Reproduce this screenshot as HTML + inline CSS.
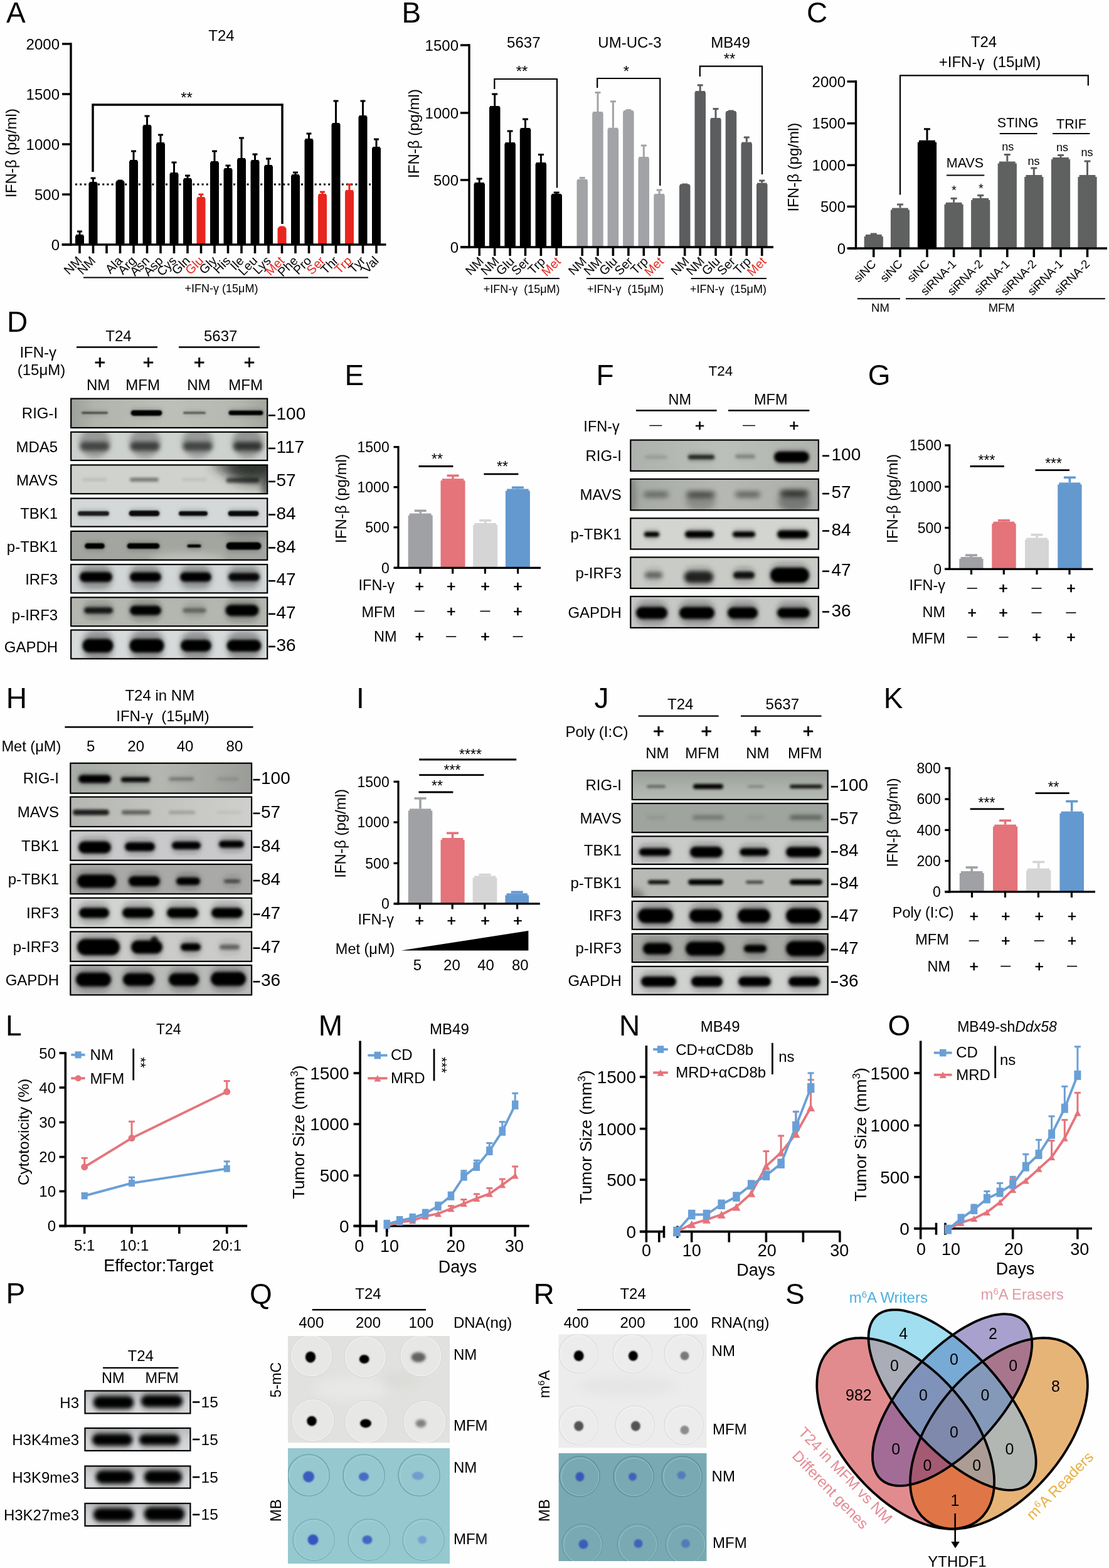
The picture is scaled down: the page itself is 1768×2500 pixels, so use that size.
<!DOCTYPE html>
<html><head><meta charset="utf-8"><title>Figure</title>
<style>html,body{margin:0;padding:0;background:#fff;overflow:hidden;} svg{display:block;}</style></head>
<body><svg width="1768" height="2500" viewBox="0 0 1768 2500" font-family='"Liberation Sans", Arial, Helvetica, sans-serif'>
<rect width="1768" height="2500" fill="#fefefe"/>
<defs><filter id="b1" x="-100%" y="-400%" width="300%" height="900%"><feGaussianBlur stdDeviation="1"/></filter><filter id="b2" x="-100%" y="-400%" width="300%" height="900%"><feGaussianBlur stdDeviation="2"/></filter><filter id="b3" x="-100%" y="-400%" width="300%" height="900%"><feGaussianBlur stdDeviation="3"/></filter><filter id="b4" x="-100%" y="-400%" width="300%" height="900%"><feGaussianBlur stdDeviation="4"/></filter><filter id="b5" x="-100%" y="-400%" width="300%" height="900%"><feGaussianBlur stdDeviation="5"/></filter><filter id="b6" x="-100%" y="-400%" width="300%" height="900%"><feGaussianBlur stdDeviation="6"/></filter><filter id="b8" x="-100%" y="-400%" width="300%" height="900%"><feGaussianBlur stdDeviation="8"/></filter><filter id="b10" x="-100%" y="-400%" width="300%" height="900%"><feGaussianBlur stdDeviation="10"/></filter><filter id="b14" x="-100%" y="-400%" width="300%" height="900%"><feGaussianBlur stdDeviation="14"/></filter><clipPath id="c1"><rect x="113.2" y="635.6" width="313.0" height="46.4"/></clipPath><linearGradient id="g1" x1="0" y1="0" x2="1" y2="0"><stop offset="0" stop-color="#9ca199"/><stop offset="0.12" stop-color="#b0b4ac"/><stop offset="0.5" stop-color="#bcc0b8"/><stop offset="0.85" stop-color="#b4b8b0"/><stop offset="1" stop-color="#a2a69e"/></linearGradient><clipPath id="c2"><rect x="113.2" y="688.8" width="313.0" height="45.2"/></clipPath><clipPath id="c3"><rect x="113.2" y="741.4" width="313.0" height="45.8"/></clipPath><clipPath id="c4"><rect x="113.2" y="794.6" width="313.0" height="45.0"/></clipPath><clipPath id="c5"><rect x="113.2" y="847.0" width="313.0" height="45.8"/></clipPath><clipPath id="c6"><rect x="113.2" y="900.0" width="313.0" height="45.4"/></clipPath><clipPath id="c7"><rect x="113.2" y="952.5" width="313.0" height="45.8"/></clipPath><clipPath id="c8"><rect x="113.2" y="1004.5" width="313.0" height="45.8"/></clipPath><clipPath id="c9"><rect x="1005.3" y="701.6" width="299.6" height="49.3"/></clipPath><linearGradient id="g9" x1="0" y1="0" x2="1" y2="0"><stop offset="0" stop-color="#aeb2ac"/><stop offset="0.5" stop-color="#bcc0ba"/><stop offset="1" stop-color="#b0b3ad"/></linearGradient><clipPath id="c10"><rect x="1005.3" y="763.8" width="299.6" height="49.6"/></clipPath><linearGradient id="g10" x1="0" y1="0" x2="1" y2="0"><stop offset="0" stop-color="#a6aaa4"/><stop offset="0.5" stop-color="#b6b9b3"/><stop offset="1" stop-color="#aaada8"/></linearGradient><clipPath id="c11"><rect x="1005.3" y="826.3" width="299.6" height="49.3"/></clipPath><clipPath id="c12"><rect x="1005.3" y="888.5" width="299.6" height="49.5"/></clipPath><clipPath id="c13"><rect x="1005.3" y="951.0" width="299.6" height="49.9"/></clipPath><clipPath id="c14"><rect x="112.3" y="1216.8" width="288.8" height="47.9"/></clipPath><linearGradient id="g14" x1="0" y1="0" x2="1" y2="0"><stop offset="0" stop-color="#a8aca6"/><stop offset="0.5" stop-color="#b3b6b1"/><stop offset="1" stop-color="#9a9c98"/></linearGradient><clipPath id="c15"><rect x="112.3" y="1270.6" width="288.8" height="47.4"/></clipPath><linearGradient id="g15" x1="0" y1="0" x2="1" y2="0"><stop offset="0" stop-color="#b4b6b2"/><stop offset="0.5" stop-color="#c3c4c0"/><stop offset="1" stop-color="#cfd0cd"/></linearGradient><clipPath id="c16"><rect x="112.3" y="1324.4" width="288.8" height="47.3"/></clipPath><clipPath id="c17"><rect x="112.3" y="1378.0" width="288.8" height="47.2"/></clipPath><clipPath id="c18"><rect x="112.3" y="1431.7" width="288.8" height="47.3"/></clipPath><clipPath id="c19"><rect x="112.3" y="1485.5" width="288.8" height="47.3"/></clipPath><clipPath id="c20"><rect x="112.3" y="1539.0" width="288.8" height="47.3"/></clipPath><clipPath id="c21"><rect x="1007.8" y="1228.7" width="311.9" height="46.2"/></clipPath><linearGradient id="g21" x1="0" y1="0" x2="0" y2="1"><stop offset="0" stop-color="#9a9e98"/><stop offset="0.6" stop-color="#aeb2ac"/><stop offset="1" stop-color="#b6bab4"/></linearGradient><clipPath id="c22"><rect x="1007.8" y="1281.0" width="311.9" height="46.2"/></clipPath><clipPath id="c23"><rect x="1007.8" y="1333.4" width="311.9" height="44.6"/></clipPath><clipPath id="c24"><rect x="1007.8" y="1384.8" width="311.9" height="45.2"/></clipPath><clipPath id="c25"><rect x="1007.8" y="1437.0" width="311.9" height="44.8"/></clipPath><clipPath id="c26"><rect x="1007.8" y="1488.9" width="311.9" height="45.2"/></clipPath><clipPath id="c27"><rect x="1007.8" y="1540.9" width="311.9" height="44.9"/></clipPath><clipPath id="c28"><rect x="135.5" y="2217.5" width="167.9" height="36.0"/></clipPath><linearGradient id="g28" x1="0" y1="0" x2="0" y2="1"><stop offset="0" stop-color="#b8babc"/><stop offset="0.5" stop-color="#cfd1d3"/><stop offset="1" stop-color="#d8dadb"/></linearGradient><clipPath id="c29"><rect x="135.5" y="2277.0" width="167.9" height="36.0"/></clipPath><linearGradient id="g29" x1="0" y1="0" x2="0" y2="1"><stop offset="0" stop-color="#b8babc"/><stop offset="0.5" stop-color="#cfd1d3"/><stop offset="1" stop-color="#d8dadb"/></linearGradient><clipPath id="c30"><rect x="135.5" y="2337.5" width="167.9" height="35.2"/></clipPath><linearGradient id="g30" x1="0" y1="0" x2="0" y2="1"><stop offset="0" stop-color="#b8babc"/><stop offset="0.5" stop-color="#cfd1d3"/><stop offset="1" stop-color="#d8dadb"/></linearGradient><clipPath id="c31"><rect x="135.5" y="2397.0" width="167.9" height="35.9"/></clipPath><linearGradient id="g31" x1="0" y1="0" x2="0" y2="1"><stop offset="0" stop-color="#b8babc"/><stop offset="0.5" stop-color="#cfd1d3"/><stop offset="1" stop-color="#d8dadb"/></linearGradient><clipPath id="cq1"><rect x="459" y="2130" width="258.2" height="170.6"/></clipPath><clipPath id="cq2"><rect x="459" y="2309" width="258.2" height="184.2"/></clipPath><clipPath id="cr1"><rect x="890.4" y="2127.2" width="236.3" height="181.3"/></clipPath><clipPath id="cr2"><rect x="890.4" y="2317" width="236.3" height="172"/></clipPath><clipPath id="cp_pink"><path d="M1320.9,2153.3 L1318.6,2156.0 L1316.4,2158.9 L1314.3,2161.9 L1312.4,2165.1 L1310.6,2168.4 L1309.0,2171.9 L1307.6,2175.5 L1306.4,2179.2 L1305.3,2183.1 L1304.4,2187.1 L1303.6,2191.2 L1303.0,2195.4 L1302.6,2199.7 L1302.4,2204.2 L1302.3,2208.7 L1302.4,2213.4 L1302.7,2218.1 L1303.2,2222.9 L1303.8,2227.8 L1304.6,2232.7 L1305.5,2237.7 L1306.7,2242.8 L1308.0,2247.9 L1309.4,2253.1 L1311.1,2258.3 L1312.9,2263.6 L1314.8,2268.8 L1316.9,2274.1 L1319.2,2279.4 L1321.6,2284.7 L1324.1,2290.1 L1326.8,2295.4 L1329.7,2300.7 L1332.7,2305.9 L1335.8,2311.2 L1339.1,2316.4 L1342.4,2321.6 L1345.9,2326.7 L1349.6,2331.8 L1353.3,2336.8 L1357.2,2341.8 L1361.1,2346.7 L1365.2,2351.5 L1369.3,2356.3 L1373.6,2360.9 L1377.9,2365.5 L1382.3,2370.0 L1386.8,2374.3 L1391.3,2378.6 L1395.9,2382.7 L1400.6,2386.8 L1405.3,2390.7 L1410.1,2394.4 L1414.9,2398.1 L1419.8,2401.6 L1424.6,2404.9 L1429.5,2408.2 L1434.5,2411.2 L1439.4,2414.1 L1444.3,2416.9 L1449.3,2419.5 L1454.2,2421.9 L1459.1,2424.2 L1464.0,2426.3 L1468.9,2428.2 L1473.7,2430.0 L1478.5,2431.5 L1483.3,2432.9 L1488.0,2434.2 L1492.6,2435.2 L1497.2,2436.1 L1501.8,2436.7 L1506.2,2437.2 L1510.6,2437.5 L1514.9,2437.6 L1519.2,2437.6 L1523.3,2437.3 L1527.3,2436.9 L1531.2,2436.2 L1535.1,2435.4 L1538.8,2434.4 L1542.4,2433.3 L1545.8,2431.9 L1549.2,2430.4 L1552.4,2428.7 L1555.5,2426.8 L1558.4,2424.7 L1561.3,2422.5 L1563.9,2420.1 L1566.5,2417.6 L1568.8,2414.9 L1571.0,2412.0 L1573.1,2409.0 L1575.0,2405.8 L1576.8,2402.5 L1578.4,2399.0 L1579.8,2395.4 L1581.0,2391.6 L1582.1,2387.8 L1583.0,2383.8 L1583.8,2379.7 L1584.4,2375.4 L1584.8,2371.1 L1585.0,2366.7 L1585.1,2362.1 L1585.0,2357.5 L1584.7,2352.8 L1584.2,2347.9 L1583.6,2343.1 L1582.8,2338.1 L1581.9,2333.1 L1580.7,2328.0 L1579.4,2322.9 L1578.0,2317.7 L1576.3,2312.5 L1574.5,2307.3 L1572.6,2302.0 L1570.5,2296.7 L1568.2,2291.4 L1565.8,2286.1 L1563.3,2280.8 L1560.6,2275.5 L1557.7,2270.2 L1554.7,2264.9 L1551.6,2259.7 L1548.3,2254.4 L1545.0,2249.3 L1541.5,2244.1 L1537.8,2239.0 L1534.1,2234.0 L1530.2,2229.0 L1526.3,2224.1 L1522.2,2219.3 L1518.1,2214.6 L1513.8,2209.9 L1509.5,2205.3 L1505.1,2200.9 L1500.6,2196.5 L1496.1,2192.2 L1491.5,2188.1 L1486.8,2184.1 L1482.1,2180.2 L1477.3,2176.4 L1472.5,2172.8 L1467.6,2169.3 L1462.8,2165.9 L1457.9,2162.7 L1452.9,2159.6 L1448.0,2156.7 L1443.1,2153.9 L1438.1,2151.3 L1433.2,2148.9 L1428.3,2146.6 L1423.4,2144.5 L1418.5,2142.6 L1413.7,2140.9 L1408.9,2139.3 L1404.1,2137.9 L1399.4,2136.7 L1394.8,2135.6 L1390.2,2134.8 L1385.6,2134.1 L1381.2,2133.6 L1376.8,2133.3 L1372.5,2133.2 L1368.2,2133.3 L1364.1,2133.5 L1360.1,2134.0 L1356.2,2134.6 L1352.3,2135.4 L1348.6,2136.4 L1345.0,2137.6 L1341.6,2138.9 L1338.2,2140.4 L1335.0,2142.2 L1331.9,2144.0 L1329.0,2146.1 L1326.1,2148.3 L1323.5,2150.7 L1320.9,2153.3Z"/></clipPath><clipPath id="cp_blue"><path d="M1395.3,2099.9 L1393.6,2101.9 L1392.0,2104.1 L1390.5,2106.5 L1389.2,2109.0 L1388.1,2111.7 L1387.1,2114.5 L1386.3,2117.5 L1385.6,2120.6 L1385.1,2123.8 L1384.8,2127.2 L1384.6,2130.7 L1384.6,2134.3 L1384.7,2138.1 L1385.0,2141.9 L1385.5,2145.9 L1386.1,2150.0 L1386.9,2154.1 L1387.9,2158.4 L1389.0,2162.7 L1390.2,2167.2 L1391.7,2171.7 L1393.3,2176.3 L1395.0,2181.0 L1396.9,2185.7 L1398.9,2190.5 L1401.1,2195.3 L1403.4,2200.2 L1405.8,2205.1 L1408.4,2210.0 L1411.2,2215.0 L1414.0,2220.0 L1417.0,2225.0 L1420.1,2230.0 L1423.3,2235.0 L1426.7,2240.0 L1430.1,2245.0 L1433.7,2250.0 L1437.4,2255.0 L1441.1,2259.9 L1445.0,2264.8 L1448.9,2269.7 L1452.9,2274.5 L1457.1,2279.3 L1461.2,2284.0 L1465.5,2288.7 L1469.8,2293.2 L1474.2,2297.7 L1478.6,2302.2 L1483.1,2306.5 L1487.6,2310.7 L1492.2,2314.9 L1496.8,2318.9 L1501.4,2322.9 L1506.0,2326.7 L1510.6,2330.4 L1515.3,2334.0 L1520.0,2337.5 L1524.6,2340.9 L1529.3,2344.1 L1533.9,2347.2 L1538.5,2350.1 L1543.1,2352.9 L1547.7,2355.5 L1552.2,2358.0 L1556.7,2360.4 L1561.1,2362.5 L1565.5,2364.6 L1569.9,2366.4 L1574.1,2368.1 L1578.3,2369.7 L1582.4,2371.0 L1586.5,2372.2 L1590.4,2373.3 L1594.3,2374.1 L1598.1,2374.8 L1601.8,2375.3 L1605.4,2375.6 L1608.8,2375.8 L1612.2,2375.8 L1615.5,2375.6 L1618.6,2375.2 L1621.6,2374.7 L1624.5,2374.0 L1627.2,2373.1 L1629.9,2372.0 L1632.3,2370.8 L1634.7,2369.4 L1636.9,2367.8 L1638.9,2366.1 L1640.9,2364.2 L1642.6,2362.1 L1644.2,2359.9 L1645.7,2357.5 L1647.0,2355.0 L1648.1,2352.3 L1649.1,2349.5 L1649.9,2346.6 L1650.6,2343.4 L1651.1,2340.2 L1651.4,2336.8 L1651.6,2333.3 L1651.6,2329.7 L1651.5,2326.0 L1651.2,2322.1 L1650.7,2318.2 L1650.1,2314.1 L1649.3,2309.9 L1648.3,2305.6 L1647.2,2301.3 L1646.0,2296.9 L1644.5,2292.3 L1642.9,2287.7 L1641.2,2283.1 L1639.3,2278.4 L1637.3,2273.6 L1635.1,2268.8 L1632.8,2263.9 L1630.4,2259.0 L1627.8,2254.0 L1625.0,2249.0 L1622.2,2244.1 L1619.2,2239.0 L1616.1,2234.0 L1612.9,2229.0 L1609.5,2224.0 L1606.1,2219.0 L1602.5,2214.0 L1598.8,2209.0 L1595.1,2204.1 L1591.2,2199.2 L1587.3,2194.3 L1583.3,2189.5 L1579.1,2184.7 L1575.0,2180.0 L1570.7,2175.4 L1566.4,2170.8 L1562.0,2166.3 L1557.6,2161.9 L1553.1,2157.5 L1548.6,2153.3 L1544.0,2149.1 L1539.4,2145.1 L1534.8,2141.1 L1530.2,2137.3 L1525.6,2133.6 L1520.9,2130.0 L1516.2,2126.5 L1511.6,2123.2 L1506.9,2120.0 L1502.3,2116.9 L1497.7,2114.0 L1493.1,2111.2 L1488.5,2108.5 L1484.0,2106.0 L1479.5,2103.7 L1475.1,2101.5 L1470.7,2099.5 L1466.3,2097.6 L1462.1,2095.9 L1457.9,2094.4 L1453.8,2093.0 L1449.7,2091.8 L1445.8,2090.8 L1441.9,2089.9 L1438.1,2089.2 L1434.4,2088.7 L1430.8,2088.4 L1427.4,2088.3 L1424.0,2088.3 L1420.7,2088.5 L1417.6,2088.8 L1414.6,2089.4 L1411.7,2090.1 L1409.0,2091.0 L1406.3,2092.0 L1403.9,2093.3 L1401.5,2094.7 L1399.3,2096.2 L1397.3,2098.0 L1395.3,2099.9Z"/></clipPath><clipPath id="cp_purple"><path d="M1633.8,2107.4 L1631.9,2105.5 L1629.9,2103.8 L1627.7,2102.2 L1625.4,2100.7 L1622.9,2099.5 L1620.4,2098.4 L1617.7,2097.4 L1614.9,2096.6 L1611.9,2096.0 L1608.9,2095.6 L1605.7,2095.3 L1602.4,2095.1 L1599.1,2095.2 L1595.6,2095.4 L1592.0,2095.8 L1588.4,2096.3 L1584.6,2097.0 L1580.8,2097.9 L1576.9,2099.0 L1572.9,2100.2 L1568.9,2101.5 L1564.8,2103.0 L1560.7,2104.7 L1556.4,2106.6 L1552.2,2108.5 L1547.9,2110.7 L1543.6,2113.0 L1539.2,2115.4 L1534.8,2118.0 L1530.4,2120.7 L1526.0,2123.5 L1521.6,2126.5 L1517.1,2129.6 L1512.7,2132.8 L1508.2,2136.2 L1503.8,2139.6 L1499.4,2143.2 L1495.1,2146.9 L1490.7,2150.7 L1486.4,2154.6 L1482.1,2158.6 L1477.9,2162.7 L1473.7,2166.8 L1469.6,2171.1 L1465.5,2175.4 L1461.5,2179.8 L1457.5,2184.2 L1453.7,2188.7 L1449.9,2193.3 L1446.2,2197.9 L1442.6,2202.5 L1439.1,2207.2 L1435.6,2211.9 L1432.3,2216.7 L1429.1,2221.4 L1426.0,2226.2 L1423.0,2231.0 L1420.1,2235.7 L1417.3,2240.5 L1414.7,2245.3 L1412.2,2250.0 L1409.8,2254.7 L1407.5,2259.4 L1405.4,2264.1 L1403.4,2268.7 L1401.6,2273.3 L1399.9,2277.8 L1398.3,2282.3 L1396.9,2286.7 L1395.6,2291.1 L1394.5,2295.3 L1393.5,2299.5 L1392.7,2303.7 L1392.1,2307.7 L1391.6,2311.6 L1391.2,2315.5 L1391.0,2319.2 L1391.0,2322.8 L1391.1,2326.3 L1391.3,2329.7 L1391.8,2333.0 L1392.3,2336.2 L1393.1,2339.2 L1394.0,2342.1 L1395.0,2344.9 L1396.2,2347.5 L1397.5,2350.0 L1399.0,2352.4 L1400.6,2354.6 L1402.4,2356.6 L1404.3,2358.5 L1406.3,2360.3 L1408.5,2361.9 L1410.8,2363.3 L1413.3,2364.6 L1415.8,2365.7 L1418.5,2366.6 L1421.3,2367.4 L1424.3,2368.0 L1427.3,2368.5 L1430.5,2368.8 L1433.8,2368.9 L1437.1,2368.8 L1440.6,2368.6 L1444.2,2368.3 L1447.8,2367.7 L1451.6,2367.0 L1455.4,2366.1 L1459.3,2365.1 L1463.3,2363.9 L1467.3,2362.5 L1471.4,2361.0 L1475.5,2359.3 L1479.8,2357.5 L1484.0,2355.5 L1488.3,2353.4 L1492.6,2351.1 L1497.0,2348.7 L1501.4,2346.1 L1505.8,2343.4 L1510.2,2340.5 L1514.6,2337.6 L1519.1,2334.4 L1523.5,2331.2 L1528.0,2327.9 L1532.4,2324.4 L1536.8,2320.8 L1541.1,2317.1 L1545.5,2313.3 L1549.8,2309.4 L1554.1,2305.4 L1558.3,2301.4 L1562.5,2297.2 L1566.6,2293.0 L1570.7,2288.7 L1574.7,2284.3 L1578.7,2279.8 L1582.5,2275.3 L1586.3,2270.8 L1590.0,2266.2 L1593.6,2261.5 L1597.1,2256.8 L1600.6,2252.1 L1603.9,2247.4 L1607.1,2242.6 L1610.2,2237.9 L1613.2,2233.1 L1616.1,2228.3 L1618.9,2223.5 L1621.5,2218.8 L1624.0,2214.0 L1626.4,2209.3 L1628.7,2204.6 L1630.8,2199.9 L1632.8,2195.3 L1634.6,2190.7 L1636.3,2186.2 L1637.9,2181.7 L1639.3,2177.3 L1640.6,2173.0 L1641.7,2168.7 L1642.7,2164.5 L1643.5,2160.4 L1644.1,2156.4 L1644.6,2152.4 L1645.0,2148.6 L1645.2,2144.9 L1645.2,2141.2 L1645.1,2137.7 L1644.9,2134.3 L1644.4,2131.0 L1643.9,2127.9 L1643.1,2124.8 L1642.2,2121.9 L1641.2,2119.1 L1640.0,2116.5 L1638.7,2114.0 L1637.2,2111.7 L1635.6,2109.5 L1633.8,2107.4Z"/></clipPath><clipPath id="cp_orange"><path d="M1715.3,2153.3 L1712.7,2150.7 L1710.1,2148.3 L1707.2,2146.1 L1704.3,2144.0 L1701.2,2142.2 L1698.0,2140.4 L1694.6,2138.9 L1691.2,2137.6 L1687.6,2136.4 L1683.9,2135.4 L1680.0,2134.6 L1676.1,2134.0 L1672.1,2133.5 L1668.0,2133.3 L1663.7,2133.2 L1659.4,2133.3 L1655.0,2133.6 L1650.6,2134.1 L1646.0,2134.8 L1641.4,2135.6 L1636.8,2136.7 L1632.1,2137.9 L1627.3,2139.3 L1622.5,2140.9 L1617.7,2142.6 L1612.8,2144.5 L1607.9,2146.6 L1603.0,2148.9 L1598.1,2151.3 L1593.1,2153.9 L1588.2,2156.7 L1583.3,2159.6 L1578.3,2162.7 L1573.4,2165.9 L1568.6,2169.3 L1563.7,2172.8 L1558.9,2176.4 L1554.1,2180.2 L1549.4,2184.1 L1544.7,2188.1 L1540.1,2192.2 L1535.6,2196.5 L1531.1,2200.9 L1526.7,2205.3 L1522.4,2209.9 L1518.1,2214.6 L1514.0,2219.3 L1509.9,2224.1 L1506.0,2229.0 L1502.1,2234.0 L1498.4,2239.0 L1494.7,2244.1 L1491.2,2249.3 L1487.9,2254.4 L1484.6,2259.7 L1481.5,2264.9 L1478.5,2270.2 L1475.6,2275.5 L1472.9,2280.8 L1470.4,2286.1 L1468.0,2291.4 L1465.7,2296.7 L1463.6,2302.0 L1461.7,2307.3 L1459.9,2312.5 L1458.2,2317.7 L1456.8,2322.9 L1455.5,2328.0 L1454.3,2333.1 L1453.4,2338.1 L1452.6,2343.1 L1452.0,2347.9 L1451.5,2352.8 L1451.2,2357.5 L1451.1,2362.1 L1451.2,2366.7 L1451.4,2371.1 L1451.8,2375.4 L1452.4,2379.7 L1453.2,2383.8 L1454.1,2387.8 L1455.2,2391.6 L1456.4,2395.4 L1457.8,2399.0 L1459.4,2402.5 L1461.2,2405.8 L1463.1,2409.0 L1465.2,2412.0 L1467.4,2414.9 L1469.7,2417.6 L1472.3,2420.1 L1474.9,2422.5 L1477.8,2424.7 L1480.7,2426.8 L1483.8,2428.7 L1487.0,2430.4 L1490.4,2431.9 L1493.8,2433.3 L1497.4,2434.4 L1501.1,2435.4 L1505.0,2436.2 L1508.9,2436.9 L1512.9,2437.3 L1517.0,2437.6 L1521.3,2437.6 L1525.6,2437.5 L1530.0,2437.2 L1534.4,2436.7 L1539.0,2436.1 L1543.6,2435.2 L1548.2,2434.2 L1552.9,2432.9 L1557.7,2431.5 L1562.5,2430.0 L1567.3,2428.2 L1572.2,2426.3 L1577.1,2424.2 L1582.0,2421.9 L1586.9,2419.5 L1591.9,2416.9 L1596.8,2414.1 L1601.7,2411.2 L1606.7,2408.2 L1611.6,2404.9 L1616.4,2401.6 L1621.3,2398.1 L1626.1,2394.4 L1630.9,2390.7 L1635.6,2386.8 L1640.3,2382.7 L1644.9,2378.6 L1649.4,2374.3 L1653.9,2370.0 L1658.3,2365.5 L1662.6,2360.9 L1666.9,2356.3 L1671.0,2351.5 L1675.1,2346.7 L1679.0,2341.8 L1682.9,2336.8 L1686.6,2331.8 L1690.3,2326.7 L1693.8,2321.6 L1697.1,2316.4 L1700.4,2311.2 L1703.5,2305.9 L1706.5,2300.7 L1709.4,2295.4 L1712.1,2290.1 L1714.6,2284.7 L1717.0,2279.4 L1719.3,2274.1 L1721.4,2268.8 L1723.3,2263.6 L1725.1,2258.3 L1726.8,2253.1 L1728.2,2247.9 L1729.5,2242.8 L1730.7,2237.7 L1731.6,2232.7 L1732.4,2227.8 L1733.0,2222.9 L1733.5,2218.1 L1733.8,2213.4 L1733.9,2208.7 L1733.8,2204.2 L1733.6,2199.7 L1733.2,2195.4 L1732.6,2191.2 L1731.8,2187.1 L1730.9,2183.1 L1729.8,2179.2 L1728.6,2175.5 L1727.2,2171.9 L1725.6,2168.4 L1723.8,2165.1 L1721.9,2161.9 L1719.8,2158.9 L1717.6,2156.0 L1715.3,2153.3Z"/></clipPath></defs>
<text x="10.0" y="36.3" font-size="46">A</text>
<text x="353.0" y="65.0" font-size="24" text-anchor="middle">T24</text>
<line x1="120.0" y1="294.0" x2="593.0" y2="294.0" stroke="#000" stroke-width="3" stroke-dasharray="3 4.2"/>
<rect x="120.0" y="376.0" width="14.0" height="14.0" fill="#000"/>
<rect x="121.0" y="374.0" width="12.0" height="2.5" fill="#000"/>
<line x1="127.0" y1="374.0" x2="127.0" y2="368.0" stroke="#000" stroke-width="3"/>
<line x1="123.0" y1="369.0" x2="131.0" y2="369.0" stroke="#000" stroke-width="3"/>
<line x1="127.0" y1="390.0" x2="127.0" y2="404.0" stroke="#000" stroke-width="3.6"/>
<text x="132.0" y="417.0" font-size="20" text-anchor="end" transform="rotate(-45 132.0 417.0)">NM</text>
<rect x="141.5" y="292.0" width="14.0" height="98.0" fill="#000"/>
<rect x="142.5" y="290.0" width="12.0" height="2.5" fill="#000"/>
<line x1="148.5" y1="290.0" x2="148.5" y2="283.0" stroke="#000" stroke-width="3"/>
<line x1="144.5" y1="284.0" x2="152.5" y2="284.0" stroke="#000" stroke-width="3"/>
<line x1="148.5" y1="390.0" x2="148.5" y2="404.0" stroke="#000" stroke-width="3.6"/>
<text x="153.5" y="417.0" font-size="20" text-anchor="end" transform="rotate(-45 153.5 417.0)">NM</text>
<line x1="170.0" y1="390.0" x2="170.0" y2="404.0" stroke="#000" stroke-width="3.6"/>
<rect x="184.5" y="290.0" width="14.0" height="100.0" fill="#000"/>
<rect x="185.5" y="288.0" width="12.0" height="2.5" fill="#000"/>
<line x1="191.5" y1="288.0" x2="191.5" y2="287.0" stroke="#000" stroke-width="3"/>
<line x1="187.5" y1="288.0" x2="195.5" y2="288.0" stroke="#000" stroke-width="3"/>
<line x1="191.5" y1="390.0" x2="191.5" y2="404.0" stroke="#000" stroke-width="3.6"/>
<text x="196.5" y="417.0" font-size="20" text-anchor="end" transform="rotate(-45 196.5 417.0)">Ala</text>
<rect x="206.0" y="257.0" width="14.0" height="133.0" fill="#000"/>
<rect x="207.0" y="255.0" width="12.0" height="2.5" fill="#000"/>
<line x1="213.0" y1="255.0" x2="213.0" y2="240.0" stroke="#000" stroke-width="3"/>
<line x1="209.0" y1="241.0" x2="217.0" y2="241.0" stroke="#000" stroke-width="3"/>
<line x1="213.0" y1="390.0" x2="213.0" y2="404.0" stroke="#000" stroke-width="3.6"/>
<text x="218.0" y="417.0" font-size="20" text-anchor="end" transform="rotate(-45 218.0 417.0)">Arg</text>
<rect x="227.5" y="201.0" width="14.0" height="189.0" fill="#000"/>
<rect x="228.5" y="199.0" width="12.0" height="2.5" fill="#000"/>
<line x1="234.5" y1="199.0" x2="234.5" y2="184.0" stroke="#000" stroke-width="3"/>
<line x1="230.5" y1="185.0" x2="238.5" y2="185.0" stroke="#000" stroke-width="3"/>
<line x1="234.5" y1="390.0" x2="234.5" y2="404.0" stroke="#000" stroke-width="3.6"/>
<text x="239.5" y="417.0" font-size="20" text-anchor="end" transform="rotate(-45 239.5 417.0)">Asn</text>
<rect x="249.0" y="229.0" width="14.0" height="161.0" fill="#000"/>
<rect x="250.0" y="227.0" width="12.0" height="2.5" fill="#000"/>
<line x1="256.0" y1="227.0" x2="256.0" y2="214.0" stroke="#000" stroke-width="3"/>
<line x1="252.0" y1="215.0" x2="260.0" y2="215.0" stroke="#000" stroke-width="3"/>
<line x1="256.0" y1="390.0" x2="256.0" y2="404.0" stroke="#000" stroke-width="3.6"/>
<text x="261.0" y="417.0" font-size="20" text-anchor="end" transform="rotate(-45 261.0 417.0)">Asp</text>
<rect x="270.5" y="277.0" width="14.0" height="113.0" fill="#000"/>
<rect x="271.5" y="275.0" width="12.0" height="2.5" fill="#000"/>
<line x1="277.5" y1="275.0" x2="277.5" y2="258.0" stroke="#000" stroke-width="3"/>
<line x1="273.5" y1="259.0" x2="281.5" y2="259.0" stroke="#000" stroke-width="3"/>
<line x1="277.5" y1="390.0" x2="277.5" y2="404.0" stroke="#000" stroke-width="3.6"/>
<text x="282.5" y="417.0" font-size="20" text-anchor="end" transform="rotate(-45 282.5 417.0)">Cys</text>
<rect x="292.0" y="286.0" width="14.0" height="104.0" fill="#000"/>
<rect x="293.0" y="284.0" width="12.0" height="2.5" fill="#000"/>
<line x1="299.0" y1="284.0" x2="299.0" y2="279.0" stroke="#000" stroke-width="3"/>
<line x1="295.0" y1="280.0" x2="303.0" y2="280.0" stroke="#000" stroke-width="3"/>
<line x1="299.0" y1="390.0" x2="299.0" y2="404.0" stroke="#000" stroke-width="3.6"/>
<text x="304.0" y="417.0" font-size="20" text-anchor="end" transform="rotate(-45 304.0 417.0)">Gln</text>
<rect x="313.5" y="316.0" width="14.0" height="74.0" fill="#e8261f"/>
<rect x="314.5" y="314.0" width="12.0" height="2.5" fill="#e8261f"/>
<line x1="320.5" y1="314.0" x2="320.5" y2="309.0" stroke="#e8261f" stroke-width="3"/>
<line x1="316.5" y1="310.0" x2="324.5" y2="310.0" stroke="#e8261f" stroke-width="3"/>
<line x1="320.5" y1="390.0" x2="320.5" y2="404.0" stroke="#000" stroke-width="3.6"/>
<text x="325.5" y="417.0" font-size="20" text-anchor="end" fill="#e8261f" transform="rotate(-45 325.5 417.0)">Glu</text>
<rect x="335.0" y="259.0" width="14.0" height="131.0" fill="#000"/>
<rect x="336.0" y="257.0" width="12.0" height="2.5" fill="#000"/>
<line x1="342.0" y1="257.0" x2="342.0" y2="240.0" stroke="#000" stroke-width="3"/>
<line x1="338.0" y1="241.0" x2="346.0" y2="241.0" stroke="#000" stroke-width="3"/>
<line x1="342.0" y1="390.0" x2="342.0" y2="404.0" stroke="#000" stroke-width="3.6"/>
<text x="347.0" y="417.0" font-size="20" text-anchor="end" transform="rotate(-45 347.0 417.0)">Gly</text>
<rect x="356.5" y="270.0" width="14.0" height="120.0" fill="#000"/>
<rect x="357.5" y="268.0" width="12.0" height="2.5" fill="#000"/>
<line x1="363.5" y1="268.0" x2="363.5" y2="263.0" stroke="#000" stroke-width="3"/>
<line x1="359.5" y1="264.0" x2="367.5" y2="264.0" stroke="#000" stroke-width="3"/>
<line x1="363.5" y1="390.0" x2="363.5" y2="404.0" stroke="#000" stroke-width="3.6"/>
<text x="368.5" y="417.0" font-size="20" text-anchor="end" transform="rotate(-45 368.5 417.0)">His</text>
<rect x="378.0" y="254.0" width="14.0" height="136.0" fill="#000"/>
<rect x="379.0" y="252.0" width="12.0" height="2.5" fill="#000"/>
<line x1="385.0" y1="252.0" x2="385.0" y2="219.0" stroke="#000" stroke-width="3"/>
<line x1="381.0" y1="220.0" x2="389.0" y2="220.0" stroke="#000" stroke-width="3"/>
<line x1="385.0" y1="390.0" x2="385.0" y2="404.0" stroke="#000" stroke-width="3.6"/>
<text x="390.0" y="417.0" font-size="20" text-anchor="end" transform="rotate(-45 390.0 417.0)">Ile</text>
<rect x="399.5" y="257.0" width="14.0" height="133.0" fill="#000"/>
<rect x="400.5" y="255.0" width="12.0" height="2.5" fill="#000"/>
<line x1="406.5" y1="255.0" x2="406.5" y2="245.0" stroke="#000" stroke-width="3"/>
<line x1="402.5" y1="246.0" x2="410.5" y2="246.0" stroke="#000" stroke-width="3"/>
<line x1="406.5" y1="390.0" x2="406.5" y2="404.0" stroke="#000" stroke-width="3.6"/>
<text x="411.5" y="417.0" font-size="20" text-anchor="end" transform="rotate(-45 411.5 417.0)">Leu</text>
<rect x="421.0" y="265.0" width="14.0" height="125.0" fill="#000"/>
<rect x="422.0" y="263.0" width="12.0" height="2.5" fill="#000"/>
<line x1="428.0" y1="263.0" x2="428.0" y2="252.0" stroke="#000" stroke-width="3"/>
<line x1="424.0" y1="253.0" x2="432.0" y2="253.0" stroke="#000" stroke-width="3"/>
<line x1="428.0" y1="390.0" x2="428.0" y2="404.0" stroke="#000" stroke-width="3.6"/>
<text x="433.0" y="417.0" font-size="20" text-anchor="end" transform="rotate(-45 433.0 417.0)">Lys</text>
<rect x="442.5" y="364.0" width="14.0" height="26.0" fill="#e8261f"/>
<rect x="443.5" y="362.0" width="12.0" height="2.5" fill="#e8261f"/>
<line x1="449.5" y1="362.0" x2="449.5" y2="361.0" stroke="#e8261f" stroke-width="3"/>
<line x1="445.5" y1="362.0" x2="453.5" y2="362.0" stroke="#e8261f" stroke-width="3"/>
<line x1="449.5" y1="390.0" x2="449.5" y2="404.0" stroke="#000" stroke-width="3.6"/>
<text x="454.5" y="417.0" font-size="20" text-anchor="end" fill="#e8261f" transform="rotate(-45 454.5 417.0)">Met</text>
<rect x="464.0" y="280.0" width="14.0" height="110.0" fill="#000"/>
<rect x="465.0" y="278.0" width="12.0" height="2.5" fill="#000"/>
<line x1="471.0" y1="278.0" x2="471.0" y2="274.0" stroke="#000" stroke-width="3"/>
<line x1="467.0" y1="275.0" x2="475.0" y2="275.0" stroke="#000" stroke-width="3"/>
<line x1="471.0" y1="390.0" x2="471.0" y2="404.0" stroke="#000" stroke-width="3.6"/>
<text x="476.0" y="417.0" font-size="20" text-anchor="end" transform="rotate(-45 476.0 417.0)">Phe</text>
<rect x="485.5" y="223.0" width="14.0" height="167.0" fill="#000"/>
<rect x="486.5" y="221.0" width="12.0" height="2.5" fill="#000"/>
<line x1="492.5" y1="221.0" x2="492.5" y2="212.0" stroke="#000" stroke-width="3"/>
<line x1="488.5" y1="213.0" x2="496.5" y2="213.0" stroke="#000" stroke-width="3"/>
<line x1="492.5" y1="390.0" x2="492.5" y2="404.0" stroke="#000" stroke-width="3.6"/>
<text x="497.5" y="417.0" font-size="20" text-anchor="end" transform="rotate(-45 497.5 417.0)">Pro</text>
<rect x="507.0" y="311.0" width="14.0" height="79.0" fill="#e8261f"/>
<rect x="508.0" y="309.0" width="12.0" height="2.5" fill="#e8261f"/>
<line x1="514.0" y1="309.0" x2="514.0" y2="305.0" stroke="#e8261f" stroke-width="3"/>
<line x1="510.0" y1="306.0" x2="518.0" y2="306.0" stroke="#e8261f" stroke-width="3"/>
<line x1="514.0" y1="390.0" x2="514.0" y2="404.0" stroke="#000" stroke-width="3.6"/>
<text x="519.0" y="417.0" font-size="20" text-anchor="end" fill="#e8261f" transform="rotate(-45 519.0 417.0)">Ser</text>
<rect x="528.5" y="198.0" width="14.0" height="192.0" fill="#000"/>
<rect x="529.5" y="196.0" width="12.0" height="2.5" fill="#000"/>
<line x1="535.5" y1="196.0" x2="535.5" y2="160.0" stroke="#000" stroke-width="3"/>
<line x1="531.5" y1="161.0" x2="539.5" y2="161.0" stroke="#000" stroke-width="3"/>
<line x1="535.5" y1="390.0" x2="535.5" y2="404.0" stroke="#000" stroke-width="3.6"/>
<text x="540.5" y="417.0" font-size="20" text-anchor="end" transform="rotate(-45 540.5 417.0)">Thr</text>
<rect x="550.0" y="305.0" width="14.0" height="85.0" fill="#e8261f"/>
<rect x="551.0" y="303.0" width="12.0" height="2.5" fill="#e8261f"/>
<line x1="557.0" y1="303.0" x2="557.0" y2="293.0" stroke="#e8261f" stroke-width="3"/>
<line x1="553.0" y1="294.0" x2="561.0" y2="294.0" stroke="#e8261f" stroke-width="3"/>
<line x1="557.0" y1="390.0" x2="557.0" y2="404.0" stroke="#000" stroke-width="3.6"/>
<text x="562.0" y="417.0" font-size="20" text-anchor="end" fill="#e8261f" transform="rotate(-45 562.0 417.0)">Trp</text>
<rect x="571.5" y="186.0" width="14.0" height="204.0" fill="#000"/>
<rect x="572.5" y="184.0" width="12.0" height="2.5" fill="#000"/>
<line x1="578.5" y1="184.0" x2="578.5" y2="160.0" stroke="#000" stroke-width="3"/>
<line x1="574.5" y1="161.0" x2="582.5" y2="161.0" stroke="#000" stroke-width="3"/>
<line x1="578.5" y1="390.0" x2="578.5" y2="404.0" stroke="#000" stroke-width="3.6"/>
<text x="583.5" y="417.0" font-size="20" text-anchor="end" transform="rotate(-45 583.5 417.0)">Tyr</text>
<rect x="593.0" y="236.0" width="14.0" height="154.0" fill="#000"/>
<rect x="594.0" y="234.0" width="12.0" height="2.5" fill="#000"/>
<line x1="600.0" y1="234.0" x2="600.0" y2="221.0" stroke="#000" stroke-width="3"/>
<line x1="596.0" y1="222.0" x2="604.0" y2="222.0" stroke="#000" stroke-width="3"/>
<line x1="600.0" y1="390.0" x2="600.0" y2="404.0" stroke="#000" stroke-width="3.6"/>
<text x="605.0" y="417.0" font-size="20" text-anchor="end" transform="rotate(-45 605.0 417.0)">Val</text>
<line x1="113.0" y1="68.3" x2="113.0" y2="391.7" stroke="#000" stroke-width="3.4"/>
<line x1="99.0" y1="70.0" x2="113.0" y2="70.0" stroke="#000" stroke-width="3.4"/>
<text x="95.0" y="78.6" font-size="24" text-anchor="end">2000</text>
<line x1="99.0" y1="150.0" x2="113.0" y2="150.0" stroke="#000" stroke-width="3.4"/>
<text x="95.0" y="158.6" font-size="24" text-anchor="end">1500</text>
<line x1="99.0" y1="230.0" x2="113.0" y2="230.0" stroke="#000" stroke-width="3.4"/>
<text x="95.0" y="238.6" font-size="24" text-anchor="end">1000</text>
<line x1="99.0" y1="310.0" x2="113.0" y2="310.0" stroke="#000" stroke-width="3.4"/>
<text x="95.0" y="318.6" font-size="24" text-anchor="end">500</text>
<line x1="99.0" y1="390.0" x2="113.0" y2="390.0" stroke="#000" stroke-width="3.4"/>
<text x="95.0" y="398.6" font-size="24" text-anchor="end">0</text>
<line x1="98.5" y1="390.0" x2="615.5" y2="390.0" stroke="#000" stroke-width="3.6"/>
<path d="M148 274 V167 H450 V357" fill="none" stroke="#000" stroke-width="3.5"/>
<text x="297.5" y="164.0" font-size="24" text-anchor="middle">**</text>
<line x1="133.0" y1="442.5" x2="587.0" y2="442.5" stroke="#000" stroke-width="2"/>
<text x="353.0" y="466.0" font-size="18" text-anchor="middle">+IFN-γ (15μM)</text>
<text x="26.0" y="244.0" font-size="24" text-anchor="middle" transform="rotate(-90 26.0 244.0)">IFN-β (pg/ml)</text>
<text x="640.5" y="36.0" font-size="46">B</text>
<rect x="755.5" y="293.0" width="17.5" height="101.0" fill="#000"/>
<rect x="756.5" y="291.0" width="15.5" height="2.5" fill="#000"/>
<line x1="764.2" y1="291.0" x2="764.2" y2="284.0" stroke="#000" stroke-width="3"/>
<line x1="759.7" y1="285.0" x2="768.7" y2="285.0" stroke="#000" stroke-width="3"/>
<line x1="764.2" y1="394.0" x2="764.2" y2="408.0" stroke="#000" stroke-width="3.6"/>
<text x="772.2" y="418.0" font-size="20" text-anchor="end" transform="rotate(-45 772.2 418.0)">NM</text>
<rect x="780.0" y="171.0" width="17.5" height="223.0" fill="#000"/>
<rect x="781.0" y="169.0" width="15.5" height="2.5" fill="#000"/>
<line x1="788.7" y1="169.0" x2="788.7" y2="149.0" stroke="#000" stroke-width="3"/>
<line x1="784.2" y1="150.0" x2="793.2" y2="150.0" stroke="#000" stroke-width="3"/>
<line x1="788.7" y1="394.0" x2="788.7" y2="408.0" stroke="#000" stroke-width="3.6"/>
<text x="796.7" y="418.0" font-size="20" text-anchor="end" transform="rotate(-45 796.7 418.0)">NM</text>
<rect x="804.4" y="229.0" width="17.5" height="165.0" fill="#000"/>
<rect x="805.4" y="227.0" width="15.5" height="2.5" fill="#000"/>
<line x1="813.1" y1="227.0" x2="813.1" y2="208.0" stroke="#000" stroke-width="3"/>
<line x1="808.6" y1="209.0" x2="817.6" y2="209.0" stroke="#000" stroke-width="3"/>
<line x1="813.1" y1="394.0" x2="813.1" y2="408.0" stroke="#000" stroke-width="3.6"/>
<text x="821.1" y="418.0" font-size="20" text-anchor="end" transform="rotate(-45 821.1 418.0)">Glu</text>
<rect x="828.8" y="206.0" width="17.5" height="188.0" fill="#000"/>
<rect x="829.8" y="204.0" width="15.5" height="2.5" fill="#000"/>
<line x1="837.5" y1="204.0" x2="837.5" y2="189.0" stroke="#000" stroke-width="3"/>
<line x1="833.0" y1="190.0" x2="842.0" y2="190.0" stroke="#000" stroke-width="3"/>
<line x1="837.5" y1="394.0" x2="837.5" y2="408.0" stroke="#000" stroke-width="3.6"/>
<text x="845.5" y="418.0" font-size="20" text-anchor="end" transform="rotate(-45 845.5 418.0)">Ser</text>
<rect x="853.6" y="261.0" width="17.5" height="133.0" fill="#000"/>
<rect x="854.6" y="259.0" width="15.5" height="2.5" fill="#000"/>
<line x1="862.4" y1="259.0" x2="862.4" y2="245.5" stroke="#000" stroke-width="3"/>
<line x1="857.9" y1="246.5" x2="866.9" y2="246.5" stroke="#000" stroke-width="3"/>
<line x1="862.4" y1="394.0" x2="862.4" y2="408.0" stroke="#000" stroke-width="3.6"/>
<text x="870.4" y="418.0" font-size="20" text-anchor="end" transform="rotate(-45 870.4 418.0)">Trp</text>
<rect x="878.5" y="311.0" width="17.5" height="83.0" fill="#000"/>
<rect x="879.5" y="309.0" width="15.5" height="2.5" fill="#000"/>
<line x1="887.2" y1="309.0" x2="887.2" y2="306.0" stroke="#000" stroke-width="3"/>
<line x1="882.7" y1="307.0" x2="891.7" y2="307.0" stroke="#000" stroke-width="3"/>
<line x1="887.2" y1="394.0" x2="887.2" y2="408.0" stroke="#000" stroke-width="3.6"/>
<text x="895.2" y="418.0" font-size="20" text-anchor="end" fill="#e8261f" transform="rotate(-45 895.2 418.0)">Met</text>
<rect x="919.5" y="287.7" width="17.5" height="106.3" fill="#a2a3a6"/>
<rect x="920.5" y="285.7" width="15.5" height="2.5" fill="#a2a3a6"/>
<line x1="928.2" y1="285.7" x2="928.2" y2="282.6" stroke="#a2a3a6" stroke-width="3"/>
<line x1="923.7" y1="283.6" x2="932.7" y2="283.6" stroke="#a2a3a6" stroke-width="3"/>
<line x1="928.2" y1="394.0" x2="928.2" y2="408.0" stroke="#000" stroke-width="3.6"/>
<text x="936.2" y="418.0" font-size="20" text-anchor="end" transform="rotate(-45 936.2 418.0)">NM</text>
<rect x="944.2" y="180.0" width="17.5" height="214.0" fill="#a2a3a6"/>
<rect x="945.2" y="178.0" width="15.5" height="2.5" fill="#a2a3a6"/>
<line x1="953.0" y1="178.0" x2="953.0" y2="146.6" stroke="#a2a3a6" stroke-width="3"/>
<line x1="948.5" y1="147.6" x2="957.5" y2="147.6" stroke="#a2a3a6" stroke-width="3"/>
<line x1="953.0" y1="394.0" x2="953.0" y2="408.0" stroke="#000" stroke-width="3.6"/>
<text x="961.0" y="418.0" font-size="20" text-anchor="end" transform="rotate(-45 961.0 418.0)">NM</text>
<rect x="968.6" y="205.7" width="17.5" height="188.3" fill="#a2a3a6"/>
<rect x="969.6" y="203.7" width="15.5" height="2.5" fill="#a2a3a6"/>
<line x1="977.4" y1="203.7" x2="977.4" y2="160.8" stroke="#a2a3a6" stroke-width="3"/>
<line x1="972.9" y1="161.8" x2="981.9" y2="161.8" stroke="#a2a3a6" stroke-width="3"/>
<line x1="977.4" y1="394.0" x2="977.4" y2="408.0" stroke="#000" stroke-width="3.6"/>
<text x="985.4" y="418.0" font-size="20" text-anchor="end" transform="rotate(-45 985.4 418.0)">Glu</text>
<rect x="993.1" y="178.0" width="17.5" height="216.0" fill="#a2a3a6"/>
<rect x="994.1" y="176.0" width="15.5" height="2.5" fill="#a2a3a6"/>
<line x1="1001.9" y1="176.0" x2="1001.9" y2="174.6" stroke="#a2a3a6" stroke-width="3"/>
<line x1="997.4" y1="175.6" x2="1006.4" y2="175.6" stroke="#a2a3a6" stroke-width="3"/>
<line x1="1001.9" y1="394.0" x2="1001.9" y2="408.0" stroke="#000" stroke-width="3.6"/>
<text x="1009.9" y="418.0" font-size="20" text-anchor="end" transform="rotate(-45 1009.9 418.0)">Ser</text>
<rect x="1017.5" y="252.0" width="17.5" height="142.0" fill="#a2a3a6"/>
<rect x="1018.5" y="250.0" width="15.5" height="2.5" fill="#a2a3a6"/>
<line x1="1026.3" y1="250.0" x2="1026.3" y2="231.0" stroke="#a2a3a6" stroke-width="3"/>
<line x1="1021.8" y1="232.0" x2="1030.8" y2="232.0" stroke="#a2a3a6" stroke-width="3"/>
<line x1="1026.3" y1="394.0" x2="1026.3" y2="408.0" stroke="#000" stroke-width="3.6"/>
<text x="1034.3" y="418.0" font-size="20" text-anchor="end" transform="rotate(-45 1034.3 418.0)">Trp</text>
<rect x="1042.3" y="311.0" width="17.5" height="83.0" fill="#a2a3a6"/>
<rect x="1043.3" y="309.0" width="15.5" height="2.5" fill="#a2a3a6"/>
<line x1="1051.1" y1="309.0" x2="1051.1" y2="302.0" stroke="#a2a3a6" stroke-width="3"/>
<line x1="1046.6" y1="303.0" x2="1055.6" y2="303.0" stroke="#a2a3a6" stroke-width="3"/>
<line x1="1051.1" y1="394.0" x2="1051.1" y2="408.0" stroke="#000" stroke-width="3.6"/>
<text x="1059.1" y="418.0" font-size="20" text-anchor="end" fill="#e8261f" transform="rotate(-45 1059.1 418.0)">Met</text>
<rect x="1083.0" y="295.6" width="17.5" height="98.4" fill="#5c5d5e"/>
<rect x="1084.0" y="293.6" width="15.5" height="2.5" fill="#5c5d5e"/>
<line x1="1091.7" y1="293.6" x2="1091.7" y2="293.0" stroke="#5c5d5e" stroke-width="3"/>
<line x1="1087.2" y1="294.0" x2="1096.2" y2="294.0" stroke="#5c5d5e" stroke-width="3"/>
<line x1="1091.7" y1="394.0" x2="1091.7" y2="408.0" stroke="#000" stroke-width="3.6"/>
<text x="1099.7" y="418.0" font-size="20" text-anchor="end" transform="rotate(-45 1099.7 418.0)">NM</text>
<rect x="1107.5" y="147.0" width="17.5" height="247.0" fill="#5c5d5e"/>
<rect x="1108.5" y="145.0" width="15.5" height="2.5" fill="#5c5d5e"/>
<line x1="1116.2" y1="145.0" x2="1116.2" y2="134.8" stroke="#5c5d5e" stroke-width="3"/>
<line x1="1111.7" y1="135.8" x2="1120.7" y2="135.8" stroke="#5c5d5e" stroke-width="3"/>
<line x1="1116.2" y1="394.0" x2="1116.2" y2="408.0" stroke="#000" stroke-width="3.6"/>
<text x="1124.2" y="418.0" font-size="20" text-anchor="end" transform="rotate(-45 1124.2 418.0)">NM</text>
<rect x="1132.2" y="190.0" width="17.5" height="204.0" fill="#5c5d5e"/>
<rect x="1133.2" y="188.0" width="15.5" height="2.5" fill="#5c5d5e"/>
<line x1="1141.0" y1="188.0" x2="1141.0" y2="172.6" stroke="#5c5d5e" stroke-width="3"/>
<line x1="1136.5" y1="173.6" x2="1145.5" y2="173.6" stroke="#5c5d5e" stroke-width="3"/>
<line x1="1141.0" y1="394.0" x2="1141.0" y2="408.0" stroke="#000" stroke-width="3.6"/>
<text x="1149.0" y="418.0" font-size="20" text-anchor="end" transform="rotate(-45 1149.0 418.0)">Glu</text>
<rect x="1156.7" y="179.0" width="17.5" height="215.0" fill="#5c5d5e"/>
<rect x="1157.7" y="177.0" width="15.5" height="2.5" fill="#5c5d5e"/>
<line x1="1165.4" y1="177.0" x2="1165.4" y2="176.0" stroke="#5c5d5e" stroke-width="3"/>
<line x1="1160.9" y1="177.0" x2="1169.9" y2="177.0" stroke="#5c5d5e" stroke-width="3"/>
<line x1="1165.4" y1="394.0" x2="1165.4" y2="408.0" stroke="#000" stroke-width="3.6"/>
<text x="1173.4" y="418.0" font-size="20" text-anchor="end" transform="rotate(-45 1173.4 418.0)">Ser</text>
<rect x="1181.5" y="228.6" width="17.5" height="165.4" fill="#5c5d5e"/>
<rect x="1182.5" y="226.6" width="15.5" height="2.5" fill="#5c5d5e"/>
<line x1="1190.3" y1="226.6" x2="1190.3" y2="218.0" stroke="#5c5d5e" stroke-width="3"/>
<line x1="1185.8" y1="219.0" x2="1194.8" y2="219.0" stroke="#5c5d5e" stroke-width="3"/>
<line x1="1190.3" y1="394.0" x2="1190.3" y2="408.0" stroke="#000" stroke-width="3.6"/>
<text x="1198.3" y="418.0" font-size="20" text-anchor="end" transform="rotate(-45 1198.3 418.0)">Trp</text>
<rect x="1206.0" y="293.6" width="17.5" height="100.4" fill="#5c5d5e"/>
<rect x="1207.0" y="291.6" width="15.5" height="2.5" fill="#5c5d5e"/>
<line x1="1214.7" y1="291.6" x2="1214.7" y2="287.0" stroke="#5c5d5e" stroke-width="3"/>
<line x1="1210.2" y1="288.0" x2="1219.2" y2="288.0" stroke="#5c5d5e" stroke-width="3"/>
<line x1="1214.7" y1="394.0" x2="1214.7" y2="408.0" stroke="#000" stroke-width="3.6"/>
<text x="1222.7" y="418.0" font-size="20" text-anchor="end" fill="#e8261f" transform="rotate(-45 1222.7 418.0)">Met</text>
<line x1="748.0" y1="70.3" x2="748.0" y2="395.7" stroke="#000" stroke-width="3.4"/>
<line x1="734.0" y1="72.0" x2="748.0" y2="72.0" stroke="#000" stroke-width="3.4"/>
<text x="731.0" y="80.6" font-size="24" text-anchor="end">1500</text>
<line x1="734.0" y1="180.0" x2="748.0" y2="180.0" stroke="#000" stroke-width="3.4"/>
<text x="731.0" y="188.6" font-size="24" text-anchor="end">1000</text>
<line x1="734.0" y1="287.0" x2="748.0" y2="287.0" stroke="#000" stroke-width="3.4"/>
<text x="731.0" y="295.6" font-size="24" text-anchor="end">500</text>
<line x1="734.0" y1="394.0" x2="748.0" y2="394.0" stroke="#000" stroke-width="3.4"/>
<text x="731.0" y="402.6" font-size="24" text-anchor="end">0</text>
<line x1="734.0" y1="394.0" x2="1233.0" y2="394.0" stroke="#000" stroke-width="3.6"/>
<path d="M788.3 142 V126 H888 V299.5" fill="none" stroke="#000" stroke-width="2.2"/>
<text x="832.0" y="122.0" font-size="24" text-anchor="middle">**</text>
<path d="M952.2 140 V125 H1052.3 V296" fill="none" stroke="#000" stroke-width="2.2"/>
<text x="998.3" y="122.0" font-size="24" text-anchor="middle">*</text>
<path d="M1115.8 122 V105.6 H1215 V278" fill="none" stroke="#000" stroke-width="2.2"/>
<text x="1163.0" y="102.0" font-size="24" text-anchor="middle">**</text>
<line x1="771.0" y1="444.0" x2="892.0" y2="444.0" stroke="#000" stroke-width="2"/>
<text x="831.6" y="467.0" font-size="18" text-anchor="middle" xml:space="preserve">+IFN-γ  (15μM)</text>
<line x1="935.0" y1="444.0" x2="1058.0" y2="444.0" stroke="#000" stroke-width="2"/>
<text x="997.0" y="467.0" font-size="18" text-anchor="middle" xml:space="preserve">+IFN-γ  (15μM)</text>
<line x1="1101.6" y1="444.0" x2="1222.0" y2="444.0" stroke="#000" stroke-width="2"/>
<text x="1161.0" y="467.0" font-size="18" text-anchor="middle" xml:space="preserve">+IFN-γ  (15μM)</text>
<text x="834.8" y="76.0" font-size="24" text-anchor="middle">5637</text>
<text x="1004.0" y="76.0" font-size="24" text-anchor="middle">UM-UC-3</text>
<text x="1164.6" y="76.0" font-size="24" text-anchor="middle">MB49</text>
<text x="668.0" y="213.0" font-size="24" text-anchor="middle" transform="rotate(-90 668.0 213.0)">IFN-β (pg/ml)</text>
<text x="1286.0" y="36.0" font-size="46">C</text>
<text x="1568.4" y="75.4" font-size="24" text-anchor="middle">T24</text>
<text x="1578.0" y="107.0" font-size="24" text-anchor="middle" xml:space="preserve">+IFN-γ  (15μM)</text>
<rect x="1377.7" y="376.9" width="30.2" height="19.1" fill="#5f6060"/>
<rect x="1379.9" y="373.9" width="25.8" height="3.5" fill="#5f6060"/>
<line x1="1392.8" y1="373.9" x2="1392.8" y2="372.0" stroke="#5f6060" stroke-width="3"/>
<line x1="1387.8" y1="373.0" x2="1397.8" y2="373.0" stroke="#5f6060" stroke-width="3"/>
<line x1="1392.8" y1="396.0" x2="1392.8" y2="410.0" stroke="#000" stroke-width="3.6"/>
<text x="1397.8" y="422.0" font-size="19" text-anchor="end" transform="rotate(-45 1397.8 422.0)">siNC</text>
<rect x="1419.9" y="334.6" width="30.2" height="61.4" fill="#5f6060"/>
<rect x="1422.1" y="331.6" width="25.8" height="3.5" fill="#5f6060"/>
<line x1="1435.0" y1="331.6" x2="1435.0" y2="325.0" stroke="#5f6060" stroke-width="3"/>
<line x1="1430.0" y1="326.0" x2="1440.0" y2="326.0" stroke="#5f6060" stroke-width="3"/>
<line x1="1435.0" y1="396.0" x2="1435.0" y2="410.0" stroke="#000" stroke-width="3.6"/>
<text x="1440.0" y="422.0" font-size="19" text-anchor="end" transform="rotate(-45 1440.0 422.0)">siNC</text>
<rect x="1462.9" y="226.7" width="30.2" height="169.3" fill="#000"/>
<rect x="1465.1" y="223.7" width="25.8" height="3.5" fill="#000"/>
<line x1="1478.0" y1="223.7" x2="1478.0" y2="204.8" stroke="#000" stroke-width="3"/>
<line x1="1473.0" y1="205.8" x2="1483.0" y2="205.8" stroke="#000" stroke-width="3"/>
<line x1="1478.0" y1="396.0" x2="1478.0" y2="410.0" stroke="#000" stroke-width="3.6"/>
<text x="1483.0" y="422.0" font-size="19" text-anchor="end" transform="rotate(-45 1483.0 422.0)">siNC</text>
<rect x="1505.5" y="325.8" width="30.2" height="70.2" fill="#5f6060"/>
<rect x="1507.7" y="322.8" width="25.8" height="3.5" fill="#5f6060"/>
<line x1="1520.6" y1="322.8" x2="1520.6" y2="315.4" stroke="#5f6060" stroke-width="3"/>
<line x1="1515.6" y1="316.4" x2="1525.6" y2="316.4" stroke="#5f6060" stroke-width="3"/>
<line x1="1520.6" y1="396.0" x2="1520.6" y2="410.0" stroke="#000" stroke-width="3.6"/>
<text x="1525.6" y="422.0" font-size="19" text-anchor="end" transform="rotate(-45 1525.6 422.0)">siRNA-1</text>
<rect x="1548.1" y="319.0" width="30.2" height="77.0" fill="#5f6060"/>
<rect x="1550.3" y="316.0" width="25.8" height="3.5" fill="#5f6060"/>
<line x1="1563.2" y1="316.0" x2="1563.2" y2="310.5" stroke="#5f6060" stroke-width="3"/>
<line x1="1558.2" y1="311.5" x2="1568.2" y2="311.5" stroke="#5f6060" stroke-width="3"/>
<line x1="1563.2" y1="396.0" x2="1563.2" y2="410.0" stroke="#000" stroke-width="3.6"/>
<text x="1568.2" y="422.0" font-size="19" text-anchor="end" transform="rotate(-45 1568.2 422.0)">siRNA-2</text>
<rect x="1590.7" y="260.5" width="30.2" height="135.5" fill="#5f6060"/>
<rect x="1592.9" y="257.5" width="25.8" height="3.5" fill="#5f6060"/>
<line x1="1605.8" y1="257.5" x2="1605.8" y2="245.5" stroke="#5f6060" stroke-width="3"/>
<line x1="1600.8" y1="246.5" x2="1610.8" y2="246.5" stroke="#5f6060" stroke-width="3"/>
<line x1="1605.8" y1="396.0" x2="1605.8" y2="410.0" stroke="#000" stroke-width="3.6"/>
<text x="1610.8" y="422.0" font-size="19" text-anchor="end" transform="rotate(-45 1610.8 422.0)">siRNA-1</text>
<rect x="1633.2" y="282.0" width="30.2" height="114.0" fill="#5f6060"/>
<rect x="1635.4" y="279.0" width="25.8" height="3.5" fill="#5f6060"/>
<line x1="1648.3" y1="279.0" x2="1648.3" y2="267.0" stroke="#5f6060" stroke-width="3"/>
<line x1="1643.3" y1="268.0" x2="1653.3" y2="268.0" stroke="#5f6060" stroke-width="3"/>
<line x1="1648.3" y1="396.0" x2="1648.3" y2="410.0" stroke="#000" stroke-width="3.6"/>
<text x="1653.3" y="422.0" font-size="19" text-anchor="end" transform="rotate(-45 1653.3 422.0)">siRNA-2</text>
<rect x="1675.9" y="254.0" width="30.2" height="142.0" fill="#5f6060"/>
<rect x="1678.1" y="251.0" width="25.8" height="3.5" fill="#5f6060"/>
<line x1="1691.0" y1="251.0" x2="1691.0" y2="246.4" stroke="#5f6060" stroke-width="3"/>
<line x1="1686.0" y1="247.4" x2="1696.0" y2="247.4" stroke="#5f6060" stroke-width="3"/>
<line x1="1691.0" y1="396.0" x2="1691.0" y2="410.0" stroke="#000" stroke-width="3.6"/>
<text x="1696.0" y="422.0" font-size="19" text-anchor="end" transform="rotate(-45 1696.0 422.0)">siRNA-1</text>
<rect x="1718.4" y="282.0" width="30.2" height="114.0" fill="#5f6060"/>
<rect x="1720.6" y="279.0" width="25.8" height="3.5" fill="#5f6060"/>
<line x1="1733.5" y1="279.0" x2="1733.5" y2="256.0" stroke="#5f6060" stroke-width="3"/>
<line x1="1728.5" y1="257.0" x2="1738.5" y2="257.0" stroke="#5f6060" stroke-width="3"/>
<line x1="1733.5" y1="396.0" x2="1733.5" y2="410.0" stroke="#000" stroke-width="3.6"/>
<text x="1738.5" y="422.0" font-size="19" text-anchor="end" transform="rotate(-45 1738.5 422.0)">siRNA-2</text>
<line x1="1364.5" y1="128.3" x2="1364.5" y2="397.7" stroke="#000" stroke-width="3.4"/>
<line x1="1350.5" y1="130.0" x2="1364.5" y2="130.0" stroke="#000" stroke-width="3.4"/>
<text x="1348.0" y="138.6" font-size="24" text-anchor="end">2000</text>
<line x1="1350.5" y1="196.7" x2="1364.5" y2="196.7" stroke="#000" stroke-width="3.4"/>
<text x="1348.0" y="205.3" font-size="24" text-anchor="end">1500</text>
<line x1="1350.5" y1="263.3" x2="1364.5" y2="263.3" stroke="#000" stroke-width="3.4"/>
<text x="1348.0" y="271.9" font-size="24" text-anchor="end">1000</text>
<line x1="1350.5" y1="329.3" x2="1364.5" y2="329.3" stroke="#000" stroke-width="3.4"/>
<text x="1348.0" y="337.9" font-size="24" text-anchor="end">500</text>
<line x1="1350.5" y1="396.0" x2="1364.5" y2="396.0" stroke="#000" stroke-width="3.4"/>
<text x="1348.0" y="404.6" font-size="24" text-anchor="end">0</text>
<line x1="1353.0" y1="396.0" x2="1765.0" y2="396.0" stroke="#000" stroke-width="3.6"/>
<path d="M1435 310.5 V120.3 H1734.8 V136.5" fill="none" stroke="#000" stroke-width="2.2"/>
<text x="1538.5" y="267.0" font-size="21.5" text-anchor="middle">MAVS</text>
<line x1="1509.0" y1="279.6" x2="1569.3" y2="279.6" stroke="#000" stroke-width="2"/>
<text x="1622.7" y="203.0" font-size="21.5" text-anchor="middle">STING</text>
<line x1="1593.7" y1="213.0" x2="1653.5" y2="213.0" stroke="#000" stroke-width="2"/>
<text x="1708.0" y="204.8" font-size="21.5" text-anchor="middle">TRIF</text>
<line x1="1678.0" y1="213.0" x2="1737.4" y2="213.0" stroke="#000" stroke-width="2"/>
<text x="1521.0" y="310.0" font-size="20" text-anchor="middle">*</text>
<text x="1564.0" y="307.0" font-size="20" text-anchor="middle">*</text>
<text x="1606.7" y="240.0" font-size="18" text-anchor="middle">ns</text>
<text x="1648.0" y="263.0" font-size="18" text-anchor="middle">ns</text>
<text x="1693.5" y="240.6" font-size="18" text-anchor="middle">ns</text>
<text x="1733.0" y="248.7" font-size="18" text-anchor="middle">ns</text>
<line x1="1366.8" y1="476.3" x2="1435.0" y2="476.3" stroke="#000" stroke-width="2"/>
<line x1="1444.0" y1="476.3" x2="1761.8" y2="476.3" stroke="#000" stroke-width="2"/>
<text x="1403.5" y="497.4" font-size="18.5" text-anchor="middle">NM</text>
<text x="1596.7" y="497.4" font-size="18.5" text-anchor="middle">MFM</text>
<text x="1273.0" y="266.6" font-size="24" text-anchor="middle" transform="rotate(-90 1273.0 266.6)">IFN-β (pg/ml)</text>
<text x="11.0" y="529.2" font-size="46">D</text>
<text x="189.0" y="544.0" font-size="24" text-anchor="middle">T24</text>
<text x="351.7" y="544.0" font-size="24" text-anchor="middle">5637</text>
<line x1="122.0" y1="553.5" x2="251.0" y2="553.5" stroke="#000" stroke-width="2.4"/>
<line x1="285.0" y1="553.5" x2="414.0" y2="553.5" stroke="#000" stroke-width="2.4"/>
<text x="31.4" y="569.9" font-size="24">IFN-γ</text>
<text x="27.7" y="598.2" font-size="24">(15μM)</text>
<text x="159.2" y="587.8" font-size="30" text-anchor="middle" stroke="#000" stroke-width="0.8">+</text>
<text x="236.5" y="587.8" font-size="30" text-anchor="middle" stroke="#000" stroke-width="0.8">+</text>
<text x="317.7" y="587.8" font-size="30" text-anchor="middle" stroke="#000" stroke-width="0.8">+</text>
<text x="397.5" y="587.8" font-size="30" text-anchor="middle" stroke="#000" stroke-width="0.8">+</text>
<text x="156.7" y="622.0" font-size="24" text-anchor="middle">NM</text>
<text x="227.6" y="622.0" font-size="24" text-anchor="middle">MFM</text>
<text x="316.8" y="622.0" font-size="24" text-anchor="middle">NM</text>
<text x="391.6" y="622.0" font-size="24" text-anchor="middle">MFM</text>
<g clip-path="url(#c1)"><rect x="113.2" y="635.6" width="313.0" height="46.4" fill="url(#g1)"/><rect x="130.0" y="653.6" width="42.0" height="9.5" rx="3.8" fill="#202020" fill-opacity="0.08" filter="url(#b3)"/><rect x="208.5" y="650.9" width="50.0" height="15.0" rx="6.0" fill="#202020" fill-opacity="0.15" filter="url(#b3)"/><rect x="292.0" y="653.6" width="36.0" height="9.5" rx="3.8" fill="#202020" fill-opacity="0.07" filter="url(#b3)"/><rect x="364.5" y="651.6" width="55.0" height="13.5" rx="5.4" fill="#202020" fill-opacity="0.15" filter="url(#b3)"/><rect x="130.0" y="656.6" width="42.0" height="3.5" rx="1.8" fill="#050505" fill-opacity="0.55" filter="url(#b1)"/><rect x="208.5" y="653.9" width="50.0" height="9.0" rx="4.5" fill="#050505" fill-opacity="1" filter="url(#b1)"/><rect x="292.0" y="656.6" width="36.0" height="3.5" rx="1.8" fill="#050505" fill-opacity="0.5" filter="url(#b1)"/><rect x="364.5" y="654.6" width="55.0" height="7.5" rx="3.8" fill="#050505" fill-opacity="1" filter="url(#b1)"/></g><rect x="113.2" y="635.6" width="313.0" height="46.4" fill="none" stroke="#000" stroke-width="2.2"/>
<g clip-path="url(#c2)"><rect x="113.2" y="688.8" width="313.0" height="45.2" fill="#cdd2ce"/><ellipse cx="151.0" cy="706.0" rx="25.0" ry="24.0" fill="#555" fill-opacity="0.45" filter="url(#b4)"/><ellipse cx="231.0" cy="706.0" rx="25.0" ry="24.0" fill="#555" fill-opacity="0.45" filter="url(#b4)"/><ellipse cx="315.0" cy="706.0" rx="25.0" ry="24.0" fill="#555" fill-opacity="0.45" filter="url(#b4)"/><ellipse cx="395.0" cy="706.0" rx="25.0" ry="24.0" fill="#555" fill-opacity="0.5" filter="url(#b4)"/><rect x="127.5" y="704.6" width="47.0" height="14.0" rx="7.0" fill="#050505" fill-opacity="0.55" filter="url(#b3)"/><rect x="207.5" y="704.6" width="47.0" height="14.0" rx="7.0" fill="#050505" fill-opacity="0.6" filter="url(#b3)"/><rect x="291.5" y="704.6" width="47.0" height="14.0" rx="7.0" fill="#050505" fill-opacity="0.55" filter="url(#b3)"/><rect x="372.0" y="704.6" width="46.0" height="14.0" rx="7.0" fill="#050505" fill-opacity="0.65" filter="url(#b3)"/></g><rect x="113.2" y="688.8" width="313.0" height="45.2" fill="none" stroke="#000" stroke-width="2.2"/>
<g clip-path="url(#c3)"><rect x="113.2" y="741.4" width="313.0" height="45.8" fill="#d0d3cd"/><ellipse cx="405.0" cy="743.4" rx="45.0" ry="26.0" fill="#1e241e" fill-opacity="0.9" filter="url(#b10)"/><ellipse cx="368.0" cy="741.4" rx="30.0" ry="14.0" fill="#333" fill-opacity="0.5" filter="url(#b8)"/><ellipse cx="426.0" cy="775.0" rx="10.0" ry="20.0" fill="#333" fill-opacity="0.6" filter="url(#b5)"/><rect x="131.0" y="762.8" width="40.0" height="4.0" rx="2.0" fill="#050505" fill-opacity="0.12" filter="url(#b2)"/><rect x="207.0" y="761.8" width="46.0" height="6.0" rx="3.0" fill="#050505" fill-opacity="0.45" filter="url(#b2)"/><rect x="290.0" y="762.8" width="40.0" height="4.0" rx="2.0" fill="#050505" fill-opacity="0.1" filter="url(#b2)"/><rect x="360.5" y="761.8" width="53.0" height="8.0" rx="4.0" fill="#050505" fill-opacity="0.6" filter="url(#b2)"/></g><rect x="113.2" y="741.4" width="313.0" height="45.8" fill="none" stroke="#000" stroke-width="2.2"/>
<g clip-path="url(#c4)"><rect x="113.2" y="794.6" width="313.0" height="45.0" fill="#d4d8d8"/><rect x="124.0" y="811.9" width="50.0" height="13.5" rx="5.4" fill="#202020" fill-opacity="0.17" filter="url(#b3)"/><rect x="205.5" y="811.1" width="49.0" height="15.0" rx="6.0" fill="#202020" fill-opacity="0.19" filter="url(#b3)"/><rect x="285.0" y="811.9" width="46.0" height="13.5" rx="5.4" fill="#202020" fill-opacity="0.19" filter="url(#b3)"/><rect x="363.5" y="811.4" width="49.0" height="14.5" rx="5.8" fill="#202020" fill-opacity="0.19" filter="url(#b3)"/><rect x="124.0" y="814.9" width="50.0" height="7.5" rx="3.8" fill="#050505" fill-opacity="0.85" filter="url(#b1)"/><rect x="205.5" y="814.1" width="49.0" height="9.0" rx="4.5" fill="#050505" fill-opacity="0.95" filter="url(#b1)"/><rect x="285.0" y="814.9" width="46.0" height="7.5" rx="3.8" fill="#050505" fill-opacity="0.95" filter="url(#b1)"/><rect x="363.5" y="814.4" width="49.0" height="8.5" rx="4.2" fill="#050505" fill-opacity="0.95" filter="url(#b1)"/></g><rect x="113.2" y="794.6" width="313.0" height="45.0" fill="none" stroke="#000" stroke-width="2.2"/>
<g clip-path="url(#c5)"><rect x="113.2" y="847.0" width="313.0" height="45.8" fill="#a3a6a0"/><ellipse cx="300.0" cy="892.8" rx="60.0" ry="12.0" fill="#c8cac4" fill-opacity="0.7" filter="url(#b6)"/><ellipse cx="395.0" cy="847.0" rx="40.0" ry="10.0" fill="#555" fill-opacity="0.4" filter="url(#b6)"/><rect x="135.0" y="863.1" width="32.0" height="15.0" rx="6.0" fill="#202020" fill-opacity="0.20" filter="url(#b3)"/><rect x="202.5" y="863.1" width="52.0" height="15.0" rx="6.0" fill="#202020" fill-opacity="0.20" filter="url(#b3)"/><rect x="298.5" y="865.1" width="22.0" height="11.0" rx="4.4" fill="#202020" fill-opacity="0.20" filter="url(#b3)"/><rect x="360.5" y="861.6" width="56.0" height="18.0" rx="7.2" fill="#202020" fill-opacity="0.20" filter="url(#b3)"/><rect x="135.0" y="866.1" width="32.0" height="9.0" rx="4.5" fill="#050505" fill-opacity="1" filter="url(#b1)"/><rect x="202.5" y="866.1" width="52.0" height="9.0" rx="4.5" fill="#050505" fill-opacity="1" filter="url(#b1)"/><rect x="298.5" y="868.1" width="22.0" height="5.0" rx="2.5" fill="#050505" fill-opacity="1" filter="url(#b1)"/><rect x="360.5" y="864.6" width="56.0" height="12.0" rx="6.0" fill="#050505" fill-opacity="1" filter="url(#b1)"/></g><rect x="113.2" y="847.0" width="313.0" height="45.8" fill="none" stroke="#000" stroke-width="2.2"/>
<g clip-path="url(#c6)"><rect x="113.2" y="900.0" width="313.0" height="45.4" fill="#d2d6d6"/><rect x="127.0" y="901.0" width="52.0" height="38.0" rx="15.2" fill="#202020" fill-opacity="0.40" filter="url(#b4)"/><rect x="207.0" y="901.5" width="50.0" height="37.0" rx="14.8" fill="#202020" fill-opacity="0.40" filter="url(#b4)"/><rect x="287.0" y="901.5" width="50.0" height="37.0" rx="14.8" fill="#202020" fill-opacity="0.40" filter="url(#b4)"/><rect x="364.0" y="902.5" width="50.0" height="35.0" rx="14.0" fill="#202020" fill-opacity="0.38" filter="url(#b4)"/><rect x="127.0" y="912.0" width="52.0" height="16.0" rx="8.0" fill="#050505" fill-opacity="1" filter="url(#b2)"/><rect x="207.0" y="912.5" width="50.0" height="15.0" rx="7.5" fill="#050505" fill-opacity="1" filter="url(#b2)"/><rect x="287.0" y="912.5" width="50.0" height="15.0" rx="7.5" fill="#050505" fill-opacity="1" filter="url(#b2)"/><rect x="364.0" y="913.5" width="50.0" height="13.0" rx="6.5" fill="#050505" fill-opacity="0.95" filter="url(#b2)"/></g><rect x="113.2" y="900.0" width="313.0" height="45.4" fill="none" stroke="#000" stroke-width="2.2"/>
<g clip-path="url(#c7)"><rect x="113.2" y="952.5" width="313.0" height="45.8" fill="#b3b7af"/><rect x="134.0" y="960.2" width="46.0" height="26.0" rx="10.4" fill="#202020" fill-opacity="0.26" filter="url(#b4)"/><rect x="207.0" y="957.7" width="50.0" height="31.0" rx="12.4" fill="#202020" fill-opacity="0.30" filter="url(#b4)"/><rect x="291.5" y="961.7" width="37.0" height="23.0" rx="9.2" fill="#202020" fill-opacity="0.12" filter="url(#b4)"/><rect x="359.5" y="956.2" width="53.0" height="34.0" rx="13.6" fill="#202020" fill-opacity="0.30" filter="url(#b4)"/><rect x="134.0" y="968.2" width="46.0" height="10.0" rx="5.0" fill="#050505" fill-opacity="0.85" filter="url(#b2)"/><rect x="207.0" y="965.7" width="50.0" height="15.0" rx="7.5" fill="#050505" fill-opacity="1" filter="url(#b2)"/><rect x="291.5" y="969.7" width="37.0" height="7.0" rx="3.5" fill="#050505" fill-opacity="0.4" filter="url(#b2)"/><rect x="359.5" y="964.2" width="53.0" height="18.0" rx="9.0" fill="#050505" fill-opacity="1" filter="url(#b2)"/></g><rect x="113.2" y="952.5" width="313.0" height="45.8" fill="none" stroke="#000" stroke-width="2.2"/>
<g clip-path="url(#c8)"><rect x="113.2" y="1004.5" width="313.0" height="45.8" fill="#d6dada"/><rect x="131.5" y="1005.4" width="49.0" height="48.0" rx="19.2" fill="#202020" fill-opacity="0.40" filter="url(#b4)"/><rect x="206.5" y="1005.4" width="55.0" height="48.0" rx="19.2" fill="#202020" fill-opacity="0.40" filter="url(#b4)"/><rect x="288.0" y="1006.9" width="49.0" height="45.0" rx="18.0" fill="#202020" fill-opacity="0.40" filter="url(#b4)"/><rect x="361.5" y="1006.9" width="55.0" height="45.0" rx="18.0" fill="#202020" fill-opacity="0.40" filter="url(#b4)"/><rect x="131.5" y="1018.4" width="49.0" height="22.0" rx="11.0" fill="#050505" fill-opacity="1" filter="url(#b2)"/><rect x="206.5" y="1018.4" width="55.0" height="22.0" rx="11.0" fill="#050505" fill-opacity="1" filter="url(#b2)"/><rect x="288.0" y="1019.9" width="49.0" height="19.0" rx="9.5" fill="#050505" fill-opacity="1" filter="url(#b2)"/><rect x="361.5" y="1019.9" width="55.0" height="19.0" rx="9.5" fill="#050505" fill-opacity="1" filter="url(#b2)"/></g><rect x="113.2" y="1004.5" width="313.0" height="45.8" fill="none" stroke="#000" stroke-width="2.2"/>
<text x="92.2" y="667.4" font-size="24" text-anchor="end">RIG-I</text>
<text x="92.2" y="720.5" font-size="24" text-anchor="end">MDA5</text>
<text x="92.2" y="773.9" font-size="24" text-anchor="end">MAVS</text>
<text x="92.2" y="826.7" font-size="24" text-anchor="end">TBK1</text>
<text x="92.2" y="880.0" font-size="24" text-anchor="end">p-TBK1</text>
<text x="92.2" y="932.3" font-size="24" text-anchor="end">IRF3</text>
<text x="92.2" y="989.0" font-size="24" text-anchor="end">p-IRF3</text>
<text x="92.2" y="1040.0" font-size="24" text-anchor="end">GAPDH</text>
<line x1="428.0" y1="662.3" x2="439.0" y2="662.3" stroke="#000" stroke-width="2.6"/>
<text x="440.5" y="669.4" font-size="28">100</text>
<line x1="428.0" y1="714.9" x2="439.0" y2="714.9" stroke="#000" stroke-width="2.6"/>
<text x="440.5" y="722.0" font-size="28">117</text>
<line x1="428.0" y1="767.8" x2="439.0" y2="767.8" stroke="#000" stroke-width="2.6"/>
<text x="440.5" y="774.9" font-size="28">57</text>
<line x1="428.0" y1="820.6" x2="439.0" y2="820.6" stroke="#000" stroke-width="2.6"/>
<text x="440.5" y="827.7" font-size="28">84</text>
<line x1="428.0" y1="873.4" x2="439.0" y2="873.4" stroke="#000" stroke-width="2.6"/>
<text x="440.5" y="880.5" font-size="28">84</text>
<line x1="428.0" y1="926.2" x2="439.0" y2="926.2" stroke="#000" stroke-width="2.6"/>
<text x="440.5" y="933.3" font-size="28">47</text>
<line x1="428.0" y1="978.9" x2="439.0" y2="978.9" stroke="#000" stroke-width="2.6"/>
<text x="440.5" y="986.0" font-size="28">47</text>
<line x1="428.0" y1="1030.9" x2="439.0" y2="1030.9" stroke="#000" stroke-width="2.6"/>
<text x="440.5" y="1038.0" font-size="28">36</text>
<text x="549.5" y="614.2" font-size="46">E</text>
<rect x="650.7" y="821.6" width="39.0" height="83.7" fill="#a0a1a5"/>
<rect x="652.9" y="818.6" width="34.6" height="3.5" fill="#a0a1a5"/>
<line x1="670.2" y1="818.6" x2="670.2" y2="813.0" stroke="#a0a1a5" stroke-width="3.6"/>
<line x1="660.7" y1="814.3" x2="679.7" y2="814.3" stroke="#a0a1a5" stroke-width="3.6"/>
<rect x="702.5" y="766.2" width="39.0" height="139.1" fill="#e4737a"/>
<rect x="704.7" y="763.2" width="34.6" height="3.5" fill="#e4737a"/>
<line x1="722.0" y1="763.2" x2="722.0" y2="757.0" stroke="#e4737a" stroke-width="3.6"/>
<line x1="712.5" y1="758.3" x2="731.5" y2="758.3" stroke="#e4737a" stroke-width="3.6"/>
<rect x="754.2" y="837.0" width="39.0" height="68.3" fill="#d4d5d4"/>
<rect x="756.4" y="834.0" width="34.6" height="3.5" fill="#d4d5d4"/>
<line x1="773.7" y1="834.0" x2="773.7" y2="828.5" stroke="#d4d5d4" stroke-width="3.6"/>
<line x1="764.2" y1="829.8" x2="783.2" y2="829.8" stroke="#d4d5d4" stroke-width="3.6"/>
<rect x="805.9" y="782.5" width="39.0" height="122.8" fill="#6399cf"/>
<rect x="808.1" y="779.5" width="34.6" height="3.5" fill="#6399cf"/>
<line x1="825.4" y1="779.5" x2="825.4" y2="776.0" stroke="#6399cf" stroke-width="3.6"/>
<line x1="815.9" y1="777.3" x2="834.9" y2="777.3" stroke="#6399cf" stroke-width="3.6"/>
<line x1="635.0" y1="711.1" x2="635.0" y2="906.9" stroke="#000" stroke-width="3.2"/>
<line x1="627.5" y1="712.7" x2="635.0" y2="712.7" stroke="#000" stroke-width="3.2"/>
<text x="620.7" y="721.0" font-size="23" text-anchor="end">1500</text>
<line x1="627.5" y1="776.7" x2="635.0" y2="776.7" stroke="#000" stroke-width="3.2"/>
<text x="620.7" y="785.0" font-size="23" text-anchor="end">1000</text>
<line x1="627.5" y1="840.8" x2="635.0" y2="840.8" stroke="#000" stroke-width="3.2"/>
<text x="620.7" y="849.1" font-size="23" text-anchor="end">500</text>
<line x1="627.5" y1="905.3" x2="635.0" y2="905.3" stroke="#000" stroke-width="3.2"/>
<text x="620.7" y="913.6" font-size="23" text-anchor="end">0</text>
<line x1="628.0" y1="905.3" x2="862.0" y2="905.3" stroke="#000" stroke-width="3.2"/>
<line x1="670.0" y1="905.3" x2="670.0" y2="914.7" stroke="#000" stroke-width="3.2"/>
<line x1="721.7" y1="905.3" x2="721.7" y2="914.7" stroke="#000" stroke-width="3.2"/>
<line x1="773.4" y1="905.3" x2="773.4" y2="914.7" stroke="#000" stroke-width="3.2"/>
<line x1="825.6" y1="905.3" x2="825.6" y2="914.7" stroke="#000" stroke-width="3.2"/>
<line x1="667.5" y1="743.5" x2="722.4" y2="743.5" stroke="#000" stroke-width="2.8"/>
<text x="697.0" y="740.0" font-size="23" text-anchor="middle">**</text>
<line x1="771.4" y1="755.8" x2="826.4" y2="755.8" stroke="#000" stroke-width="2.8"/>
<text x="801.0" y="752.0" font-size="23" text-anchor="middle">**</text>
<text x="629.0" y="940.5" font-size="23.5" text-anchor="end">IFN-γ</text>
<text x="668.7" y="942.6" font-size="24" text-anchor="middle" stroke="#000" stroke-width="0.7">+</text>
<text x="719.2" y="942.6" font-size="24" text-anchor="middle" stroke="#000" stroke-width="0.7">+</text>
<text x="773.4" y="942.6" font-size="24" text-anchor="middle" stroke="#000" stroke-width="0.7">+</text>
<text x="825.6" y="942.6" font-size="24" text-anchor="middle" stroke="#000" stroke-width="0.7">+</text>
<text x="630.0" y="983.6" font-size="23.5" text-anchor="end">MFM</text>
<line x1="660.7" y1="974.5" x2="676.7" y2="974.5" stroke="#000" stroke-width="1.6"/>
<text x="719.2" y="982.7" font-size="24" text-anchor="middle" stroke="#000" stroke-width="0.7">+</text>
<line x1="765.4" y1="974.5" x2="781.4" y2="974.5" stroke="#000" stroke-width="1.6"/>
<text x="825.6" y="982.7" font-size="24" text-anchor="middle" stroke="#000" stroke-width="0.7">+</text>
<text x="632.5" y="1023.0" font-size="23.5" text-anchor="end">NM</text>
<text x="668.7" y="1023.2" font-size="24" text-anchor="middle" stroke="#000" stroke-width="0.7">+</text>
<line x1="711.2" y1="1015.0" x2="727.2" y2="1015.0" stroke="#000" stroke-width="1.6"/>
<text x="773.4" y="1023.2" font-size="24" text-anchor="middle" stroke="#000" stroke-width="0.7">+</text>
<line x1="817.6" y1="1015.0" x2="833.6" y2="1015.0" stroke="#000" stroke-width="1.6"/>
<text x="551.5" y="795.0" font-size="24" text-anchor="middle" transform="rotate(-90 551.5 795.0)">IFN-β (pg/ml)</text>
<text x="950.5" y="613.9" font-size="46">F</text>
<text x="1148.8" y="598.5" font-size="22.5" text-anchor="middle">T24</text>
<text x="1083.8" y="644.7" font-size="23.5" text-anchor="middle">NM</text>
<text x="1228.8" y="644.7" font-size="23.5" text-anchor="middle">MFM</text>
<line x1="1014.0" y1="654.5" x2="1142.6" y2="654.5" stroke="#000" stroke-width="2.4"/>
<line x1="1161.0" y1="654.5" x2="1290.4" y2="654.5" stroke="#000" stroke-width="2.4"/>
<text x="987.8" y="687.8" font-size="23.5" text-anchor="end">IFN-γ</text>
<line x1="1035.3" y1="678.5" x2="1055.3" y2="678.5" stroke="#000" stroke-width="1.4"/>
<text x="1115.5" y="687.3" font-size="26" text-anchor="middle" stroke="#000" stroke-width="0.7">+</text>
<line x1="1184.0" y1="678.5" x2="1204.0" y2="678.5" stroke="#000" stroke-width="1.4"/>
<text x="1265.8" y="687.3" font-size="26" text-anchor="middle" stroke="#000" stroke-width="0.7">+</text>
<g clip-path="url(#c9)"><rect x="1005.3" y="701.6" width="299.6" height="49.3" fill="url(#g9)"/><rect x="1028.0" y="722.7" width="36.0" height="12.0" rx="4.8" fill="#202020" fill-opacity="0.03" filter="url(#b3)"/><rect x="1097.0" y="721.2" width="42.0" height="15.0" rx="6.0" fill="#202020" fill-opacity="0.16" filter="url(#b3)"/><rect x="1172.0" y="721.2" width="32.0" height="13.0" rx="5.2" fill="#202020" fill-opacity="0.06" filter="url(#b3)"/><rect x="1234.0" y="715.7" width="56.0" height="26.0" rx="10.4" fill="#202020" fill-opacity="0.20" filter="url(#b3)"/><rect x="1028.0" y="726.7" width="36.0" height="4.0" rx="2.0" fill="#050505" fill-opacity="0.15" filter="url(#b2)"/><rect x="1097.0" y="725.2" width="42.0" height="7.0" rx="3.5" fill="#050505" fill-opacity="0.8" filter="url(#b2)"/><rect x="1172.0" y="725.2" width="32.0" height="5.0" rx="2.5" fill="#050505" fill-opacity="0.3" filter="url(#b2)"/><rect x="1234.0" y="719.7" width="56.0" height="18.0" rx="9.0" fill="#050505" fill-opacity="1" filter="url(#b2)"/></g><rect x="1005.3" y="701.6" width="299.6" height="49.3" fill="none" stroke="#000" stroke-width="2.2"/>
<g clip-path="url(#c10)"><rect x="1005.3" y="763.8" width="299.6" height="49.6" fill="url(#g10)"/><ellipse cx="1117.0" cy="800.0" rx="24.0" ry="14.0" fill="#444" fill-opacity="0.35" filter="url(#b5)"/><ellipse cx="1266.0" cy="800.0" rx="26.0" ry="16.0" fill="#333" fill-opacity="0.45" filter="url(#b5)"/><ellipse cx="1005.3" cy="790.0" rx="10.0" ry="30.0" fill="#555" fill-opacity="0.4" filter="url(#b5)"/><rect x="1026.0" y="783.9" width="40.0" height="9.0" rx="4.5" fill="#050505" fill-opacity="0.45" filter="url(#b4)"/><rect x="1094.0" y="783.4" width="46.0" height="10.0" rx="5.0" fill="#050505" fill-opacity="0.55" filter="url(#b4)"/><rect x="1172.0" y="783.9" width="40.0" height="9.0" rx="4.5" fill="#050505" fill-opacity="0.5" filter="url(#b4)"/><rect x="1243.0" y="781.4" width="46.0" height="10.0" rx="5.0" fill="#050505" fill-opacity="0.7" filter="url(#b4)"/></g><rect x="1005.3" y="763.8" width="299.6" height="49.6" fill="none" stroke="#000" stroke-width="2.2"/>
<g clip-path="url(#c11)"><rect x="1005.3" y="826.3" width="299.6" height="49.3" fill="#d3d5d1"/><rect x="1027.0" y="843.9" width="24.0" height="16.0" rx="6.4" fill="#202020" fill-opacity="0.20" filter="url(#b3)"/><rect x="1092.0" y="842.4" width="46.0" height="19.0" rx="7.6" fill="#202020" fill-opacity="0.20" filter="url(#b3)"/><rect x="1168.0" y="843.4" width="36.0" height="17.0" rx="6.8" fill="#202020" fill-opacity="0.20" filter="url(#b3)"/><rect x="1239.0" y="841.4" width="50.0" height="21.0" rx="8.4" fill="#202020" fill-opacity="0.20" filter="url(#b3)"/><rect x="1027.0" y="847.9" width="24.0" height="8.0" rx="4.0" fill="#050505" fill-opacity="1" filter="url(#b2)"/><rect x="1092.0" y="846.4" width="46.0" height="11.0" rx="5.5" fill="#050505" fill-opacity="1" filter="url(#b2)"/><rect x="1168.0" y="847.4" width="36.0" height="9.0" rx="4.5" fill="#050505" fill-opacity="1" filter="url(#b2)"/><rect x="1239.0" y="845.4" width="50.0" height="13.0" rx="6.5" fill="#050505" fill-opacity="1" filter="url(#b2)"/></g><rect x="1005.3" y="826.3" width="299.6" height="49.3" fill="none" stroke="#000" stroke-width="2.2"/>
<g clip-path="url(#c12)"><rect x="1005.3" y="888.5" width="299.6" height="49.5" fill="#c9cbc7"/><rect x="1028.0" y="905.1" width="28.0" height="24.0" rx="9.6" fill="#202020" fill-opacity="0.14" filter="url(#b4)"/><rect x="1091.0" y="904.1" width="46.0" height="32.0" rx="12.8" fill="#202020" fill-opacity="0.24" filter="url(#b4)"/><rect x="1169.0" y="904.6" width="34.0" height="25.0" rx="10.0" fill="#202020" fill-opacity="0.27" filter="url(#b4)"/><rect x="1228.0" y="898.1" width="62.0" height="38.0" rx="15.2" fill="#202020" fill-opacity="0.30" filter="url(#b4)"/><rect x="1028.0" y="912.1" width="28.0" height="10.0" rx="5.0" fill="#050505" fill-opacity="0.45" filter="url(#b3)"/><rect x="1091.0" y="911.1" width="46.0" height="18.0" rx="9.0" fill="#050505" fill-opacity="0.8" filter="url(#b3)"/><rect x="1169.0" y="911.6" width="34.0" height="11.0" rx="5.5" fill="#050505" fill-opacity="0.9" filter="url(#b2)"/><rect x="1228.0" y="905.1" width="62.0" height="24.0" rx="12.0" fill="#050505" fill-opacity="1" filter="url(#b2)"/></g><rect x="1005.3" y="888.5" width="299.6" height="49.5" fill="none" stroke="#000" stroke-width="2.2"/>
<g clip-path="url(#c13)"><rect x="1005.3" y="951.0" width="299.6" height="49.9" fill="#c6c8c6"/><rect x="1014.0" y="958.7" width="50.0" height="37.0" rx="14.8" fill="#202020" fill-opacity="0.35" filter="url(#b4)"/><rect x="1083.0" y="958.7" width="56.0" height="37.0" rx="14.8" fill="#202020" fill-opacity="0.35" filter="url(#b4)"/><rect x="1160.0" y="959.2" width="48.0" height="36.0" rx="14.4" fill="#202020" fill-opacity="0.35" filter="url(#b4)"/><rect x="1239.0" y="960.2" width="52.0" height="34.0" rx="13.6" fill="#202020" fill-opacity="0.35" filter="url(#b4)"/><rect x="1014.0" y="967.7" width="50.0" height="19.0" rx="9.5" fill="#050505" fill-opacity="1" filter="url(#b2)"/><rect x="1083.0" y="967.7" width="56.0" height="19.0" rx="9.5" fill="#050505" fill-opacity="1" filter="url(#b2)"/><rect x="1160.0" y="968.2" width="48.0" height="18.0" rx="9.0" fill="#050505" fill-opacity="1" filter="url(#b2)"/><rect x="1239.0" y="969.2" width="52.0" height="16.0" rx="8.0" fill="#050505" fill-opacity="1" filter="url(#b2)"/></g><rect x="1005.3" y="951.0" width="299.6" height="49.9" fill="none" stroke="#000" stroke-width="2.2"/>
<text x="990.8" y="734.9" font-size="24" text-anchor="end">RIG-I</text>
<text x="990.8" y="797.2" font-size="24" text-anchor="end">MAVS</text>
<text x="990.8" y="859.6" font-size="24" text-anchor="end">p-TBK1</text>
<text x="990.8" y="921.9" font-size="24" text-anchor="end">p-IRF3</text>
<text x="990.8" y="984.6" font-size="24" text-anchor="end">GAPDH</text>
<line x1="1311.0" y1="726.8" x2="1322.0" y2="726.8" stroke="#000" stroke-width="2.6"/>
<text x="1325.5" y="733.9" font-size="28">100</text>
<line x1="1311.0" y1="787.1" x2="1322.0" y2="787.1" stroke="#000" stroke-width="2.6"/>
<text x="1325.5" y="794.2" font-size="28">57</text>
<line x1="1311.0" y1="846.5" x2="1322.0" y2="846.5" stroke="#000" stroke-width="2.6"/>
<text x="1325.5" y="853.6" font-size="28">84</text>
<line x1="1311.0" y1="910.8" x2="1322.0" y2="910.8" stroke="#000" stroke-width="2.6"/>
<text x="1325.5" y="917.9" font-size="28">47</text>
<line x1="1311.0" y1="975.5" x2="1322.0" y2="975.5" stroke="#000" stroke-width="2.6"/>
<text x="1325.5" y="982.6" font-size="28">36</text>
<text x="1383.7" y="614.0" font-size="46">G</text>
<rect x="1529.3" y="891.0" width="38.2" height="16.3" fill="#a0a1a5"/>
<rect x="1531.5" y="888.0" width="33.8" height="3.5" fill="#a0a1a5"/>
<line x1="1548.4" y1="888.0" x2="1548.4" y2="883.9" stroke="#a0a1a5" stroke-width="3.6"/>
<line x1="1538.9" y1="885.2" x2="1557.9" y2="885.2" stroke="#a0a1a5" stroke-width="3.6"/>
<rect x="1581.3" y="834.7" width="38.4" height="72.6" fill="#e4737a"/>
<rect x="1583.5" y="831.7" width="34.0" height="3.5" fill="#e4737a"/>
<line x1="1600.5" y1="831.7" x2="1600.5" y2="828.5" stroke="#e4737a" stroke-width="3.6"/>
<line x1="1591.0" y1="829.8" x2="1610.0" y2="829.8" stroke="#e4737a" stroke-width="3.6"/>
<rect x="1634.0" y="860.5" width="38.0" height="46.8" fill="#d4d5d4"/>
<rect x="1636.2" y="857.5" width="33.6" height="3.5" fill="#d4d5d4"/>
<line x1="1653.0" y1="857.5" x2="1653.0" y2="851.4" stroke="#d4d5d4" stroke-width="3.6"/>
<line x1="1643.5" y1="852.7" x2="1662.5" y2="852.7" stroke="#d4d5d4" stroke-width="3.6"/>
<rect x="1686.2" y="772.4" width="38.4" height="134.9" fill="#6399cf"/>
<rect x="1688.4" y="769.4" width="34.0" height="3.5" fill="#6399cf"/>
<line x1="1705.4" y1="769.4" x2="1705.4" y2="760.0" stroke="#6399cf" stroke-width="3.6"/>
<line x1="1695.9" y1="761.3" x2="1714.9" y2="761.3" stroke="#6399cf" stroke-width="3.6"/>
<line x1="1513.8" y1="708.4" x2="1513.8" y2="908.9" stroke="#000" stroke-width="3.2"/>
<line x1="1506.3" y1="710.0" x2="1513.8" y2="710.0" stroke="#000" stroke-width="3.2"/>
<text x="1501.0" y="718.3" font-size="23" text-anchor="end">1500</text>
<line x1="1506.3" y1="776.0" x2="1513.8" y2="776.0" stroke="#000" stroke-width="3.2"/>
<text x="1501.0" y="784.3" font-size="23" text-anchor="end">1000</text>
<line x1="1506.3" y1="841.5" x2="1513.8" y2="841.5" stroke="#000" stroke-width="3.2"/>
<text x="1501.0" y="849.8" font-size="23" text-anchor="end">500</text>
<line x1="1506.3" y1="907.3" x2="1513.8" y2="907.3" stroke="#000" stroke-width="3.2"/>
<text x="1501.0" y="915.6" font-size="23" text-anchor="end">0</text>
<line x1="1506.0" y1="907.3" x2="1742.4" y2="907.3" stroke="#000" stroke-width="3.2"/>
<line x1="1548.5" y1="907.3" x2="1548.5" y2="916.0" stroke="#000" stroke-width="3.2"/>
<line x1="1600.3" y1="907.3" x2="1600.3" y2="916.0" stroke="#000" stroke-width="3.2"/>
<line x1="1653.0" y1="907.3" x2="1653.0" y2="916.0" stroke="#000" stroke-width="3.2"/>
<line x1="1705.0" y1="907.3" x2="1705.0" y2="916.0" stroke="#000" stroke-width="3.2"/>
<line x1="1546.6" y1="743.5" x2="1600.8" y2="743.5" stroke="#000" stroke-width="2.8"/>
<text x="1573.0" y="742.0" font-size="23" text-anchor="middle">***</text>
<line x1="1650.5" y1="749.7" x2="1705.0" y2="749.7" stroke="#000" stroke-width="2.8"/>
<text x="1679.6" y="747.0" font-size="23" text-anchor="middle">***</text>
<text x="1507.0" y="940.5" font-size="23.5" text-anchor="end">IFN-γ</text>
<line x1="1541.8" y1="938.0" x2="1557.8" y2="938.0" stroke="#000" stroke-width="1.6"/>
<text x="1599.5" y="946.2" font-size="24" text-anchor="middle" stroke="#000" stroke-width="0.7">+</text>
<line x1="1644.5" y1="938.0" x2="1660.5" y2="938.0" stroke="#000" stroke-width="1.6"/>
<text x="1707.4" y="946.2" font-size="24" text-anchor="middle" stroke="#000" stroke-width="0.7">+</text>
<text x="1507.0" y="983.6" font-size="23.5" text-anchor="end">NM</text>
<text x="1549.8" y="985.2" font-size="24" text-anchor="middle" stroke="#000" stroke-width="0.7">+</text>
<text x="1599.5" y="985.2" font-size="24" text-anchor="middle" stroke="#000" stroke-width="0.7">+</text>
<line x1="1644.5" y1="977.0" x2="1660.5" y2="977.0" stroke="#000" stroke-width="1.6"/>
<line x1="1699.4" y1="977.0" x2="1715.4" y2="977.0" stroke="#000" stroke-width="1.6"/>
<text x="1507.0" y="1025.5" font-size="23.5" text-anchor="end">MFM</text>
<line x1="1541.8" y1="1016.0" x2="1557.8" y2="1016.0" stroke="#000" stroke-width="1.6"/>
<line x1="1591.5" y1="1016.0" x2="1607.5" y2="1016.0" stroke="#000" stroke-width="1.6"/>
<text x="1652.5" y="1024.2" font-size="24" text-anchor="middle" stroke="#000" stroke-width="0.7">+</text>
<text x="1707.4" y="1024.2" font-size="24" text-anchor="middle" stroke="#000" stroke-width="0.7">+</text>
<text x="1430.5" y="795.0" font-size="24" text-anchor="middle" transform="rotate(-90 1430.5 795.0)">IFN-β (pg/ml)</text>
<text x="9.8" y="1128.8" font-size="46">H</text>
<text x="254.8" y="1117.0" font-size="24" text-anchor="middle">T24 in NM</text>
<text x="259.5" y="1149.5" font-size="24" text-anchor="middle" xml:space="preserve">IFN-γ  (15μM)</text>
<line x1="103.4" y1="1159.2" x2="403.5" y2="1159.2" stroke="#000" stroke-width="2.4"/>
<text x="2.4" y="1198.2" font-size="23.6">Met (μM)</text>
<text x="144.8" y="1198.2" font-size="24" text-anchor="middle">5</text>
<text x="216.7" y="1198.2" font-size="24" text-anchor="middle">20</text>
<text x="295.0" y="1198.2" font-size="24" text-anchor="middle">40</text>
<text x="373.9" y="1198.2" font-size="24" text-anchor="middle">80</text>
<g clip-path="url(#c14)"><rect x="112.3" y="1216.8" width="288.8" height="47.9" fill="url(#g14)"/><rect x="125.0" y="1231.5" width="52.0" height="21.0" rx="8.4" fill="#202020" fill-opacity="0.20" filter="url(#b3)"/><rect x="193.0" y="1235.0" width="46.0" height="16.0" rx="6.4" fill="#202020" fill-opacity="0.19" filter="url(#b3)"/><rect x="269.0" y="1236.0" width="40.0" height="12.0" rx="4.8" fill="#202020" fill-opacity="0.07" filter="url(#b3)"/><rect x="346.0" y="1236.5" width="34.0" height="11.0" rx="4.4" fill="#202020" fill-opacity="0.03" filter="url(#b3)"/><rect x="125.0" y="1235.5" width="52.0" height="13.0" rx="6.5" fill="#050505" fill-opacity="1" filter="url(#b2)"/><rect x="193.0" y="1239.0" width="46.0" height="8.0" rx="4.0" fill="#050505" fill-opacity="0.95" filter="url(#b2)"/><rect x="269.0" y="1240.0" width="40.0" height="4.0" rx="2.0" fill="#050505" fill-opacity="0.35" filter="url(#b2)"/><rect x="346.0" y="1240.5" width="34.0" height="3.0" rx="1.5" fill="#050505" fill-opacity="0.15" filter="url(#b2)"/></g><rect x="112.3" y="1216.8" width="288.8" height="47.9" fill="none" stroke="#000" stroke-width="2.2"/>
<g clip-path="url(#c15)"><rect x="112.3" y="1270.6" width="288.8" height="47.4" fill="url(#g15)"/><rect x="116.0" y="1290.7" width="58.0" height="9.0" rx="4.5" fill="#050505" fill-opacity="0.85" filter="url(#b2)"/><rect x="194.0" y="1291.7" width="46.0" height="7.0" rx="3.5" fill="#050505" fill-opacity="0.5" filter="url(#b2)"/><rect x="269.0" y="1292.7" width="42.0" height="5.0" rx="2.5" fill="#050505" fill-opacity="0.22" filter="url(#b2)"/><rect x="345.0" y="1293.2" width="40.0" height="4.0" rx="2.0" fill="#050505" fill-opacity="0.08" filter="url(#b2)"/></g><rect x="112.3" y="1270.6" width="288.8" height="47.4" fill="none" stroke="#000" stroke-width="2.2"/>
<g clip-path="url(#c16)"><rect x="112.3" y="1324.4" width="288.8" height="47.3" fill="#c9c9cb"/><rect x="125.0" y="1335.5" width="52.0" height="31.0" rx="12.4" fill="#202020" fill-opacity="0.30" filter="url(#b4)"/><rect x="199.0" y="1337.0" width="48.0" height="26.0" rx="10.4" fill="#202020" fill-opacity="0.30" filter="url(#b4)"/><rect x="274.0" y="1336.0" width="46.0" height="24.0" rx="9.6" fill="#202020" fill-opacity="0.30" filter="url(#b4)"/><rect x="349.0" y="1334.5" width="40.0" height="23.0" rx="9.2" fill="#202020" fill-opacity="0.30" filter="url(#b4)"/><rect x="125.0" y="1341.5" width="52.0" height="19.0" rx="9.5" fill="#050505" fill-opacity="1" filter="url(#b2)"/><rect x="199.0" y="1343.0" width="48.0" height="14.0" rx="7.0" fill="#050505" fill-opacity="1" filter="url(#b2)"/><rect x="274.0" y="1342.0" width="46.0" height="12.0" rx="6.0" fill="#050505" fill-opacity="1" filter="url(#b2)"/><rect x="349.0" y="1340.5" width="40.0" height="11.0" rx="5.5" fill="#050505" fill-opacity="1" filter="url(#b2)"/></g><rect x="112.3" y="1324.4" width="288.8" height="47.3" fill="none" stroke="#000" stroke-width="2.2"/>
<g clip-path="url(#c17)"><rect x="112.3" y="1378.0" width="288.8" height="47.2" fill="#a9a9a7"/><rect x="123.0" y="1388.5" width="62.0" height="33.0" rx="13.2" fill="#202020" fill-opacity="0.30" filter="url(#b4)"/><rect x="205.0" y="1391.0" width="50.0" height="28.0" rx="11.2" fill="#202020" fill-opacity="0.30" filter="url(#b4)"/><rect x="281.0" y="1393.0" width="38.0" height="24.0" rx="9.6" fill="#202020" fill-opacity="0.30" filter="url(#b4)"/><rect x="357.0" y="1396.5" width="26.0" height="17.0" rx="6.8" fill="#202020" fill-opacity="0.18" filter="url(#b4)"/><rect x="123.0" y="1394.5" width="62.0" height="21.0" rx="10.5" fill="#050505" fill-opacity="1" filter="url(#b2)"/><rect x="205.0" y="1397.0" width="50.0" height="16.0" rx="8.0" fill="#050505" fill-opacity="1" filter="url(#b2)"/><rect x="281.0" y="1399.0" width="38.0" height="12.0" rx="6.0" fill="#050505" fill-opacity="1" filter="url(#b2)"/><rect x="357.0" y="1402.5" width="26.0" height="5.0" rx="2.5" fill="#050505" fill-opacity="0.6" filter="url(#b2)"/></g><rect x="112.3" y="1378.0" width="288.8" height="47.2" fill="none" stroke="#000" stroke-width="2.2"/>
<g clip-path="url(#c18)"><rect x="112.3" y="1431.7" width="288.8" height="47.3" fill="#d2d4d2"/><rect x="126.0" y="1439.4" width="48.0" height="32.0" rx="12.8" fill="#202020" fill-opacity="0.30" filter="url(#b4)"/><rect x="195.0" y="1439.4" width="50.0" height="32.0" rx="12.8" fill="#202020" fill-opacity="0.30" filter="url(#b4)"/><rect x="266.0" y="1439.4" width="50.0" height="32.0" rx="12.8" fill="#202020" fill-opacity="0.30" filter="url(#b4)"/><rect x="337.0" y="1439.4" width="50.0" height="32.0" rx="12.8" fill="#202020" fill-opacity="0.30" filter="url(#b4)"/><rect x="126.0" y="1447.4" width="48.0" height="16.0" rx="8.0" fill="#050505" fill-opacity="1" filter="url(#b2)"/><rect x="195.0" y="1447.4" width="50.0" height="16.0" rx="8.0" fill="#050505" fill-opacity="1" filter="url(#b2)"/><rect x="266.0" y="1447.4" width="50.0" height="16.0" rx="8.0" fill="#050505" fill-opacity="1" filter="url(#b2)"/><rect x="337.0" y="1447.4" width="50.0" height="16.0" rx="8.0" fill="#050505" fill-opacity="1" filter="url(#b2)"/></g><rect x="112.3" y="1431.7" width="288.8" height="47.3" fill="none" stroke="#000" stroke-width="2.2"/>
<g clip-path="url(#c19)"><rect x="112.3" y="1485.5" width="288.8" height="47.3" fill="#cbccc9"/><ellipse cx="246.0" cy="1499.0" rx="6.0" ry="6.0" fill="#000" fill-opacity="0.9" filter="url(#b2)"/><rect x="123.0" y="1490.0" width="68.0" height="40.0" rx="16.0" fill="#202020" fill-opacity="0.30" filter="url(#b4)"/><rect x="209.0" y="1492.5" width="50.0" height="35.0" rx="14.0" fill="#202020" fill-opacity="0.30" filter="url(#b4)"/><rect x="288.0" y="1497.0" width="32.0" height="26.0" rx="10.4" fill="#202020" fill-opacity="0.30" filter="url(#b4)"/><rect x="350.0" y="1499.0" width="32.0" height="22.0" rx="8.8" fill="#202020" fill-opacity="0.14" filter="url(#b4)"/><rect x="123.0" y="1497.0" width="68.0" height="26.0" rx="13.0" fill="#050505" fill-opacity="1" filter="url(#b2)"/><rect x="209.0" y="1499.5" width="50.0" height="21.0" rx="10.5" fill="#050505" fill-opacity="1" filter="url(#b2)"/><rect x="288.0" y="1504.0" width="32.0" height="12.0" rx="6.0" fill="#050505" fill-opacity="1" filter="url(#b2)"/><rect x="350.0" y="1506.0" width="32.0" height="8.0" rx="4.0" fill="#050505" fill-opacity="0.45" filter="url(#b2)"/></g><rect x="112.3" y="1485.5" width="288.8" height="47.3" fill="none" stroke="#000" stroke-width="2.2"/>
<g clip-path="url(#c20)"><rect x="112.3" y="1539.0" width="288.8" height="47.3" fill="#b9bbb9"/><rect x="121.0" y="1542.8" width="56.0" height="38.0" rx="15.2" fill="#202020" fill-opacity="0.35" filter="url(#b4)"/><rect x="196.0" y="1543.8" width="50.0" height="36.0" rx="14.4" fill="#202020" fill-opacity="0.35" filter="url(#b4)"/><rect x="269.0" y="1543.8" width="48.0" height="36.0" rx="14.4" fill="#202020" fill-opacity="0.35" filter="url(#b4)"/><rect x="336.0" y="1541.8" width="56.0" height="38.0" rx="15.2" fill="#202020" fill-opacity="0.35" filter="url(#b4)"/><rect x="121.0" y="1550.8" width="56.0" height="22.0" rx="11.0" fill="#050505" fill-opacity="1" filter="url(#b2)"/><rect x="196.0" y="1551.8" width="50.0" height="20.0" rx="10.0" fill="#050505" fill-opacity="1" filter="url(#b2)"/><rect x="269.0" y="1551.8" width="48.0" height="20.0" rx="10.0" fill="#050505" fill-opacity="1" filter="url(#b2)"/><rect x="336.0" y="1549.8" width="56.0" height="22.0" rx="11.0" fill="#050505" fill-opacity="1" filter="url(#b2)"/></g><rect x="112.3" y="1539.0" width="288.8" height="47.3" fill="none" stroke="#000" stroke-width="2.2"/>
<text x="94.0" y="1249.4" font-size="24" text-anchor="end">RIG-I</text>
<text x="94.0" y="1302.9" font-size="24" text-anchor="end">MAVS</text>
<text x="94.0" y="1356.7" font-size="24" text-anchor="end">TBK1</text>
<text x="94.0" y="1410.2" font-size="24" text-anchor="end">p-TBK1</text>
<text x="94.0" y="1464.0" font-size="24" text-anchor="end">IRF3</text>
<text x="94.0" y="1517.8" font-size="24" text-anchor="end">p-IRF3</text>
<text x="94.0" y="1571.3" font-size="24" text-anchor="end">GAPDH</text>
<line x1="403.5" y1="1243.2" x2="414.5" y2="1243.2" stroke="#000" stroke-width="2.6"/>
<text x="416.0" y="1250.3" font-size="28">100</text>
<line x1="403.5" y1="1296.8" x2="414.5" y2="1296.8" stroke="#000" stroke-width="2.6"/>
<text x="416.0" y="1303.9" font-size="28">57</text>
<line x1="403.5" y1="1350.6" x2="414.5" y2="1350.6" stroke="#000" stroke-width="2.6"/>
<text x="416.0" y="1357.7" font-size="28">84</text>
<line x1="403.5" y1="1404.1" x2="414.5" y2="1404.1" stroke="#000" stroke-width="2.6"/>
<text x="416.0" y="1411.2" font-size="28">84</text>
<line x1="403.5" y1="1457.8" x2="414.5" y2="1457.8" stroke="#000" stroke-width="2.6"/>
<text x="416.0" y="1464.9" font-size="28">47</text>
<line x1="403.5" y1="1511.7" x2="414.5" y2="1511.7" stroke="#000" stroke-width="2.6"/>
<text x="416.0" y="1518.8" font-size="28">47</text>
<line x1="403.5" y1="1565.2" x2="414.5" y2="1565.2" stroke="#000" stroke-width="2.6"/>
<text x="416.0" y="1572.2" font-size="28">36</text>
<text x="568.0" y="1128.8" font-size="46">I</text>
<rect x="650.8" y="1292.4" width="38.5" height="148.4" fill="#a0a1a5"/>
<rect x="653.0" y="1289.4" width="34.1" height="3.5" fill="#a0a1a5"/>
<line x1="670.0" y1="1289.4" x2="670.0" y2="1271.6" stroke="#a0a1a5" stroke-width="3.6"/>
<line x1="660.5" y1="1272.9" x2="679.5" y2="1272.9" stroke="#a0a1a5" stroke-width="3.6"/>
<rect x="702.5" y="1339.0" width="38.1" height="101.8" fill="#e4737a"/>
<rect x="704.7" y="1336.0" width="33.7" height="3.5" fill="#e4737a"/>
<line x1="721.5" y1="1336.0" x2="721.5" y2="1327.0" stroke="#e4737a" stroke-width="3.6"/>
<line x1="712.0" y1="1328.3" x2="731.0" y2="1328.3" stroke="#e4737a" stroke-width="3.6"/>
<rect x="753.6" y="1399.5" width="38.7" height="41.3" fill="#d4d5d4"/>
<rect x="755.9" y="1396.5" width="34.3" height="3.5" fill="#d4d5d4"/>
<line x1="773.0" y1="1396.5" x2="773.0" y2="1393.3" stroke="#d4d5d4" stroke-width="3.6"/>
<line x1="763.5" y1="1394.6" x2="782.5" y2="1394.6" stroke="#d4d5d4" stroke-width="3.6"/>
<rect x="805.4" y="1427.3" width="37.7" height="13.5" fill="#6399cf"/>
<rect x="807.6" y="1424.3" width="33.3" height="3.5" fill="#6399cf"/>
<line x1="824.2" y1="1424.3" x2="824.2" y2="1421.0" stroke="#6399cf" stroke-width="3.6"/>
<line x1="814.7" y1="1422.3" x2="833.7" y2="1422.3" stroke="#6399cf" stroke-width="3.6"/>
<line x1="635.0" y1="1244.7" x2="635.0" y2="1442.4" stroke="#000" stroke-width="3.2"/>
<line x1="627.5" y1="1246.3" x2="635.0" y2="1246.3" stroke="#000" stroke-width="3.2"/>
<text x="620.7" y="1254.6" font-size="23" text-anchor="end">1500</text>
<line x1="627.5" y1="1311.0" x2="635.0" y2="1311.0" stroke="#000" stroke-width="3.2"/>
<text x="620.7" y="1319.3" font-size="23" text-anchor="end">1000</text>
<line x1="627.5" y1="1376.3" x2="635.0" y2="1376.3" stroke="#000" stroke-width="3.2"/>
<text x="620.7" y="1384.6" font-size="23" text-anchor="end">500</text>
<line x1="627.5" y1="1440.8" x2="635.0" y2="1440.8" stroke="#000" stroke-width="3.2"/>
<text x="620.7" y="1449.1" font-size="23" text-anchor="end">0</text>
<line x1="628.0" y1="1440.8" x2="860.8" y2="1440.8" stroke="#000" stroke-width="3.2"/>
<line x1="669.5" y1="1440.8" x2="669.5" y2="1449.5" stroke="#000" stroke-width="3.2"/>
<line x1="721.2" y1="1440.8" x2="721.2" y2="1449.5" stroke="#000" stroke-width="3.2"/>
<line x1="772.7" y1="1440.8" x2="772.7" y2="1449.5" stroke="#000" stroke-width="3.2"/>
<line x1="824.6" y1="1440.8" x2="824.6" y2="1449.5" stroke="#000" stroke-width="3.2"/>
<line x1="667.5" y1="1263.0" x2="722.4" y2="1263.0" stroke="#000" stroke-width="2.8"/>
<text x="697.0" y="1261.0" font-size="23" text-anchor="middle">**</text>
<line x1="668.2" y1="1235.7" x2="771.4" y2="1235.7" stroke="#000" stroke-width="2.8"/>
<text x="721.0" y="1236.0" font-size="23" text-anchor="middle">***</text>
<line x1="668.2" y1="1211.0" x2="823.2" y2="1211.0" stroke="#000" stroke-width="2.8"/>
<text x="750.0" y="1211.0" font-size="23" text-anchor="middle">****</text>
<text x="628.0" y="1474.0" font-size="23.5" text-anchor="end">IFN-γ</text>
<text x="668.7" y="1476.2" font-size="24" text-anchor="middle" stroke="#000" stroke-width="0.7">+</text>
<text x="719.7" y="1476.2" font-size="24" text-anchor="middle" stroke="#000" stroke-width="0.7">+</text>
<text x="773.4" y="1476.2" font-size="24" text-anchor="middle" stroke="#000" stroke-width="0.7">+</text>
<text x="825.6" y="1476.2" font-size="24" text-anchor="middle" stroke="#000" stroke-width="0.7">+</text>
<polygon points="639.2,1515.5 842.4,1484 842.4,1515.5" fill="#000"/>
<text x="629.3" y="1521.0" font-size="23.5" text-anchor="end">Met (μM)</text>
<text x="665.5" y="1546.7" font-size="24" text-anchor="middle">5</text>
<text x="720.4" y="1546.7" font-size="24" text-anchor="middle">20</text>
<text x="774.6" y="1546.7" font-size="24" text-anchor="middle">40</text>
<text x="829.3" y="1546.7" font-size="24" text-anchor="middle">80</text>
<text x="551.5" y="1328.8" font-size="24" text-anchor="middle" transform="rotate(-90 551.5 1328.8)">IFN-β (pg/ml)</text>
<text x="947.6" y="1129.3" font-size="46">J</text>
<text x="1084.7" y="1130.8" font-size="24" text-anchor="middle">T24</text>
<text x="1247.3" y="1130.8" font-size="24" text-anchor="middle">5637</text>
<line x1="1017.6" y1="1141.6" x2="1145.7" y2="1141.6" stroke="#000" stroke-width="2.4"/>
<line x1="1181.0" y1="1141.6" x2="1309.5" y2="1141.6" stroke="#000" stroke-width="2.4"/>
<text x="901.5" y="1175.4" font-size="24">Poly (I:C)</text>
<text x="1050.0" y="1176.0" font-size="30" text-anchor="middle" stroke="#000" stroke-width="0.8">+</text>
<text x="1126.3" y="1176.0" font-size="30" text-anchor="middle" stroke="#000" stroke-width="0.8">+</text>
<text x="1204.8" y="1176.0" font-size="30" text-anchor="middle" stroke="#000" stroke-width="0.8">+</text>
<text x="1288.6" y="1176.0" font-size="30" text-anchor="middle" stroke="#000" stroke-width="0.8">+</text>
<text x="1047.8" y="1209.3" font-size="24" text-anchor="middle">NM</text>
<text x="1119.5" y="1209.3" font-size="24" text-anchor="middle">MFM</text>
<text x="1207.9" y="1209.3" font-size="24" text-anchor="middle">NM</text>
<text x="1283.3" y="1209.3" font-size="24" text-anchor="middle">MFM</text>
<g clip-path="url(#c21)"><rect x="1007.8" y="1228.7" width="311.9" height="46.2" fill="url(#g21)"/><rect x="1031.0" y="1252.0" width="30.0" height="4.0" rx="2.0" fill="#050505" fill-opacity="0.5" filter="url(#b2)"/><rect x="1105.0" y="1250.0" width="48.0" height="8.0" rx="4.0" fill="#050505" fill-opacity="1" filter="url(#b2)"/><rect x="1192.0" y="1252.5" width="26.0" height="3.0" rx="1.5" fill="#050505" fill-opacity="0.35" filter="url(#b2)"/><rect x="1259.0" y="1251.0" width="52.0" height="6.0" rx="3.0" fill="#050505" fill-opacity="0.9" filter="url(#b2)"/></g><rect x="1007.8" y="1228.7" width="311.9" height="46.2" fill="none" stroke="#000" stroke-width="2.2"/>
<g clip-path="url(#c22)"><rect x="1007.8" y="1281.0" width="311.9" height="46.2" fill="#a0a49f"/><rect x="1031.0" y="1301.2" width="30.0" height="4.0" rx="2.0" fill="#050505" fill-opacity="0.15" filter="url(#b3)"/><rect x="1104.0" y="1300.2" width="50.0" height="6.0" rx="3.0" fill="#050505" fill-opacity="0.35" filter="url(#b3)"/><rect x="1190.0" y="1301.2" width="30.0" height="4.0" rx="2.0" fill="#050505" fill-opacity="0.12" filter="url(#b3)"/><rect x="1259.0" y="1299.7" width="52.0" height="7.0" rx="3.5" fill="#050505" fill-opacity="0.45" filter="url(#b3)"/></g><rect x="1007.8" y="1281.0" width="311.9" height="46.2" fill="none" stroke="#000" stroke-width="2.2"/>
<g clip-path="url(#c23)"><rect x="1007.8" y="1333.4" width="311.9" height="44.6" fill="#c9cbc9"/><rect x="1019.0" y="1346.6" width="50.0" height="24.0" rx="9.6" fill="#202020" fill-opacity="0.30" filter="url(#b4)"/><rect x="1100.0" y="1344.1" width="52.0" height="29.0" rx="11.6" fill="#202020" fill-opacity="0.30" filter="url(#b4)"/><rect x="1179.5" y="1346.6" width="46.0" height="24.0" rx="9.6" fill="#202020" fill-opacity="0.30" filter="url(#b4)"/><rect x="1253.0" y="1344.6" width="56.0" height="28.0" rx="11.2" fill="#202020" fill-opacity="0.30" filter="url(#b4)"/><rect x="1019.0" y="1352.6" width="50.0" height="12.0" rx="6.0" fill="#050505" fill-opacity="1" filter="url(#b2)"/><rect x="1100.0" y="1350.1" width="52.0" height="17.0" rx="8.5" fill="#050505" fill-opacity="1" filter="url(#b2)"/><rect x="1179.5" y="1352.6" width="46.0" height="12.0" rx="6.0" fill="#050505" fill-opacity="1" filter="url(#b2)"/><rect x="1253.0" y="1350.6" width="56.0" height="16.0" rx="8.0" fill="#050505" fill-opacity="1" filter="url(#b2)"/></g><rect x="1007.8" y="1333.4" width="311.9" height="44.6" fill="none" stroke="#000" stroke-width="2.2"/>
<g clip-path="url(#c24)"><rect x="1007.8" y="1384.8" width="311.9" height="45.2" fill="#b7bab4"/><ellipse cx="1007.8" cy="1430.0" rx="20.0" ry="14.0" fill="#555" fill-opacity="0.5" filter="url(#b5)"/><rect x="1033.0" y="1403.4" width="34.0" height="6.0" rx="3.0" fill="#050505" fill-opacity="1" filter="url(#b2)"/><rect x="1097.0" y="1401.9" width="56.0" height="9.0" rx="4.5" fill="#050505" fill-opacity="1" filter="url(#b2)"/><rect x="1189.0" y="1404.4" width="28.0" height="4.0" rx="2.0" fill="#050505" fill-opacity="0.8" filter="url(#b2)"/><rect x="1259.0" y="1401.9" width="52.0" height="9.0" rx="4.5" fill="#050505" fill-opacity="1" filter="url(#b2)"/></g><rect x="1007.8" y="1384.8" width="311.9" height="45.2" fill="none" stroke="#000" stroke-width="2.2"/>
<g clip-path="url(#c25)"><rect x="1007.8" y="1437.0" width="311.9" height="44.8" fill="#c9cbc9"/><rect x="1017.0" y="1440.7" width="56.0" height="39.0" rx="15.6" fill="#202020" fill-opacity="0.35" filter="url(#b4)"/><rect x="1099.0" y="1441.7" width="52.0" height="37.0" rx="14.8" fill="#202020" fill-opacity="0.35" filter="url(#b4)"/><rect x="1176.0" y="1441.2" width="52.0" height="38.0" rx="15.2" fill="#202020" fill-opacity="0.35" filter="url(#b4)"/><rect x="1253.0" y="1440.2" width="56.0" height="40.0" rx="16.0" fill="#202020" fill-opacity="0.35" filter="url(#b4)"/><rect x="1017.0" y="1448.7" width="56.0" height="23.0" rx="11.5" fill="#050505" fill-opacity="1" filter="url(#b2)"/><rect x="1099.0" y="1449.7" width="52.0" height="21.0" rx="10.5" fill="#050505" fill-opacity="1" filter="url(#b2)"/><rect x="1176.0" y="1449.2" width="52.0" height="22.0" rx="11.0" fill="#050505" fill-opacity="1" filter="url(#b2)"/><rect x="1253.0" y="1448.2" width="56.0" height="24.0" rx="12.0" fill="#050505" fill-opacity="1" filter="url(#b2)"/></g><rect x="1007.8" y="1437.0" width="311.9" height="44.8" fill="none" stroke="#000" stroke-width="2.2"/>
<g clip-path="url(#c26)"><rect x="1007.8" y="1488.9" width="311.9" height="45.2" fill="#a6a9a4"/><rect x="1025.0" y="1496.6" width="46.0" height="32.0" rx="12.8" fill="#202020" fill-opacity="0.30" filter="url(#b4)"/><rect x="1093.0" y="1494.6" width="62.0" height="36.0" rx="14.4" fill="#202020" fill-opacity="0.30" filter="url(#b4)"/><rect x="1186.0" y="1499.6" width="36.0" height="26.0" rx="10.4" fill="#202020" fill-opacity="0.30" filter="url(#b4)"/><rect x="1253.0" y="1493.6" width="62.0" height="38.0" rx="15.2" fill="#202020" fill-opacity="0.30" filter="url(#b4)"/><rect x="1025.0" y="1503.6" width="46.0" height="18.0" rx="9.0" fill="#050505" fill-opacity="1" filter="url(#b2)"/><rect x="1093.0" y="1501.6" width="62.0" height="22.0" rx="11.0" fill="#050505" fill-opacity="1" filter="url(#b2)"/><rect x="1186.0" y="1506.6" width="36.0" height="12.0" rx="6.0" fill="#050505" fill-opacity="1" filter="url(#b2)"/><rect x="1253.0" y="1500.6" width="62.0" height="24.0" rx="12.0" fill="#050505" fill-opacity="1" filter="url(#b2)"/></g><rect x="1007.8" y="1488.9" width="311.9" height="45.2" fill="none" stroke="#000" stroke-width="2.2"/>
<g clip-path="url(#c27)"><rect x="1007.8" y="1540.9" width="311.9" height="44.9" fill="#d0d2d0"/><rect x="1022.0" y="1550.0" width="56.0" height="30.0" rx="12.0" fill="#202020" fill-opacity="0.30" filter="url(#b4)"/><rect x="1102.0" y="1550.0" width="50.0" height="30.0" rx="12.0" fill="#202020" fill-opacity="0.30" filter="url(#b4)"/><rect x="1177.0" y="1550.5" width="52.0" height="29.0" rx="11.6" fill="#202020" fill-opacity="0.30" filter="url(#b4)"/><rect x="1257.0" y="1550.5" width="50.0" height="29.0" rx="11.6" fill="#202020" fill-opacity="0.30" filter="url(#b4)"/><rect x="1022.0" y="1557.0" width="56.0" height="16.0" rx="8.0" fill="#050505" fill-opacity="1" filter="url(#b2)"/><rect x="1102.0" y="1557.0" width="50.0" height="16.0" rx="8.0" fill="#050505" fill-opacity="1" filter="url(#b2)"/><rect x="1177.0" y="1557.5" width="52.0" height="15.0" rx="7.5" fill="#050505" fill-opacity="1" filter="url(#b2)"/><rect x="1257.0" y="1557.5" width="50.0" height="15.0" rx="7.5" fill="#050505" fill-opacity="1" filter="url(#b2)"/></g><rect x="1007.8" y="1540.9" width="311.9" height="44.9" fill="none" stroke="#000" stroke-width="2.2"/>
<text x="990.8" y="1260.4" font-size="24" text-anchor="end">RIG-I</text>
<text x="990.8" y="1312.7" font-size="24" text-anchor="end">MAVS</text>
<text x="990.8" y="1364.3" font-size="24" text-anchor="end">TBK1</text>
<text x="990.8" y="1416.0" font-size="24" text-anchor="end">p-TBK1</text>
<text x="990.8" y="1468.0" font-size="24" text-anchor="end">IRF3</text>
<text x="990.8" y="1520.1" font-size="24" text-anchor="end">p-IRF3</text>
<text x="990.8" y="1572.0" font-size="24" text-anchor="end">GAPDH</text>
<line x1="1324.9" y1="1254.3" x2="1335.9" y2="1254.3" stroke="#000" stroke-width="2.6"/>
<text x="1337.4" y="1261.4" font-size="28">100</text>
<line x1="1324.9" y1="1306.6" x2="1335.9" y2="1306.6" stroke="#000" stroke-width="2.6"/>
<text x="1337.4" y="1313.7" font-size="28">57</text>
<line x1="1324.9" y1="1358.2" x2="1335.9" y2="1358.2" stroke="#000" stroke-width="2.6"/>
<text x="1337.4" y="1365.3" font-size="28">84</text>
<line x1="1324.9" y1="1409.9" x2="1335.9" y2="1409.9" stroke="#000" stroke-width="2.6"/>
<text x="1337.4" y="1417.0" font-size="28">84</text>
<line x1="1324.9" y1="1461.9" x2="1335.9" y2="1461.9" stroke="#000" stroke-width="2.6"/>
<text x="1337.4" y="1469.0" font-size="28">47</text>
<line x1="1324.9" y1="1514.0" x2="1335.9" y2="1514.0" stroke="#000" stroke-width="2.6"/>
<text x="1337.4" y="1521.1" font-size="28">47</text>
<line x1="1324.9" y1="1565.8" x2="1335.9" y2="1565.8" stroke="#000" stroke-width="2.6"/>
<text x="1337.4" y="1572.9" font-size="28">36</text>
<text x="1408.8" y="1129.3" font-size="46">K</text>
<rect x="1529.8" y="1392.0" width="38.9" height="29.9" fill="#a0a1a5"/>
<rect x="1532.0" y="1389.0" width="34.5" height="3.5" fill="#a0a1a5"/>
<line x1="1549.2" y1="1389.0" x2="1549.2" y2="1381.7" stroke="#a0a1a5" stroke-width="3.6"/>
<line x1="1539.7" y1="1383.0" x2="1558.7" y2="1383.0" stroke="#a0a1a5" stroke-width="3.6"/>
<rect x="1583.0" y="1317.7" width="39.2" height="104.2" fill="#e4737a"/>
<rect x="1585.2" y="1314.7" width="34.8" height="3.5" fill="#e4737a"/>
<line x1="1602.6" y1="1314.7" x2="1602.6" y2="1307.0" stroke="#e4737a" stroke-width="3.6"/>
<line x1="1593.1" y1="1308.3" x2="1612.1" y2="1308.3" stroke="#e4737a" stroke-width="3.6"/>
<rect x="1636.0" y="1387.7" width="39.4" height="34.2" fill="#d4d5d4"/>
<rect x="1638.2" y="1384.7" width="35.0" height="3.5" fill="#d4d5d4"/>
<line x1="1655.7" y1="1384.7" x2="1655.7" y2="1373.0" stroke="#d4d5d4" stroke-width="3.6"/>
<line x1="1646.2" y1="1374.3" x2="1665.2" y2="1374.3" stroke="#d4d5d4" stroke-width="3.6"/>
<rect x="1689.4" y="1296.8" width="38.6" height="125.1" fill="#6399cf"/>
<rect x="1691.6" y="1293.8" width="34.2" height="3.5" fill="#6399cf"/>
<line x1="1708.7" y1="1293.8" x2="1708.7" y2="1276.3" stroke="#6399cf" stroke-width="3.6"/>
<line x1="1699.2" y1="1277.6" x2="1718.2" y2="1277.6" stroke="#6399cf" stroke-width="3.6"/>
<line x1="1513.8" y1="1223.2" x2="1513.8" y2="1423.5" stroke="#000" stroke-width="3.2"/>
<line x1="1506.3" y1="1224.8" x2="1513.8" y2="1224.8" stroke="#000" stroke-width="3.2"/>
<text x="1499.8" y="1233.1" font-size="23" text-anchor="end">800</text>
<line x1="1506.3" y1="1274.1" x2="1513.8" y2="1274.1" stroke="#000" stroke-width="3.2"/>
<text x="1499.8" y="1282.4" font-size="23" text-anchor="end">600</text>
<line x1="1506.3" y1="1323.4" x2="1513.8" y2="1323.4" stroke="#000" stroke-width="3.2"/>
<text x="1499.8" y="1331.7" font-size="23" text-anchor="end">400</text>
<line x1="1506.3" y1="1372.6" x2="1513.8" y2="1372.6" stroke="#000" stroke-width="3.2"/>
<text x="1499.8" y="1380.9" font-size="23" text-anchor="end">200</text>
<line x1="1506.3" y1="1421.9" x2="1513.8" y2="1421.9" stroke="#000" stroke-width="3.2"/>
<text x="1499.8" y="1430.2" font-size="23" text-anchor="end">0</text>
<line x1="1506.4" y1="1421.9" x2="1746.0" y2="1421.9" stroke="#000" stroke-width="3.2"/>
<line x1="1549.5" y1="1421.9" x2="1549.5" y2="1431.0" stroke="#000" stroke-width="3.2"/>
<line x1="1602.5" y1="1421.9" x2="1602.5" y2="1431.0" stroke="#000" stroke-width="3.2"/>
<line x1="1655.4" y1="1421.9" x2="1655.4" y2="1431.0" stroke="#000" stroke-width="3.2"/>
<line x1="1708.4" y1="1421.9" x2="1708.4" y2="1431.0" stroke="#000" stroke-width="3.2"/>
<line x1="1546.6" y1="1289.9" x2="1600.8" y2="1289.9" stroke="#000" stroke-width="2.8"/>
<text x="1573.0" y="1288.0" font-size="23" text-anchor="middle">***</text>
<line x1="1650.5" y1="1264.7" x2="1704.7" y2="1264.7" stroke="#000" stroke-width="2.8"/>
<text x="1679.6" y="1263.0" font-size="23" text-anchor="middle">**</text>
<text x="1520.7" y="1463.0" font-size="23.5" text-anchor="end">Poly (I:C)</text>
<text x="1552.7" y="1468.7" font-size="24" text-anchor="middle" stroke="#000" stroke-width="0.7">+</text>
<text x="1603.2" y="1468.7" font-size="24" text-anchor="middle" stroke="#000" stroke-width="0.7">+</text>
<text x="1656.7" y="1468.7" font-size="24" text-anchor="middle" stroke="#000" stroke-width="0.7">+</text>
<text x="1709.1" y="1468.7" font-size="24" text-anchor="middle" stroke="#000" stroke-width="0.7">+</text>
<text x="1512.8" y="1506.0" font-size="23.5" text-anchor="end">MFM</text>
<line x1="1544.7" y1="1500.0" x2="1560.7" y2="1500.0" stroke="#000" stroke-width="1.6"/>
<text x="1603.2" y="1508.2" font-size="24" text-anchor="middle" stroke="#000" stroke-width="0.7">+</text>
<line x1="1648.7" y1="1500.0" x2="1664.7" y2="1500.0" stroke="#000" stroke-width="1.6"/>
<text x="1709.1" y="1508.2" font-size="24" text-anchor="middle" stroke="#000" stroke-width="0.7">+</text>
<text x="1515.0" y="1549.2" font-size="23.5" text-anchor="end">NM</text>
<text x="1552.7" y="1548.8" font-size="24" text-anchor="middle" stroke="#000" stroke-width="0.7">+</text>
<line x1="1595.2" y1="1540.6" x2="1611.2" y2="1540.6" stroke="#000" stroke-width="1.6"/>
<text x="1656.7" y="1548.8" font-size="24" text-anchor="middle" stroke="#000" stroke-width="0.7">+</text>
<line x1="1701.1" y1="1540.6" x2="1717.1" y2="1540.6" stroke="#000" stroke-width="1.6"/>
<text x="1430.5" y="1311.5" font-size="24" text-anchor="middle" transform="rotate(-90 1430.5 1311.5)">IFN-β (pg/ml)</text>
<text x="9.0" y="1651.2" font-size="46">L</text>
<text x="268.8" y="1649.3" font-size="23" text-anchor="middle">T24</text>
<line x1="104.3" y1="1677.5" x2="104.3" y2="1956.5" stroke="#000" stroke-width="3.6"/>
<line x1="94.5" y1="1679.0" x2="104.3" y2="1679.0" stroke="#000" stroke-width="3.6"/>
<text x="89.0" y="1687.6" font-size="24" text-anchor="end">50</text>
<line x1="94.5" y1="1734.0" x2="104.3" y2="1734.0" stroke="#000" stroke-width="3.6"/>
<text x="89.0" y="1742.6" font-size="24" text-anchor="end">40</text>
<line x1="94.5" y1="1789.4" x2="104.3" y2="1789.4" stroke="#000" stroke-width="3.6"/>
<text x="89.0" y="1798.0" font-size="24" text-anchor="end">30</text>
<line x1="94.5" y1="1844.6" x2="104.3" y2="1844.6" stroke="#000" stroke-width="3.6"/>
<text x="89.0" y="1853.2" font-size="24" text-anchor="end">20</text>
<line x1="94.5" y1="1899.4" x2="104.3" y2="1899.4" stroke="#000" stroke-width="3.6"/>
<text x="89.0" y="1908.0" font-size="24" text-anchor="end">10</text>
<line x1="94.5" y1="1954.6" x2="104.3" y2="1954.6" stroke="#000" stroke-width="3.6"/>
<text x="89.0" y="1963.2" font-size="24" text-anchor="end">0</text>
<line x1="94.3" y1="1954.6" x2="394.2" y2="1954.6" stroke="#000" stroke-width="3.6"/>
<line x1="134.7" y1="1954.6" x2="134.7" y2="1967.0" stroke="#000" stroke-width="3.6"/>
<line x1="210.0" y1="1954.6" x2="210.0" y2="1967.0" stroke="#000" stroke-width="3.6"/>
<line x1="285.8" y1="1954.6" x2="285.8" y2="1967.0" stroke="#000" stroke-width="3.6"/>
<line x1="361.7" y1="1954.6" x2="361.7" y2="1967.0" stroke="#000" stroke-width="3.6"/>
<text x="134.7" y="1994.2" font-size="24" text-anchor="middle">5:1</text>
<text x="214.0" y="1994.2" font-size="24" text-anchor="middle">10:1</text>
<text x="361.7" y="1994.2" font-size="24" text-anchor="middle">20:1</text>
<text x="252.7" y="2027.2" font-size="27" text-anchor="middle">Effector:Target</text>
<path d="M134.7 1860.6 L210.0 1814.6 L361.7 1740.6" fill="none" stroke="#e5747b" stroke-width="3.8" stroke-linejoin="round"/>
<line x1="134.7" y1="1860.6" x2="134.7" y2="1845.2" stroke="#e5747b" stroke-width="3"/>
<line x1="129.7" y1="1846.4" x2="139.7" y2="1846.4" stroke="#e5747b" stroke-width="3"/>
<line x1="210.0" y1="1814.6" x2="210.0" y2="1787.0" stroke="#e5747b" stroke-width="3"/>
<line x1="205.0" y1="1788.2" x2="215.0" y2="1788.2" stroke="#e5747b" stroke-width="3"/>
<line x1="361.7" y1="1740.6" x2="361.7" y2="1722.4" stroke="#e5747b" stroke-width="3"/>
<line x1="356.7" y1="1723.6" x2="366.7" y2="1723.6" stroke="#e5747b" stroke-width="3"/>
<circle cx="134.7" cy="1860.6" r="5.5" fill="#e5747b"/>
<circle cx="210.0" cy="1814.6" r="5.5" fill="#e5747b"/>
<circle cx="361.7" cy="1740.6" r="5.5" fill="#e5747b"/>
<path d="M134.7 1906.7 L210.0 1886.4 L361.7 1863.3" fill="none" stroke="#6a9fd6" stroke-width="3.8" stroke-linejoin="round"/>
<line x1="134.7" y1="1906.7" x2="134.7" y2="1901.3" stroke="#6a9fd6" stroke-width="3"/>
<line x1="129.7" y1="1902.5" x2="139.7" y2="1902.5" stroke="#6a9fd6" stroke-width="3"/>
<line x1="210.0" y1="1886.4" x2="210.0" y2="1876.0" stroke="#6a9fd6" stroke-width="3"/>
<line x1="205.0" y1="1877.2" x2="215.0" y2="1877.2" stroke="#6a9fd6" stroke-width="3"/>
<line x1="361.7" y1="1863.3" x2="361.7" y2="1850.6" stroke="#6a9fd6" stroke-width="3"/>
<line x1="356.7" y1="1851.8" x2="366.7" y2="1851.8" stroke="#6a9fd6" stroke-width="3"/>
<rect x="129.7" y="1901.2" width="10.0" height="11.0" fill="#6a9fd6"/>
<rect x="205.0" y="1880.9" width="10.0" height="11.0" fill="#6a9fd6"/>
<rect x="356.7" y="1857.8" width="10.0" height="11.0" fill="#6a9fd6"/>
<line x1="113.3" y1="1681.8" x2="135.5" y2="1681.8" stroke="#6a9fd6" stroke-width="3.8"/>
<rect x="119.6" y="1676.3" width="10.0" height="11.0" fill="#6a9fd6"/>
<text x="143.6" y="1690.0" font-size="24">NM</text>
<line x1="113.3" y1="1719.2" x2="135.5" y2="1719.2" stroke="#e5747b" stroke-width="3.8"/>
<circle cx="124.6" cy="1719.2" r="5.0" fill="#e5747b"/>
<text x="143.6" y="1727.5" font-size="24">MFM</text>
<line x1="212.7" y1="1671.8" x2="212.7" y2="1722.4" stroke="#000" stroke-width="2.8"/>
<text x="217.0" y="1694.0" font-size="22" text-anchor="middle" transform="rotate(90 217.0 1694.0)">**</text>
<text x="46.0" y="1805.0" font-size="24.5" text-anchor="middle" transform="rotate(-90 46.0 1805.0)">Cytotoxicity (%)</text>
<text x="507.8" y="1651.2" font-size="46">M</text>
<text x="716.4" y="1649.3" font-size="24" text-anchor="middle">MB49</text>
<line x1="574.1" y1="1659.6" x2="574.1" y2="1956.4" stroke="#000" stroke-width="3.6"/>
<line x1="563.6" y1="1711.0" x2="574.1" y2="1711.0" stroke="#000" stroke-width="3.6"/>
<text x="556.5" y="1721.0" font-size="28" text-anchor="end">1500</text>
<line x1="563.6" y1="1792.3" x2="574.1" y2="1792.3" stroke="#000" stroke-width="3.6"/>
<text x="556.5" y="1802.3" font-size="28" text-anchor="end">1000</text>
<line x1="563.6" y1="1874.2" x2="574.1" y2="1874.2" stroke="#000" stroke-width="3.6"/>
<text x="556.5" y="1884.2" font-size="28" text-anchor="end">500</text>
<line x1="563.6" y1="1954.6" x2="574.1" y2="1954.6" stroke="#000" stroke-width="3.6"/>
<text x="556.5" y="1964.6" font-size="28" text-anchor="end">0</text>
<line x1="563.6" y1="1954.6" x2="599.9" y2="1954.6" stroke="#000" stroke-width="3.6"/>
<line x1="616.7" y1="1954.6" x2="843.7" y2="1954.6" stroke="#000" stroke-width="3.6"/>
<line x1="599.9" y1="1945.6" x2="599.9" y2="1964.6" stroke="#000" stroke-width="3.6"/>
<line x1="616.7" y1="1945.6" x2="616.7" y2="1964.6" stroke="#000" stroke-width="3.6"/>
<line x1="574.1" y1="1954.6" x2="574.1" y2="1971.6" stroke="#000" stroke-width="3.6"/>
<line x1="616.7" y1="1954.6" x2="616.7" y2="1971.6" stroke="#000" stroke-width="3.6"/>
<line x1="719.0" y1="1954.6" x2="719.0" y2="1971.6" stroke="#000" stroke-width="3.6"/>
<line x1="821.2" y1="1954.6" x2="821.2" y2="1971.6" stroke="#000" stroke-width="3.6"/>
<text x="572.8" y="1996.0" font-size="27" text-anchor="middle">0</text>
<text x="621.0" y="1996.0" font-size="27" text-anchor="middle">10</text>
<text x="726.6" y="1996.0" font-size="27" text-anchor="middle">20</text>
<text x="819.9" y="1996.0" font-size="27" text-anchor="middle">30</text>
<text x="729.4" y="2028.6" font-size="27" text-anchor="middle">Days</text>
<path d="M616.7 1954.1 L637.2 1948.7 L657.6 1946.0 L678.1 1939.2 L698.5 1935.1 L719.0 1927.0 L739.4 1918.9 L759.9 1910.7 L780.3 1903.4 L800.8 1889.1 L821.2 1874.2" fill="none" stroke="#e5747b" stroke-width="3.8" stroke-linejoin="round"/>
<line x1="719.0" y1="1927.0" x2="719.0" y2="1921.6" stroke="#e5747b" stroke-width="3"/>
<line x1="714.0" y1="1922.8" x2="724.0" y2="1922.8" stroke="#e5747b" stroke-width="3"/>
<line x1="739.4" y1="1918.9" x2="739.4" y2="1911.3" stroke="#e5747b" stroke-width="3"/>
<line x1="734.4" y1="1912.5" x2="744.4" y2="1912.5" stroke="#e5747b" stroke-width="3"/>
<line x1="759.9" y1="1910.7" x2="759.9" y2="1902.6" stroke="#e5747b" stroke-width="3"/>
<line x1="754.9" y1="1903.8" x2="764.9" y2="1903.8" stroke="#e5747b" stroke-width="3"/>
<line x1="780.3" y1="1903.4" x2="780.3" y2="1893.1" stroke="#e5747b" stroke-width="3"/>
<line x1="775.3" y1="1894.3" x2="785.3" y2="1894.3" stroke="#e5747b" stroke-width="3"/>
<line x1="800.8" y1="1889.1" x2="800.8" y2="1878.8" stroke="#e5747b" stroke-width="3"/>
<line x1="795.8" y1="1880.0" x2="805.8" y2="1880.0" stroke="#e5747b" stroke-width="3"/>
<line x1="821.2" y1="1874.2" x2="821.2" y2="1858.7" stroke="#e5747b" stroke-width="3"/>
<line x1="816.2" y1="1859.9" x2="826.2" y2="1859.9" stroke="#e5747b" stroke-width="3"/>
<polygon points="611.2,1959.3 622.2,1959.3 616.7,1948.9" fill="#e5747b"/>
<polygon points="631.7,1953.9 642.7,1953.9 637.2,1943.4" fill="#e5747b"/>
<polygon points="652.1,1951.2 663.1,1951.2 657.6,1940.7" fill="#e5747b"/>
<polygon points="672.6,1944.4 683.6,1944.4 678.1,1934.0" fill="#e5747b"/>
<polygon points="693.0,1940.3 704.0,1940.3 698.5,1929.9" fill="#e5747b"/>
<polygon points="713.5,1932.2 724.5,1932.2 719.0,1921.8" fill="#e5747b"/>
<polygon points="733.9,1924.1 744.9,1924.1 739.4,1913.6" fill="#e5747b"/>
<polygon points="754.4,1916.0 765.4,1916.0 759.9,1905.5" fill="#e5747b"/>
<polygon points="774.8,1908.6 785.8,1908.6 780.3,1898.2" fill="#e5747b"/>
<polygon points="795.2,1894.3 806.2,1894.3 800.8,1883.8" fill="#e5747b"/>
<polygon points="815.7,1879.4 826.7,1879.4 821.2,1868.9" fill="#e5747b"/>
<path d="M616.7 1951.9 L637.2 1946.0 L657.6 1941.9 L678.1 1934.6 L698.5 1922.9 L719.0 1906.7 L739.4 1875.5 L759.9 1859.8 L780.3 1834.9 L800.8 1803.7 L821.2 1761.7" fill="none" stroke="#6a9fd6" stroke-width="3.8" stroke-linejoin="round"/>
<line x1="719.0" y1="1906.7" x2="719.0" y2="1904.0" stroke="#6a9fd6" stroke-width="3"/>
<line x1="714.0" y1="1905.2" x2="724.0" y2="1905.2" stroke="#6a9fd6" stroke-width="3"/>
<line x1="739.4" y1="1875.5" x2="739.4" y2="1865.5" stroke="#6a9fd6" stroke-width="3"/>
<line x1="734.4" y1="1866.7" x2="744.4" y2="1866.7" stroke="#6a9fd6" stroke-width="3"/>
<line x1="759.9" y1="1859.8" x2="759.9" y2="1849.0" stroke="#6a9fd6" stroke-width="3"/>
<line x1="754.9" y1="1850.2" x2="764.9" y2="1850.2" stroke="#6a9fd6" stroke-width="3"/>
<line x1="780.3" y1="1834.9" x2="780.3" y2="1821.3" stroke="#6a9fd6" stroke-width="3"/>
<line x1="775.3" y1="1822.5" x2="785.3" y2="1822.5" stroke="#6a9fd6" stroke-width="3"/>
<line x1="800.8" y1="1803.7" x2="800.8" y2="1787.5" stroke="#6a9fd6" stroke-width="3"/>
<line x1="795.8" y1="1788.7" x2="805.8" y2="1788.7" stroke="#6a9fd6" stroke-width="3"/>
<line x1="821.2" y1="1761.7" x2="821.2" y2="1741.9" stroke="#6a9fd6" stroke-width="3"/>
<line x1="816.2" y1="1743.1" x2="826.2" y2="1743.1" stroke="#6a9fd6" stroke-width="3"/>
<rect x="611.5" y="1944.8" width="10.5" height="14.2" fill="#6a9fd6"/>
<rect x="631.9" y="1938.9" width="10.5" height="14.2" fill="#6a9fd6"/>
<rect x="652.4" y="1934.8" width="10.5" height="14.2" fill="#6a9fd6"/>
<rect x="672.8" y="1927.5" width="10.5" height="14.2" fill="#6a9fd6"/>
<rect x="693.2" y="1915.8" width="10.5" height="14.2" fill="#6a9fd6"/>
<rect x="713.7" y="1899.6" width="10.5" height="14.2" fill="#6a9fd6"/>
<rect x="734.2" y="1868.4" width="10.5" height="14.2" fill="#6a9fd6"/>
<rect x="754.6" y="1852.7" width="10.5" height="14.2" fill="#6a9fd6"/>
<rect x="775.1" y="1827.8" width="10.5" height="14.2" fill="#6a9fd6"/>
<rect x="795.5" y="1796.6" width="10.5" height="14.2" fill="#6a9fd6"/>
<rect x="816.0" y="1754.6" width="10.5" height="14.2" fill="#6a9fd6"/>
<line x1="586.3" y1="1682.6" x2="617.5" y2="1682.6" stroke="#6a9fd6" stroke-width="3.8"/>
<rect x="596.6" y="1676.8" width="10.5" height="11.6" fill="#6a9fd6"/>
<text x="622.9" y="1690.0" font-size="24">CD</text>
<line x1="586.3" y1="1719.2" x2="617.5" y2="1719.2" stroke="#e5747b" stroke-width="3.8"/>
<polygon points="596.4,1724.4 607.4,1724.4 601.9,1714.0" fill="#e5747b"/>
<text x="622.9" y="1727.0" font-size="24">MRD</text>
<line x1="692.0" y1="1672.3" x2="692.0" y2="1723.3" stroke="#000" stroke-width="2.8"/>
<text x="696.5" y="1698.0" font-size="22" text-anchor="middle" transform="rotate(90 696.5 1698.0)">***</text>
<text x="484.5" y="1805.0" font-size="26.5" text-anchor="middle" transform="rotate(-90 484.5 1805.0)">Tumor Size (mm<tspan dy="-10" font-size="17">3</tspan><tspan dy="10">)</tspan></text>
<text x="987.0" y="1650.6" font-size="46">N</text>
<text x="1148.2" y="1644.7" font-size="24" text-anchor="middle">MB49</text>
<line x1="1030.4" y1="1666.9" x2="1030.4" y2="1965.4" stroke="#000" stroke-width="3.6"/>
<line x1="1019.9" y1="1717.0" x2="1030.4" y2="1717.0" stroke="#000" stroke-width="3.6"/>
<text x="1014.0" y="1727.0" font-size="28" text-anchor="end">1500</text>
<line x1="1019.9" y1="1799.7" x2="1030.4" y2="1799.7" stroke="#000" stroke-width="3.6"/>
<text x="1014.0" y="1809.7" font-size="28" text-anchor="end">1000</text>
<line x1="1019.9" y1="1881.0" x2="1030.4" y2="1881.0" stroke="#000" stroke-width="3.6"/>
<text x="1014.0" y="1891.0" font-size="28" text-anchor="end">500</text>
<line x1="1019.9" y1="1963.6" x2="1030.4" y2="1963.6" stroke="#000" stroke-width="3.6"/>
<text x="1014.0" y="1973.6" font-size="28" text-anchor="end">0</text>
<line x1="1019.9" y1="1963.6" x2="1058.5" y2="1963.6" stroke="#000" stroke-width="3.6"/>
<line x1="1080.0" y1="1963.6" x2="1340.0" y2="1963.6" stroke="#000" stroke-width="3.6"/>
<line x1="1058.5" y1="1954.6" x2="1058.5" y2="1973.6" stroke="#000" stroke-width="3.6"/>
<line x1="1080.0" y1="1954.6" x2="1080.0" y2="1973.6" stroke="#000" stroke-width="3.6"/>
<line x1="1030.4" y1="1963.6" x2="1030.4" y2="1980.6" stroke="#000" stroke-width="3.6"/>
<line x1="1050.8" y1="1963.6" x2="1050.8" y2="1980.6" stroke="#000" stroke-width="3.6"/>
<line x1="1102.7" y1="1963.6" x2="1102.7" y2="1980.6" stroke="#000" stroke-width="3.6"/>
<line x1="1162.3" y1="1963.6" x2="1162.3" y2="1980.6" stroke="#000" stroke-width="3.6"/>
<line x1="1221.4" y1="1963.6" x2="1221.4" y2="1980.6" stroke="#000" stroke-width="3.6"/>
<line x1="1280.4" y1="1963.6" x2="1280.4" y2="1980.6" stroke="#000" stroke-width="3.6"/>
<line x1="1338.9" y1="1963.6" x2="1338.9" y2="1980.6" stroke="#000" stroke-width="3.6"/>
<text x="1030.4" y="2002.9" font-size="27" text-anchor="middle">0</text>
<text x="1102.7" y="2002.9" font-size="27" text-anchor="middle">10</text>
<text x="1222.7" y="2002.9" font-size="27" text-anchor="middle">20</text>
<text x="1338.3" y="2002.9" font-size="27" text-anchor="middle">30</text>
<text x="1205.0" y="2034.0" font-size="27" text-anchor="middle">Days</text>
<path d="M1079.0 1963.6 L1102.7 1951.9 L1126.4 1944.6 L1150.2 1936.5 L1173.9 1924.3 L1197.7 1902.6 L1221.4 1859.3 L1245.1 1837.6 L1268.9 1807.8 L1292.6 1765.8" fill="none" stroke="#e5747b" stroke-width="3.8" stroke-linejoin="round"/>
<line x1="1221.4" y1="1859.3" x2="1221.4" y2="1834.3" stroke="#e5747b" stroke-width="3"/>
<line x1="1216.4" y1="1835.5" x2="1226.4" y2="1835.5" stroke="#e5747b" stroke-width="3"/>
<line x1="1245.1" y1="1837.6" x2="1245.1" y2="1809.7" stroke="#e5747b" stroke-width="3"/>
<line x1="1240.1" y1="1810.9" x2="1250.1" y2="1810.9" stroke="#e5747b" stroke-width="3"/>
<line x1="1268.9" y1="1807.8" x2="1268.9" y2="1771.2" stroke="#e5747b" stroke-width="3"/>
<line x1="1263.9" y1="1772.4" x2="1273.9" y2="1772.4" stroke="#e5747b" stroke-width="3"/>
<line x1="1292.6" y1="1765.8" x2="1292.6" y2="1720.5" stroke="#e5747b" stroke-width="3"/>
<line x1="1287.6" y1="1721.7" x2="1297.6" y2="1721.7" stroke="#e5747b" stroke-width="3"/>
<polygon points="1072.5,1969.7 1085.5,1969.7 1079.0,1957.4" fill="#e5747b"/>
<polygon points="1096.2,1958.1 1109.2,1958.1 1102.7,1945.7" fill="#e5747b"/>
<polygon points="1119.9,1950.8 1132.9,1950.8 1126.4,1938.4" fill="#e5747b"/>
<polygon points="1143.7,1942.7 1156.7,1942.7 1150.2,1930.3" fill="#e5747b"/>
<polygon points="1167.4,1930.5 1180.4,1930.5 1173.9,1918.1" fill="#e5747b"/>
<polygon points="1191.2,1908.8 1204.2,1908.8 1197.7,1896.4" fill="#e5747b"/>
<polygon points="1214.9,1865.4 1227.9,1865.4 1221.4,1853.1" fill="#e5747b"/>
<polygon points="1238.6,1843.8 1251.6,1843.8 1245.1,1831.4" fill="#e5747b"/>
<polygon points="1262.4,1814.0 1275.4,1814.0 1268.9,1801.6" fill="#e5747b"/>
<polygon points="1286.1,1772.0 1299.1,1772.0 1292.6,1759.6" fill="#e5747b"/>
<path d="M1079.0 1963.6 L1102.7 1936.5 L1126.4 1936.5 L1150.2 1920.2 L1173.9 1908.0 L1197.7 1889.1 L1221.4 1874.2 L1245.1 1855.2 L1268.9 1795.6 L1292.6 1734.6" fill="none" stroke="#6a9fd6" stroke-width="3.8" stroke-linejoin="round"/>
<line x1="1268.9" y1="1795.6" x2="1268.9" y2="1771.2" stroke="#6a9fd6" stroke-width="3"/>
<line x1="1263.9" y1="1772.4" x2="1273.9" y2="1772.4" stroke="#6a9fd6" stroke-width="3"/>
<line x1="1292.6" y1="1734.6" x2="1292.6" y2="1709.7" stroke="#6a9fd6" stroke-width="3"/>
<line x1="1287.6" y1="1710.9" x2="1297.6" y2="1710.9" stroke="#6a9fd6" stroke-width="3"/>
<rect x="1073.2" y="1955.8" width="11.5" height="15.5" fill="#6a9fd6"/>
<rect x="1097.0" y="1928.7" width="11.5" height="15.5" fill="#6a9fd6"/>
<rect x="1120.7" y="1928.7" width="11.5" height="15.5" fill="#6a9fd6"/>
<rect x="1144.4" y="1912.5" width="11.5" height="15.5" fill="#6a9fd6"/>
<rect x="1168.2" y="1900.3" width="11.5" height="15.5" fill="#6a9fd6"/>
<rect x="1191.9" y="1881.3" width="11.5" height="15.5" fill="#6a9fd6"/>
<rect x="1215.7" y="1866.4" width="11.5" height="15.5" fill="#6a9fd6"/>
<rect x="1239.4" y="1847.4" width="11.5" height="15.5" fill="#6a9fd6"/>
<rect x="1263.1" y="1787.8" width="11.5" height="15.5" fill="#6a9fd6"/>
<rect x="1286.9" y="1726.9" width="11.5" height="15.5" fill="#6a9fd6"/>
<line x1="1041.2" y1="1673.1" x2="1064.8" y2="1673.1" stroke="#6a9fd6" stroke-width="3.8"/>
<rect x="1047.8" y="1667.3" width="10.5" height="11.6" fill="#6a9fd6"/>
<text x="1077.2" y="1681.8" font-size="24">CD+αCD8b</text>
<line x1="1041.2" y1="1710.2" x2="1064.8" y2="1710.2" stroke="#e5747b" stroke-width="3.8"/>
<polygon points="1047.5,1715.4 1058.5,1715.4 1053.0,1705.0" fill="#e5747b"/>
<text x="1077.2" y="1718.0" font-size="24">MRD+αCD8b</text>
<line x1="1231.4" y1="1662.8" x2="1231.4" y2="1713.0" stroke="#000" stroke-width="2.8"/>
<text x="1241.2" y="1692.6" font-size="24">ns</text>
<text x="943.0" y="1813.0" font-size="26.5" text-anchor="middle" transform="rotate(-90 943.0 1813.0)">Tumor Size (mm<tspan dy="-10" font-size="17">3</tspan><tspan dy="10">)</tspan></text>
<text x="1415.4" y="1650.9" font-size="46">O</text>
<text x="1526.2" y="1644.6" font-size="23">MB49-sh<tspan font-style="italic">Ddx58</tspan></text>
<line x1="1467.7" y1="1659.6" x2="1467.7" y2="1960.5" stroke="#000" stroke-width="3.6"/>
<line x1="1457.2" y1="1710.9" x2="1467.7" y2="1710.9" stroke="#000" stroke-width="3.6"/>
<text x="1449.9" y="1720.9" font-size="28" text-anchor="end">1500</text>
<line x1="1457.2" y1="1794.4" x2="1467.7" y2="1794.4" stroke="#000" stroke-width="3.6"/>
<text x="1449.9" y="1804.4" font-size="28" text-anchor="end">1000</text>
<line x1="1457.2" y1="1876.6" x2="1467.7" y2="1876.6" stroke="#000" stroke-width="3.6"/>
<text x="1449.9" y="1886.6" font-size="28" text-anchor="end">500</text>
<line x1="1457.2" y1="1958.7" x2="1467.7" y2="1958.7" stroke="#000" stroke-width="3.6"/>
<text x="1449.9" y="1968.7" font-size="28" text-anchor="end">0</text>
<line x1="1457.2" y1="1958.7" x2="1492.5" y2="1958.7" stroke="#000" stroke-width="3.6"/>
<line x1="1507.0" y1="1958.7" x2="1741.0" y2="1958.7" stroke="#000" stroke-width="3.6"/>
<line x1="1492.5" y1="1949.7" x2="1492.5" y2="1968.7" stroke="#000" stroke-width="3.6"/>
<line x1="1507.0" y1="1949.7" x2="1507.0" y2="1968.7" stroke="#000" stroke-width="3.6"/>
<line x1="1467.7" y1="1958.7" x2="1467.7" y2="1975.7" stroke="#000" stroke-width="3.6"/>
<line x1="1614.7" y1="1958.7" x2="1614.7" y2="1975.7" stroke="#000" stroke-width="3.6"/>
<line x1="1717.9" y1="1958.7" x2="1717.9" y2="1975.7" stroke="#000" stroke-width="3.6"/>
<text x="1468.6" y="2000.5" font-size="27" text-anchor="middle">0</text>
<text x="1516.1" y="2000.5" font-size="27" text-anchor="middle">10</text>
<text x="1616.1" y="2000.5" font-size="27" text-anchor="middle">20</text>
<text x="1721.3" y="2000.5" font-size="27" text-anchor="middle">30</text>
<text x="1618.4" y="2032.2" font-size="27" text-anchor="middle">Days</text>
<path d="M1511.5 1960.1 L1532.1 1949.5 L1552.8 1942.9 L1573.4 1932.8 L1594.1 1916.9 L1614.7 1896.7 L1635.3 1882.3 L1656.0 1863.6 L1676.6 1844.9 L1697.3 1814.6 L1717.9 1774.3" fill="none" stroke="#e5747b" stroke-width="3.8" stroke-linejoin="round"/>
<line x1="1614.7" y1="1896.7" x2="1614.7" y2="1878.0" stroke="#e5747b" stroke-width="3"/>
<line x1="1609.7" y1="1879.2" x2="1619.7" y2="1879.2" stroke="#e5747b" stroke-width="3"/>
<line x1="1676.6" y1="1844.9" x2="1676.6" y2="1817.5" stroke="#e5747b" stroke-width="3"/>
<line x1="1671.6" y1="1818.7" x2="1681.6" y2="1818.7" stroke="#e5747b" stroke-width="3"/>
<line x1="1697.3" y1="1814.6" x2="1697.3" y2="1784.4" stroke="#e5747b" stroke-width="3"/>
<line x1="1692.3" y1="1785.6" x2="1702.3" y2="1785.6" stroke="#e5747b" stroke-width="3"/>
<line x1="1717.9" y1="1774.3" x2="1717.9" y2="1741.1" stroke="#e5747b" stroke-width="3"/>
<line x1="1712.9" y1="1742.3" x2="1722.9" y2="1742.3" stroke="#e5747b" stroke-width="3"/>
<polygon points="1506.0,1965.4 1517.0,1965.4 1511.5,1954.9" fill="#e5747b"/>
<polygon points="1526.6,1954.7 1537.6,1954.7 1532.1,1944.3" fill="#e5747b"/>
<polygon points="1547.3,1948.1 1558.3,1948.1 1552.8,1937.6" fill="#e5747b"/>
<polygon points="1567.9,1938.0 1578.9,1938.0 1573.4,1927.5" fill="#e5747b"/>
<polygon points="1588.6,1922.1 1599.6,1922.1 1594.1,1911.7" fill="#e5747b"/>
<polygon points="1609.2,1902.0 1620.2,1902.0 1614.7,1891.5" fill="#e5747b"/>
<polygon points="1629.8,1887.6 1640.8,1887.6 1635.3,1877.1" fill="#e5747b"/>
<polygon points="1650.5,1868.8 1661.5,1868.8 1656.0,1858.4" fill="#e5747b"/>
<polygon points="1671.1,1850.1 1682.1,1850.1 1676.6,1839.6" fill="#e5747b"/>
<polygon points="1691.8,1819.8 1702.8,1819.8 1697.3,1809.4" fill="#e5747b"/>
<polygon points="1712.4,1779.5 1723.4,1779.5 1717.9,1769.0" fill="#e5747b"/>
<path d="M1511.5 1960.1 L1532.1 1942.9 L1552.8 1928.4 L1573.4 1911.2 L1594.1 1901.1 L1614.7 1888.1 L1635.3 1860.1 L1656.0 1840.5 L1676.6 1808.3 L1697.3 1767.1 L1717.9 1714.3" fill="none" stroke="#6a9fd6" stroke-width="3.8" stroke-linejoin="round"/>
<line x1="1532.1" y1="1942.9" x2="1532.1" y2="1937.1" stroke="#6a9fd6" stroke-width="3"/>
<line x1="1527.1" y1="1938.3" x2="1537.1" y2="1938.3" stroke="#6a9fd6" stroke-width="3"/>
<line x1="1552.8" y1="1928.4" x2="1552.8" y2="1919.8" stroke="#6a9fd6" stroke-width="3"/>
<line x1="1547.8" y1="1921.0" x2="1557.8" y2="1921.0" stroke="#6a9fd6" stroke-width="3"/>
<line x1="1573.4" y1="1911.2" x2="1573.4" y2="1898.2" stroke="#6a9fd6" stroke-width="3"/>
<line x1="1568.4" y1="1899.4" x2="1578.4" y2="1899.4" stroke="#6a9fd6" stroke-width="3"/>
<line x1="1594.1" y1="1901.1" x2="1594.1" y2="1885.2" stroke="#6a9fd6" stroke-width="3"/>
<line x1="1589.1" y1="1886.4" x2="1599.1" y2="1886.4" stroke="#6a9fd6" stroke-width="3"/>
<line x1="1614.7" y1="1888.1" x2="1614.7" y2="1875.1" stroke="#6a9fd6" stroke-width="3"/>
<line x1="1609.7" y1="1876.3" x2="1619.7" y2="1876.3" stroke="#6a9fd6" stroke-width="3"/>
<line x1="1635.3" y1="1860.1" x2="1635.3" y2="1839.1" stroke="#6a9fd6" stroke-width="3"/>
<line x1="1630.3" y1="1840.3" x2="1640.3" y2="1840.3" stroke="#6a9fd6" stroke-width="3"/>
<line x1="1656.0" y1="1840.5" x2="1656.0" y2="1816.1" stroke="#6a9fd6" stroke-width="3"/>
<line x1="1651.0" y1="1817.3" x2="1661.0" y2="1817.3" stroke="#6a9fd6" stroke-width="3"/>
<line x1="1676.6" y1="1808.3" x2="1676.6" y2="1778.6" stroke="#6a9fd6" stroke-width="3"/>
<line x1="1671.6" y1="1779.8" x2="1681.6" y2="1779.8" stroke="#6a9fd6" stroke-width="3"/>
<line x1="1697.3" y1="1767.1" x2="1697.3" y2="1731.0" stroke="#6a9fd6" stroke-width="3"/>
<line x1="1692.3" y1="1732.2" x2="1702.3" y2="1732.2" stroke="#6a9fd6" stroke-width="3"/>
<line x1="1717.9" y1="1714.3" x2="1717.9" y2="1667.6" stroke="#6a9fd6" stroke-width="3"/>
<line x1="1712.9" y1="1668.8" x2="1722.9" y2="1668.8" stroke="#6a9fd6" stroke-width="3"/>
<rect x="1506.0" y="1952.7" width="11.0" height="14.9" fill="#6a9fd6"/>
<rect x="1526.6" y="1935.4" width="11.0" height="14.9" fill="#6a9fd6"/>
<rect x="1547.3" y="1921.0" width="11.0" height="14.9" fill="#6a9fd6"/>
<rect x="1567.9" y="1903.7" width="11.0" height="14.9" fill="#6a9fd6"/>
<rect x="1588.6" y="1893.6" width="11.0" height="14.9" fill="#6a9fd6"/>
<rect x="1609.2" y="1880.7" width="11.0" height="14.9" fill="#6a9fd6"/>
<rect x="1629.8" y="1852.7" width="11.0" height="14.9" fill="#6a9fd6"/>
<rect x="1650.5" y="1833.1" width="11.0" height="14.9" fill="#6a9fd6"/>
<rect x="1671.1" y="1800.8" width="11.0" height="14.9" fill="#6a9fd6"/>
<rect x="1691.8" y="1759.6" width="11.0" height="14.9" fill="#6a9fd6"/>
<rect x="1712.4" y="1706.9" width="11.0" height="14.9" fill="#6a9fd6"/>
<line x1="1488.8" y1="1678.6" x2="1517.6" y2="1678.6" stroke="#6a9fd6" stroke-width="3.8"/>
<rect x="1498.0" y="1672.8" width="10.5" height="11.6" fill="#6a9fd6"/>
<text x="1524.2" y="1686.4" font-size="24">CD</text>
<line x1="1488.8" y1="1713.7" x2="1517.6" y2="1713.7" stroke="#e5747b" stroke-width="3.8"/>
<polygon points="1497.7,1718.9 1508.7,1718.9 1503.2,1708.5" fill="#e5747b"/>
<text x="1524.2" y="1721.8" font-size="24">MRD</text>
<line x1="1586.7" y1="1667.6" x2="1586.7" y2="1719.0" stroke="#000" stroke-width="2.8"/>
<text x="1594.0" y="1697.9" font-size="24">ns</text>
<text x="1381.0" y="1808.8" font-size="26.5" text-anchor="middle" transform="rotate(-90 1381.0 1808.8)">Tumor Size (mm<tspan dy="-10" font-size="17">3</tspan><tspan dy="10">)</tspan></text>
<text x="9.5" y="2078.0" font-size="46">P</text>
<text x="224.3" y="2169.5" font-size="24" text-anchor="middle">T24</text>
<line x1="164.0" y1="2180.9" x2="284.5" y2="2180.9" stroke="#000" stroke-width="2.4"/>
<text x="180.2" y="2204.7" font-size="23.5" text-anchor="middle">NM</text>
<text x="258.2" y="2204.7" font-size="23.5" text-anchor="middle">MFM</text>
<g clip-path="url(#c28)"><rect x="135.5" y="2217.5" width="167.9" height="36.0" fill="url(#g28)"/><rect x="149.0" y="2220.5" width="64.0" height="31.0" rx="12.4" fill="#202020" fill-opacity="0.30" filter="url(#b4)"/><rect x="225.0" y="2219.0" width="66.0" height="30.0" rx="12.0" fill="#202020" fill-opacity="0.30" filter="url(#b4)"/><rect x="149.0" y="2226.5" width="64.0" height="19.0" rx="9.5" fill="#050505" fill-opacity="1" filter="url(#b3)"/><rect x="225.0" y="2225.0" width="66.0" height="18.0" rx="9.0" fill="#050505" fill-opacity="1" filter="url(#b3)"/></g><rect x="135.5" y="2217.5" width="167.9" height="36.0" fill="none" stroke="#000" stroke-width="2.2"/>
<g clip-path="url(#c29)"><rect x="135.5" y="2277.0" width="167.9" height="36.0" fill="url(#g29)"/><rect x="147.0" y="2280.5" width="64.0" height="30.0" rx="12.0" fill="#202020" fill-opacity="0.30" filter="url(#b4)"/><rect x="222.0" y="2281.5" width="64.0" height="28.0" rx="11.2" fill="#202020" fill-opacity="0.30" filter="url(#b4)"/><rect x="147.0" y="2286.5" width="64.0" height="18.0" rx="9.0" fill="#050505" fill-opacity="1" filter="url(#b3)"/><rect x="222.0" y="2287.5" width="64.0" height="16.0" rx="8.0" fill="#050505" fill-opacity="1" filter="url(#b3)"/></g><rect x="135.5" y="2277.0" width="167.9" height="36.0" fill="none" stroke="#000" stroke-width="2.2"/>
<g clip-path="url(#c30)"><rect x="135.5" y="2337.5" width="167.9" height="35.2" fill="url(#g30)"/><rect x="153.0" y="2339.0" width="60.0" height="32.0" rx="12.8" fill="#202020" fill-opacity="0.30" filter="url(#b4)"/><rect x="230.0" y="2339.0" width="60.0" height="32.0" rx="12.8" fill="#202020" fill-opacity="0.30" filter="url(#b4)"/><rect x="153.0" y="2345.0" width="60.0" height="20.0" rx="10.0" fill="#050505" fill-opacity="1" filter="url(#b3)"/><rect x="230.0" y="2345.0" width="60.0" height="20.0" rx="10.0" fill="#050505" fill-opacity="1" filter="url(#b3)"/></g><rect x="135.5" y="2337.5" width="167.9" height="35.2" fill="none" stroke="#000" stroke-width="2.2"/>
<g clip-path="url(#c31)"><rect x="135.5" y="2397.0" width="167.9" height="35.9" fill="url(#g31)"/><rect x="149.0" y="2399.0" width="64.0" height="32.0" rx="12.8" fill="#202020" fill-opacity="0.30" filter="url(#b4)"/><rect x="230.0" y="2397.5" width="64.0" height="33.0" rx="13.2" fill="#202020" fill-opacity="0.30" filter="url(#b4)"/><rect x="149.0" y="2405.0" width="64.0" height="20.0" rx="10.0" fill="#050505" fill-opacity="1" filter="url(#b3)"/><rect x="230.0" y="2403.5" width="64.0" height="21.0" rx="10.5" fill="#050505" fill-opacity="1" filter="url(#b3)"/></g><rect x="135.5" y="2397.0" width="167.9" height="35.9" fill="none" stroke="#000" stroke-width="2.2"/>
<text x="126.0" y="2244.5" font-size="24" text-anchor="end">H3</text>
<line x1="307.0" y1="2235.5" x2="318.4" y2="2235.5" stroke="#000" stroke-width="2.6"/>
<text x="320.5" y="2244.0" font-size="24.5">15</text>
<text x="126.0" y="2304.0" font-size="24" text-anchor="end">H3K4me3</text>
<line x1="307.0" y1="2295.0" x2="318.4" y2="2295.0" stroke="#000" stroke-width="2.6"/>
<text x="320.5" y="2303.5" font-size="24.5">15</text>
<text x="126.0" y="2364.1" font-size="24" text-anchor="end">H3K9me3</text>
<line x1="307.0" y1="2355.1" x2="318.4" y2="2355.1" stroke="#000" stroke-width="2.6"/>
<text x="320.5" y="2363.6" font-size="24.5">15</text>
<text x="126.0" y="2423.9" font-size="24" text-anchor="end">H3K27me3</text>
<line x1="307.0" y1="2414.9" x2="318.4" y2="2414.9" stroke="#000" stroke-width="2.6"/>
<text x="320.5" y="2423.4" font-size="24.5">15</text>
<text x="398.0" y="2079.0" font-size="46">Q</text>
<text x="587.0" y="2071.2" font-size="24" text-anchor="middle">T24</text>
<line x1="497.7" y1="2088.2" x2="679.0" y2="2088.2" stroke="#000" stroke-width="2.4"/>
<text x="496.3" y="2116.5" font-size="24" text-anchor="middle">400</text>
<text x="587.0" y="2116.5" font-size="24" text-anchor="middle">200</text>
<text x="671.4" y="2116.5" font-size="24" text-anchor="middle">100</text>
<text x="722.9" y="2116.5" font-size="24">DNA(ng)</text>
<g clip-path="url(#cq1)">
<rect x="459.0" y="2130.0" width="258.2" height="170.6" fill="#e1e2df"/>
<ellipse cx="560.0" cy="2215.0" rx="60.0" ry="18.0" fill="#ebebe9" fill-opacity="0.7" filter="url(#b8)"/>
<ellipse cx="640.0" cy="2200.0" rx="30.0" ry="12.0" fill="#d6d7d4" fill-opacity="0.6" filter="url(#b8)"/>
<circle cx="496.6" cy="2161.7" r="31.8" fill="#e7e8e5" stroke="#efefed" stroke-width="1.4"/>
<circle cx="496.6" cy="2161.7" r="33.4" fill="none" stroke="#d6d7d4" stroke-width="0.8"/>
<circle cx="582.3" cy="2163.3" r="31.8" fill="#e7e8e5" stroke="#efefed" stroke-width="1.4"/>
<circle cx="582.3" cy="2163.3" r="33.4" fill="none" stroke="#d6d7d4" stroke-width="0.8"/>
<circle cx="671.2" cy="2161.7" r="31.8" fill="#e7e8e5" stroke="#efefed" stroke-width="1.4"/>
<circle cx="671.2" cy="2161.7" r="33.4" fill="none" stroke="#d6d7d4" stroke-width="0.8"/>
<circle cx="499" cy="2264.5" r="32.6" fill="#e7e8e5" stroke="#efefed" stroke-width="1.4"/>
<circle cx="499" cy="2264.5" r="34.2" fill="none" stroke="#d6d7d4" stroke-width="0.8"/>
<circle cx="583.9" cy="2267" r="32.6" fill="#e7e8e5" stroke="#efefed" stroke-width="1.4"/>
<circle cx="583.9" cy="2267" r="34.2" fill="none" stroke="#d6d7d4" stroke-width="0.8"/>
<circle cx="677" cy="2267" r="32.6" fill="#e7e8e5" stroke="#efefed" stroke-width="1.4"/>
<circle cx="677" cy="2267" r="34.2" fill="none" stroke="#d6d7d4" stroke-width="0.8"/>
<ellipse cx="495.0" cy="2163.7" rx="8.2" ry="9.0" fill="#000" fill-opacity="1" filter="url(#b1)"/>
<ellipse cx="580.7" cy="2167.0" rx="8.0" ry="7.0" fill="#000" fill-opacity="1" filter="url(#b1)"/>
<ellipse cx="667.0" cy="2164.0" rx="11.5" ry="8.0" fill="#4a4a4a" fill-opacity="0.85" filter="url(#b2)"/>
<ellipse cx="497.0" cy="2265.7" rx="7.8" ry="8.0" fill="#000" fill-opacity="1" filter="url(#b1)"/>
<ellipse cx="583.0" cy="2269.4" rx="9.0" ry="7.0" fill="#050505" fill-opacity="1" filter="url(#b1)"/>
<ellipse cx="671.0" cy="2269.4" rx="8.5" ry="6.5" fill="#666" fill-opacity="0.8" filter="url(#b2)"/>
</g><g clip-path="url(#cq2)">
<rect x="459.0" y="2309.0" width="258.2" height="184.2" fill="#96c8cf"/>
<circle cx="492.0" cy="2352.0" r="33.0" fill="none" stroke="#6fa6b0" stroke-width="1.6"/>
<circle cx="492.8" cy="2352.8" r="31.0" fill="none" stroke="#a6d2d8" stroke-width="1"/>
<circle cx="580.0" cy="2352.0" r="33.0" fill="none" stroke="#6fa6b0" stroke-width="1.6"/>
<circle cx="580.8" cy="2352.8" r="31.0" fill="none" stroke="#a6d2d8" stroke-width="1"/>
<circle cx="668.0" cy="2352.0" r="33.0" fill="none" stroke="#6fa6b0" stroke-width="1.6"/>
<circle cx="668.8" cy="2352.8" r="31.0" fill="none" stroke="#a6d2d8" stroke-width="1"/>
<circle cx="500.0" cy="2455.0" r="33.0" fill="none" stroke="#79b0b9" stroke-width="1.4"/>
<circle cx="500.8" cy="2455.8" r="31.0" fill="none" stroke="#a6d2d8" stroke-width="1"/>
<circle cx="588.0" cy="2455.0" r="33.0" fill="none" stroke="#79b0b9" stroke-width="1.4"/>
<circle cx="588.8" cy="2455.8" r="31.0" fill="none" stroke="#a6d2d8" stroke-width="1"/>
<circle cx="675.0" cy="2455.0" r="33.0" fill="none" stroke="#79b0b9" stroke-width="1.4"/>
<circle cx="675.8" cy="2455.8" r="31.0" fill="none" stroke="#a6d2d8" stroke-width="1"/>
<ellipse cx="492.0" cy="2354.4" rx="9.0" ry="9.0" fill="#3555c0" fill-opacity="0.95" filter="url(#b1)"/>
<ellipse cx="579.9" cy="2354.4" rx="8.0" ry="7.0" fill="#3f63c4" fill-opacity="0.9" filter="url(#b1)"/>
<ellipse cx="666.3" cy="2353.0" rx="9.5" ry="6.5" fill="#6b95d0" fill-opacity="0.85" filter="url(#b1)"/>
<ellipse cx="499.0" cy="2455.0" rx="8.5" ry="8.5" fill="#2f4fc0" fill-opacity="0.95" filter="url(#b1)"/>
<ellipse cx="585.5" cy="2455.0" rx="8.0" ry="7.0" fill="#3a5cc2" fill-opacity="0.9" filter="url(#b1)"/>
<ellipse cx="673.3" cy="2455.0" rx="7.0" ry="6.5" fill="#6f9ad2" fill-opacity="0.85" filter="url(#b1)"/>
</g>
<text x="722.9" y="2167.5" font-size="24">NM</text>
<text x="722.9" y="2280.8" font-size="24">MFM</text>
<text x="722.9" y="2348.2" font-size="24">NM</text>
<text x="722.9" y="2462.0" font-size="24">MFM</text>
<text x="448.0" y="2200.0" font-size="23" text-anchor="middle" transform="rotate(-90 448.0 2200.0)">5-mC</text>
<text x="448.0" y="2408.2" font-size="24" text-anchor="middle" transform="rotate(-90 448.0 2408.2)">MB</text>
<text x="850.4" y="2079.1" font-size="46">R</text>
<text x="1009.1" y="2071.2" font-size="24" text-anchor="middle">T24</text>
<line x1="920.2" y1="2088.2" x2="1100.6" y2="2088.2" stroke="#000" stroke-width="2.4"/>
<text x="918.7" y="2116.5" font-size="24" text-anchor="middle">400</text>
<text x="1008.5" y="2116.5" font-size="24" text-anchor="middle">200</text>
<text x="1093.0" y="2116.5" font-size="24" text-anchor="middle">100</text>
<text x="1133.2" y="2116.5" font-size="24">RNA(ng)</text>
<g clip-path="url(#cr1)">
<rect x="890.4" y="2127.2" width="236.3" height="181.3" fill="#ececec"/>
<ellipse cx="1000.0" cy="2210.0" rx="80.0" ry="16.0" fill="#e2e2e2" fill-opacity="0.7" filter="url(#b8)"/>
<circle cx="922.0" cy="2158.0" r="31.0" fill="none" stroke="#dcdcdc" stroke-width="1.2"/>
<circle cx="922.8" cy="2158.8" r="29.0" fill="none" stroke="#f4f4f4" stroke-width="1"/>
<circle cx="1008.0" cy="2158.0" r="31.0" fill="none" stroke="#dcdcdc" stroke-width="1.2"/>
<circle cx="1008.8" cy="2158.8" r="29.0" fill="none" stroke="#f4f4f4" stroke-width="1"/>
<circle cx="1090.0" cy="2158.0" r="31.0" fill="none" stroke="#dcdcdc" stroke-width="1.2"/>
<circle cx="1090.8" cy="2158.8" r="29.0" fill="none" stroke="#f4f4f4" stroke-width="1"/>
<circle cx="922.0" cy="2272.0" r="31.0" fill="none" stroke="#dcdcdc" stroke-width="1.2"/>
<circle cx="922.8" cy="2272.8" r="29.0" fill="none" stroke="#f4f4f4" stroke-width="1"/>
<circle cx="1012.0" cy="2272.0" r="31.0" fill="none" stroke="#dcdcdc" stroke-width="1.2"/>
<circle cx="1012.8" cy="2272.8" r="29.0" fill="none" stroke="#f4f4f4" stroke-width="1"/>
<circle cx="1090.0" cy="2272.0" r="31.0" fill="none" stroke="#dcdcdc" stroke-width="1.2"/>
<circle cx="1090.8" cy="2272.8" r="29.0" fill="none" stroke="#f4f4f4" stroke-width="1"/>
<ellipse cx="922.7" cy="2161.8" rx="8.0" ry="8.5" fill="#050505" fill-opacity="1" filter="url(#b1)"/>
<ellipse cx="1009.4" cy="2161.8" rx="7.5" ry="8.0" fill="#050505" fill-opacity="1" filter="url(#b1)"/>
<ellipse cx="1091.5" cy="2161.8" rx="7.0" ry="7.0" fill="#666" fill-opacity="0.85" filter="url(#b1)"/>
<ellipse cx="922.7" cy="2273.7" rx="7.5" ry="8.0" fill="#444" fill-opacity="0.9" filter="url(#b1)"/>
<ellipse cx="1013.4" cy="2273.7" rx="7.5" ry="8.0" fill="#444" fill-opacity="0.9" filter="url(#b1)"/>
<ellipse cx="1091.5" cy="2280.0" rx="7.0" ry="7.0" fill="#7a7a7a" fill-opacity="0.85" filter="url(#b1)"/>
</g><g clip-path="url(#cr2)">
<rect x="890.4" y="2317.0" width="236.3" height="172.0" fill="#79aab4"/>
<circle cx="924.0" cy="2354.0" r="32.0" fill="none" stroke="#5f929c" stroke-width="1.6"/>
<circle cx="924.8" cy="2354.8" r="30.0" fill="none" stroke="#96c4cc" stroke-width="1"/>
<circle cx="1010.0" cy="2354.0" r="32.0" fill="none" stroke="#5f929c" stroke-width="1.6"/>
<circle cx="1010.8" cy="2354.8" r="30.0" fill="none" stroke="#96c4cc" stroke-width="1"/>
<circle cx="1087.0" cy="2354.0" r="32.0" fill="none" stroke="#5f929c" stroke-width="1.6"/>
<circle cx="1087.8" cy="2354.8" r="30.0" fill="none" stroke="#96c4cc" stroke-width="1"/>
<circle cx="928.0" cy="2462.0" r="32.0" fill="none" stroke="#6a9ca6" stroke-width="1.4"/>
<circle cx="928.8" cy="2462.8" r="30.0" fill="none" stroke="#96c4cc" stroke-width="1"/>
<circle cx="1016.0" cy="2462.0" r="32.0" fill="none" stroke="#6a9ca6" stroke-width="1.4"/>
<circle cx="1016.8" cy="2462.8" r="30.0" fill="none" stroke="#96c4cc" stroke-width="1"/>
<circle cx="1093.0" cy="2462.0" r="32.0" fill="none" stroke="#6a9ca6" stroke-width="1.4"/>
<circle cx="1093.8" cy="2462.8" r="30.0" fill="none" stroke="#96c4cc" stroke-width="1"/>
<ellipse cx="924.4" cy="2354.4" rx="7.0" ry="7.5" fill="#3050b8" fill-opacity="0.9" filter="url(#b1)"/>
<ellipse cx="1008.5" cy="2354.4" rx="6.5" ry="6.5" fill="#3656b8" fill-opacity="0.85" filter="url(#b1)"/>
<ellipse cx="1086.4" cy="2352.0" rx="7.0" ry="6.5" fill="#4a72bc" fill-opacity="0.8" filter="url(#b1)"/>
<ellipse cx="930.0" cy="2462.0" rx="7.5" ry="7.5" fill="#3050b8" fill-opacity="0.85" filter="url(#b1)"/>
<ellipse cx="1017.6" cy="2461.0" rx="7.0" ry="7.0" fill="#3656b8" fill-opacity="0.85" filter="url(#b1)"/>
<ellipse cx="1093.0" cy="2461.0" rx="7.0" ry="7.0" fill="#4870bc" fill-opacity="0.8" filter="url(#b1)"/>
</g>
<text x="1134.6" y="2161.8" font-size="24">NM</text>
<text x="1136.0" y="2287.3" font-size="24">MFM</text>
<text x="1134.6" y="2361.5" font-size="24">NM</text>
<text x="1136.0" y="2467.7" font-size="24">MFM</text>
<text x="876.0" y="2207.0" font-size="24" text-anchor="middle" transform="rotate(-90 876.0 2207.0)">m<tspan dy="-8" font-size="15">6</tspan><tspan dy="8">A</tspan></text>
<text x="876.0" y="2408.2" font-size="24" text-anchor="middle" transform="rotate(-90 876.0 2408.2)">MB</text>
<text x="1251.9" y="2078.5" font-size="46">S</text>
<path d="M1320.9,2153.3 L1318.6,2156.0 L1316.4,2158.9 L1314.3,2161.9 L1312.4,2165.1 L1310.6,2168.4 L1309.0,2171.9 L1307.6,2175.5 L1306.4,2179.2 L1305.3,2183.1 L1304.4,2187.1 L1303.6,2191.2 L1303.0,2195.4 L1302.6,2199.7 L1302.4,2204.2 L1302.3,2208.7 L1302.4,2213.4 L1302.7,2218.1 L1303.2,2222.9 L1303.8,2227.8 L1304.6,2232.7 L1305.5,2237.7 L1306.7,2242.8 L1308.0,2247.9 L1309.4,2253.1 L1311.1,2258.3 L1312.9,2263.6 L1314.8,2268.8 L1316.9,2274.1 L1319.2,2279.4 L1321.6,2284.7 L1324.1,2290.1 L1326.8,2295.4 L1329.7,2300.7 L1332.7,2305.9 L1335.8,2311.2 L1339.1,2316.4 L1342.4,2321.6 L1345.9,2326.7 L1349.6,2331.8 L1353.3,2336.8 L1357.2,2341.8 L1361.1,2346.7 L1365.2,2351.5 L1369.3,2356.3 L1373.6,2360.9 L1377.9,2365.5 L1382.3,2370.0 L1386.8,2374.3 L1391.3,2378.6 L1395.9,2382.7 L1400.6,2386.8 L1405.3,2390.7 L1410.1,2394.4 L1414.9,2398.1 L1419.8,2401.6 L1424.6,2404.9 L1429.5,2408.2 L1434.5,2411.2 L1439.4,2414.1 L1444.3,2416.9 L1449.3,2419.5 L1454.2,2421.9 L1459.1,2424.2 L1464.0,2426.3 L1468.9,2428.2 L1473.7,2430.0 L1478.5,2431.5 L1483.3,2432.9 L1488.0,2434.2 L1492.6,2435.2 L1497.2,2436.1 L1501.8,2436.7 L1506.2,2437.2 L1510.6,2437.5 L1514.9,2437.6 L1519.2,2437.6 L1523.3,2437.3 L1527.3,2436.9 L1531.2,2436.2 L1535.1,2435.4 L1538.8,2434.4 L1542.4,2433.3 L1545.8,2431.9 L1549.2,2430.4 L1552.4,2428.7 L1555.5,2426.8 L1558.4,2424.7 L1561.3,2422.5 L1563.9,2420.1 L1566.5,2417.6 L1568.8,2414.9 L1571.0,2412.0 L1573.1,2409.0 L1575.0,2405.8 L1576.8,2402.5 L1578.4,2399.0 L1579.8,2395.4 L1581.0,2391.6 L1582.1,2387.8 L1583.0,2383.8 L1583.8,2379.7 L1584.4,2375.4 L1584.8,2371.1 L1585.0,2366.7 L1585.1,2362.1 L1585.0,2357.5 L1584.7,2352.8 L1584.2,2347.9 L1583.6,2343.1 L1582.8,2338.1 L1581.9,2333.1 L1580.7,2328.0 L1579.4,2322.9 L1578.0,2317.7 L1576.3,2312.5 L1574.5,2307.3 L1572.6,2302.0 L1570.5,2296.7 L1568.2,2291.4 L1565.8,2286.1 L1563.3,2280.8 L1560.6,2275.5 L1557.7,2270.2 L1554.7,2264.9 L1551.6,2259.7 L1548.3,2254.4 L1545.0,2249.3 L1541.5,2244.1 L1537.8,2239.0 L1534.1,2234.0 L1530.2,2229.0 L1526.3,2224.1 L1522.2,2219.3 L1518.1,2214.6 L1513.8,2209.9 L1509.5,2205.3 L1505.1,2200.9 L1500.6,2196.5 L1496.1,2192.2 L1491.5,2188.1 L1486.8,2184.1 L1482.1,2180.2 L1477.3,2176.4 L1472.5,2172.8 L1467.6,2169.3 L1462.8,2165.9 L1457.9,2162.7 L1452.9,2159.6 L1448.0,2156.7 L1443.1,2153.9 L1438.1,2151.3 L1433.2,2148.9 L1428.3,2146.6 L1423.4,2144.5 L1418.5,2142.6 L1413.7,2140.9 L1408.9,2139.3 L1404.1,2137.9 L1399.4,2136.7 L1394.8,2135.6 L1390.2,2134.8 L1385.6,2134.1 L1381.2,2133.6 L1376.8,2133.3 L1372.5,2133.2 L1368.2,2133.3 L1364.1,2133.5 L1360.1,2134.0 L1356.2,2134.6 L1352.3,2135.4 L1348.6,2136.4 L1345.0,2137.6 L1341.6,2138.9 L1338.2,2140.4 L1335.0,2142.2 L1331.9,2144.0 L1329.0,2146.1 L1326.1,2148.3 L1323.5,2150.7 L1320.9,2153.3Z" fill="#e28b8e"/>
<path d="M1395.3,2099.9 L1393.6,2101.9 L1392.0,2104.1 L1390.5,2106.5 L1389.2,2109.0 L1388.1,2111.7 L1387.1,2114.5 L1386.3,2117.5 L1385.6,2120.6 L1385.1,2123.8 L1384.8,2127.2 L1384.6,2130.7 L1384.6,2134.3 L1384.7,2138.1 L1385.0,2141.9 L1385.5,2145.9 L1386.1,2150.0 L1386.9,2154.1 L1387.9,2158.4 L1389.0,2162.7 L1390.2,2167.2 L1391.7,2171.7 L1393.3,2176.3 L1395.0,2181.0 L1396.9,2185.7 L1398.9,2190.5 L1401.1,2195.3 L1403.4,2200.2 L1405.8,2205.1 L1408.4,2210.0 L1411.2,2215.0 L1414.0,2220.0 L1417.0,2225.0 L1420.1,2230.0 L1423.3,2235.0 L1426.7,2240.0 L1430.1,2245.0 L1433.7,2250.0 L1437.4,2255.0 L1441.1,2259.9 L1445.0,2264.8 L1448.9,2269.7 L1452.9,2274.5 L1457.1,2279.3 L1461.2,2284.0 L1465.5,2288.7 L1469.8,2293.2 L1474.2,2297.7 L1478.6,2302.2 L1483.1,2306.5 L1487.6,2310.7 L1492.2,2314.9 L1496.8,2318.9 L1501.4,2322.9 L1506.0,2326.7 L1510.6,2330.4 L1515.3,2334.0 L1520.0,2337.5 L1524.6,2340.9 L1529.3,2344.1 L1533.9,2347.2 L1538.5,2350.1 L1543.1,2352.9 L1547.7,2355.5 L1552.2,2358.0 L1556.7,2360.4 L1561.1,2362.5 L1565.5,2364.6 L1569.9,2366.4 L1574.1,2368.1 L1578.3,2369.7 L1582.4,2371.0 L1586.5,2372.2 L1590.4,2373.3 L1594.3,2374.1 L1598.1,2374.8 L1601.8,2375.3 L1605.4,2375.6 L1608.8,2375.8 L1612.2,2375.8 L1615.5,2375.6 L1618.6,2375.2 L1621.6,2374.7 L1624.5,2374.0 L1627.2,2373.1 L1629.9,2372.0 L1632.3,2370.8 L1634.7,2369.4 L1636.9,2367.8 L1638.9,2366.1 L1640.9,2364.2 L1642.6,2362.1 L1644.2,2359.9 L1645.7,2357.5 L1647.0,2355.0 L1648.1,2352.3 L1649.1,2349.5 L1649.9,2346.6 L1650.6,2343.4 L1651.1,2340.2 L1651.4,2336.8 L1651.6,2333.3 L1651.6,2329.7 L1651.5,2326.0 L1651.2,2322.1 L1650.7,2318.2 L1650.1,2314.1 L1649.3,2309.9 L1648.3,2305.6 L1647.2,2301.3 L1646.0,2296.9 L1644.5,2292.3 L1642.9,2287.7 L1641.2,2283.1 L1639.3,2278.4 L1637.3,2273.6 L1635.1,2268.8 L1632.8,2263.9 L1630.4,2259.0 L1627.8,2254.0 L1625.0,2249.0 L1622.2,2244.1 L1619.2,2239.0 L1616.1,2234.0 L1612.9,2229.0 L1609.5,2224.0 L1606.1,2219.0 L1602.5,2214.0 L1598.8,2209.0 L1595.1,2204.1 L1591.2,2199.2 L1587.3,2194.3 L1583.3,2189.5 L1579.1,2184.7 L1575.0,2180.0 L1570.7,2175.4 L1566.4,2170.8 L1562.0,2166.3 L1557.6,2161.9 L1553.1,2157.5 L1548.6,2153.3 L1544.0,2149.1 L1539.4,2145.1 L1534.8,2141.1 L1530.2,2137.3 L1525.6,2133.6 L1520.9,2130.0 L1516.2,2126.5 L1511.6,2123.2 L1506.9,2120.0 L1502.3,2116.9 L1497.7,2114.0 L1493.1,2111.2 L1488.5,2108.5 L1484.0,2106.0 L1479.5,2103.7 L1475.1,2101.5 L1470.7,2099.5 L1466.3,2097.6 L1462.1,2095.9 L1457.9,2094.4 L1453.8,2093.0 L1449.7,2091.8 L1445.8,2090.8 L1441.9,2089.9 L1438.1,2089.2 L1434.4,2088.7 L1430.8,2088.4 L1427.4,2088.3 L1424.0,2088.3 L1420.7,2088.5 L1417.6,2088.8 L1414.6,2089.4 L1411.7,2090.1 L1409.0,2091.0 L1406.3,2092.0 L1403.9,2093.3 L1401.5,2094.7 L1399.3,2096.2 L1397.3,2098.0 L1395.3,2099.9Z" fill="#a0def0"/>
<path d="M1633.8,2107.4 L1631.9,2105.5 L1629.9,2103.8 L1627.7,2102.2 L1625.4,2100.7 L1622.9,2099.5 L1620.4,2098.4 L1617.7,2097.4 L1614.9,2096.6 L1611.9,2096.0 L1608.9,2095.6 L1605.7,2095.3 L1602.4,2095.1 L1599.1,2095.2 L1595.6,2095.4 L1592.0,2095.8 L1588.4,2096.3 L1584.6,2097.0 L1580.8,2097.9 L1576.9,2099.0 L1572.9,2100.2 L1568.9,2101.5 L1564.8,2103.0 L1560.7,2104.7 L1556.4,2106.6 L1552.2,2108.5 L1547.9,2110.7 L1543.6,2113.0 L1539.2,2115.4 L1534.8,2118.0 L1530.4,2120.7 L1526.0,2123.5 L1521.6,2126.5 L1517.1,2129.6 L1512.7,2132.8 L1508.2,2136.2 L1503.8,2139.6 L1499.4,2143.2 L1495.1,2146.9 L1490.7,2150.7 L1486.4,2154.6 L1482.1,2158.6 L1477.9,2162.7 L1473.7,2166.8 L1469.6,2171.1 L1465.5,2175.4 L1461.5,2179.8 L1457.5,2184.2 L1453.7,2188.7 L1449.9,2193.3 L1446.2,2197.9 L1442.6,2202.5 L1439.1,2207.2 L1435.6,2211.9 L1432.3,2216.7 L1429.1,2221.4 L1426.0,2226.2 L1423.0,2231.0 L1420.1,2235.7 L1417.3,2240.5 L1414.7,2245.3 L1412.2,2250.0 L1409.8,2254.7 L1407.5,2259.4 L1405.4,2264.1 L1403.4,2268.7 L1401.6,2273.3 L1399.9,2277.8 L1398.3,2282.3 L1396.9,2286.7 L1395.6,2291.1 L1394.5,2295.3 L1393.5,2299.5 L1392.7,2303.7 L1392.1,2307.7 L1391.6,2311.6 L1391.2,2315.5 L1391.0,2319.2 L1391.0,2322.8 L1391.1,2326.3 L1391.3,2329.7 L1391.8,2333.0 L1392.3,2336.2 L1393.1,2339.2 L1394.0,2342.1 L1395.0,2344.9 L1396.2,2347.5 L1397.5,2350.0 L1399.0,2352.4 L1400.6,2354.6 L1402.4,2356.6 L1404.3,2358.5 L1406.3,2360.3 L1408.5,2361.9 L1410.8,2363.3 L1413.3,2364.6 L1415.8,2365.7 L1418.5,2366.6 L1421.3,2367.4 L1424.3,2368.0 L1427.3,2368.5 L1430.5,2368.8 L1433.8,2368.9 L1437.1,2368.8 L1440.6,2368.6 L1444.2,2368.3 L1447.8,2367.7 L1451.6,2367.0 L1455.4,2366.1 L1459.3,2365.1 L1463.3,2363.9 L1467.3,2362.5 L1471.4,2361.0 L1475.5,2359.3 L1479.8,2357.5 L1484.0,2355.5 L1488.3,2353.4 L1492.6,2351.1 L1497.0,2348.7 L1501.4,2346.1 L1505.8,2343.4 L1510.2,2340.5 L1514.6,2337.6 L1519.1,2334.4 L1523.5,2331.2 L1528.0,2327.9 L1532.4,2324.4 L1536.8,2320.8 L1541.1,2317.1 L1545.5,2313.3 L1549.8,2309.4 L1554.1,2305.4 L1558.3,2301.4 L1562.5,2297.2 L1566.6,2293.0 L1570.7,2288.7 L1574.7,2284.3 L1578.7,2279.8 L1582.5,2275.3 L1586.3,2270.8 L1590.0,2266.2 L1593.6,2261.5 L1597.1,2256.8 L1600.6,2252.1 L1603.9,2247.4 L1607.1,2242.6 L1610.2,2237.9 L1613.2,2233.1 L1616.1,2228.3 L1618.9,2223.5 L1621.5,2218.8 L1624.0,2214.0 L1626.4,2209.3 L1628.7,2204.6 L1630.8,2199.9 L1632.8,2195.3 L1634.6,2190.7 L1636.3,2186.2 L1637.9,2181.7 L1639.3,2177.3 L1640.6,2173.0 L1641.7,2168.7 L1642.7,2164.5 L1643.5,2160.4 L1644.1,2156.4 L1644.6,2152.4 L1645.0,2148.6 L1645.2,2144.9 L1645.2,2141.2 L1645.1,2137.7 L1644.9,2134.3 L1644.4,2131.0 L1643.9,2127.9 L1643.1,2124.8 L1642.2,2121.9 L1641.2,2119.1 L1640.0,2116.5 L1638.7,2114.0 L1637.2,2111.7 L1635.6,2109.5 L1633.8,2107.4Z" fill="#a9a1cd"/>
<path d="M1715.3,2153.3 L1712.7,2150.7 L1710.1,2148.3 L1707.2,2146.1 L1704.3,2144.0 L1701.2,2142.2 L1698.0,2140.4 L1694.6,2138.9 L1691.2,2137.6 L1687.6,2136.4 L1683.9,2135.4 L1680.0,2134.6 L1676.1,2134.0 L1672.1,2133.5 L1668.0,2133.3 L1663.7,2133.2 L1659.4,2133.3 L1655.0,2133.6 L1650.6,2134.1 L1646.0,2134.8 L1641.4,2135.6 L1636.8,2136.7 L1632.1,2137.9 L1627.3,2139.3 L1622.5,2140.9 L1617.7,2142.6 L1612.8,2144.5 L1607.9,2146.6 L1603.0,2148.9 L1598.1,2151.3 L1593.1,2153.9 L1588.2,2156.7 L1583.3,2159.6 L1578.3,2162.7 L1573.4,2165.9 L1568.6,2169.3 L1563.7,2172.8 L1558.9,2176.4 L1554.1,2180.2 L1549.4,2184.1 L1544.7,2188.1 L1540.1,2192.2 L1535.6,2196.5 L1531.1,2200.9 L1526.7,2205.3 L1522.4,2209.9 L1518.1,2214.6 L1514.0,2219.3 L1509.9,2224.1 L1506.0,2229.0 L1502.1,2234.0 L1498.4,2239.0 L1494.7,2244.1 L1491.2,2249.3 L1487.9,2254.4 L1484.6,2259.7 L1481.5,2264.9 L1478.5,2270.2 L1475.6,2275.5 L1472.9,2280.8 L1470.4,2286.1 L1468.0,2291.4 L1465.7,2296.7 L1463.6,2302.0 L1461.7,2307.3 L1459.9,2312.5 L1458.2,2317.7 L1456.8,2322.9 L1455.5,2328.0 L1454.3,2333.1 L1453.4,2338.1 L1452.6,2343.1 L1452.0,2347.9 L1451.5,2352.8 L1451.2,2357.5 L1451.1,2362.1 L1451.2,2366.7 L1451.4,2371.1 L1451.8,2375.4 L1452.4,2379.7 L1453.2,2383.8 L1454.1,2387.8 L1455.2,2391.6 L1456.4,2395.4 L1457.8,2399.0 L1459.4,2402.5 L1461.2,2405.8 L1463.1,2409.0 L1465.2,2412.0 L1467.4,2414.9 L1469.7,2417.6 L1472.3,2420.1 L1474.9,2422.5 L1477.8,2424.7 L1480.7,2426.8 L1483.8,2428.7 L1487.0,2430.4 L1490.4,2431.9 L1493.8,2433.3 L1497.4,2434.4 L1501.1,2435.4 L1505.0,2436.2 L1508.9,2436.9 L1512.9,2437.3 L1517.0,2437.6 L1521.3,2437.6 L1525.6,2437.5 L1530.0,2437.2 L1534.4,2436.7 L1539.0,2436.1 L1543.6,2435.2 L1548.2,2434.2 L1552.9,2432.9 L1557.7,2431.5 L1562.5,2430.0 L1567.3,2428.2 L1572.2,2426.3 L1577.1,2424.2 L1582.0,2421.9 L1586.9,2419.5 L1591.9,2416.9 L1596.8,2414.1 L1601.7,2411.2 L1606.7,2408.2 L1611.6,2404.9 L1616.4,2401.6 L1621.3,2398.1 L1626.1,2394.4 L1630.9,2390.7 L1635.6,2386.8 L1640.3,2382.7 L1644.9,2378.6 L1649.4,2374.3 L1653.9,2370.0 L1658.3,2365.5 L1662.6,2360.9 L1666.9,2356.3 L1671.0,2351.5 L1675.1,2346.7 L1679.0,2341.8 L1682.9,2336.8 L1686.6,2331.8 L1690.3,2326.7 L1693.8,2321.6 L1697.1,2316.4 L1700.4,2311.2 L1703.5,2305.9 L1706.5,2300.7 L1709.4,2295.4 L1712.1,2290.1 L1714.6,2284.7 L1717.0,2279.4 L1719.3,2274.1 L1721.4,2268.8 L1723.3,2263.6 L1725.1,2258.3 L1726.8,2253.1 L1728.2,2247.9 L1729.5,2242.8 L1730.7,2237.7 L1731.6,2232.7 L1732.4,2227.8 L1733.0,2222.9 L1733.5,2218.1 L1733.8,2213.4 L1733.9,2208.7 L1733.8,2204.2 L1733.6,2199.7 L1733.2,2195.4 L1732.6,2191.2 L1731.8,2187.1 L1730.9,2183.1 L1729.8,2179.2 L1728.6,2175.5 L1727.2,2171.9 L1725.6,2168.4 L1723.8,2165.1 L1721.9,2161.9 L1719.8,2158.9 L1717.6,2156.0 L1715.3,2153.3Z" fill="#e7b478"/>
<g clip-path="url(#cp_blue)"><path d="M1320.9,2153.3 L1318.6,2156.0 L1316.4,2158.9 L1314.3,2161.9 L1312.4,2165.1 L1310.6,2168.4 L1309.0,2171.9 L1307.6,2175.5 L1306.4,2179.2 L1305.3,2183.1 L1304.4,2187.1 L1303.6,2191.2 L1303.0,2195.4 L1302.6,2199.7 L1302.4,2204.2 L1302.3,2208.7 L1302.4,2213.4 L1302.7,2218.1 L1303.2,2222.9 L1303.8,2227.8 L1304.6,2232.7 L1305.5,2237.7 L1306.7,2242.8 L1308.0,2247.9 L1309.4,2253.1 L1311.1,2258.3 L1312.9,2263.6 L1314.8,2268.8 L1316.9,2274.1 L1319.2,2279.4 L1321.6,2284.7 L1324.1,2290.1 L1326.8,2295.4 L1329.7,2300.7 L1332.7,2305.9 L1335.8,2311.2 L1339.1,2316.4 L1342.4,2321.6 L1345.9,2326.7 L1349.6,2331.8 L1353.3,2336.8 L1357.2,2341.8 L1361.1,2346.7 L1365.2,2351.5 L1369.3,2356.3 L1373.6,2360.9 L1377.9,2365.5 L1382.3,2370.0 L1386.8,2374.3 L1391.3,2378.6 L1395.9,2382.7 L1400.6,2386.8 L1405.3,2390.7 L1410.1,2394.4 L1414.9,2398.1 L1419.8,2401.6 L1424.6,2404.9 L1429.5,2408.2 L1434.5,2411.2 L1439.4,2414.1 L1444.3,2416.9 L1449.3,2419.5 L1454.2,2421.9 L1459.1,2424.2 L1464.0,2426.3 L1468.9,2428.2 L1473.7,2430.0 L1478.5,2431.5 L1483.3,2432.9 L1488.0,2434.2 L1492.6,2435.2 L1497.2,2436.1 L1501.8,2436.7 L1506.2,2437.2 L1510.6,2437.5 L1514.9,2437.6 L1519.2,2437.6 L1523.3,2437.3 L1527.3,2436.9 L1531.2,2436.2 L1535.1,2435.4 L1538.8,2434.4 L1542.4,2433.3 L1545.8,2431.9 L1549.2,2430.4 L1552.4,2428.7 L1555.5,2426.8 L1558.4,2424.7 L1561.3,2422.5 L1563.9,2420.1 L1566.5,2417.6 L1568.8,2414.9 L1571.0,2412.0 L1573.1,2409.0 L1575.0,2405.8 L1576.8,2402.5 L1578.4,2399.0 L1579.8,2395.4 L1581.0,2391.6 L1582.1,2387.8 L1583.0,2383.8 L1583.8,2379.7 L1584.4,2375.4 L1584.8,2371.1 L1585.0,2366.7 L1585.1,2362.1 L1585.0,2357.5 L1584.7,2352.8 L1584.2,2347.9 L1583.6,2343.1 L1582.8,2338.1 L1581.9,2333.1 L1580.7,2328.0 L1579.4,2322.9 L1578.0,2317.7 L1576.3,2312.5 L1574.5,2307.3 L1572.6,2302.0 L1570.5,2296.7 L1568.2,2291.4 L1565.8,2286.1 L1563.3,2280.8 L1560.6,2275.5 L1557.7,2270.2 L1554.7,2264.9 L1551.6,2259.7 L1548.3,2254.4 L1545.0,2249.3 L1541.5,2244.1 L1537.8,2239.0 L1534.1,2234.0 L1530.2,2229.0 L1526.3,2224.1 L1522.2,2219.3 L1518.1,2214.6 L1513.8,2209.9 L1509.5,2205.3 L1505.1,2200.9 L1500.6,2196.5 L1496.1,2192.2 L1491.5,2188.1 L1486.8,2184.1 L1482.1,2180.2 L1477.3,2176.4 L1472.5,2172.8 L1467.6,2169.3 L1462.8,2165.9 L1457.9,2162.7 L1452.9,2159.6 L1448.0,2156.7 L1443.1,2153.9 L1438.1,2151.3 L1433.2,2148.9 L1428.3,2146.6 L1423.4,2144.5 L1418.5,2142.6 L1413.7,2140.9 L1408.9,2139.3 L1404.1,2137.9 L1399.4,2136.7 L1394.8,2135.6 L1390.2,2134.8 L1385.6,2134.1 L1381.2,2133.6 L1376.8,2133.3 L1372.5,2133.2 L1368.2,2133.3 L1364.1,2133.5 L1360.1,2134.0 L1356.2,2134.6 L1352.3,2135.4 L1348.6,2136.4 L1345.0,2137.6 L1341.6,2138.9 L1338.2,2140.4 L1335.0,2142.2 L1331.9,2144.0 L1329.0,2146.1 L1326.1,2148.3 L1323.5,2150.7 L1320.9,2153.3Z" fill="#aaadb7"/></g>
<g clip-path="url(#cp_purple)"><path d="M1320.9,2153.3 L1318.6,2156.0 L1316.4,2158.9 L1314.3,2161.9 L1312.4,2165.1 L1310.6,2168.4 L1309.0,2171.9 L1307.6,2175.5 L1306.4,2179.2 L1305.3,2183.1 L1304.4,2187.1 L1303.6,2191.2 L1303.0,2195.4 L1302.6,2199.7 L1302.4,2204.2 L1302.3,2208.7 L1302.4,2213.4 L1302.7,2218.1 L1303.2,2222.9 L1303.8,2227.8 L1304.6,2232.7 L1305.5,2237.7 L1306.7,2242.8 L1308.0,2247.9 L1309.4,2253.1 L1311.1,2258.3 L1312.9,2263.6 L1314.8,2268.8 L1316.9,2274.1 L1319.2,2279.4 L1321.6,2284.7 L1324.1,2290.1 L1326.8,2295.4 L1329.7,2300.7 L1332.7,2305.9 L1335.8,2311.2 L1339.1,2316.4 L1342.4,2321.6 L1345.9,2326.7 L1349.6,2331.8 L1353.3,2336.8 L1357.2,2341.8 L1361.1,2346.7 L1365.2,2351.5 L1369.3,2356.3 L1373.6,2360.9 L1377.9,2365.5 L1382.3,2370.0 L1386.8,2374.3 L1391.3,2378.6 L1395.9,2382.7 L1400.6,2386.8 L1405.3,2390.7 L1410.1,2394.4 L1414.9,2398.1 L1419.8,2401.6 L1424.6,2404.9 L1429.5,2408.2 L1434.5,2411.2 L1439.4,2414.1 L1444.3,2416.9 L1449.3,2419.5 L1454.2,2421.9 L1459.1,2424.2 L1464.0,2426.3 L1468.9,2428.2 L1473.7,2430.0 L1478.5,2431.5 L1483.3,2432.9 L1488.0,2434.2 L1492.6,2435.2 L1497.2,2436.1 L1501.8,2436.7 L1506.2,2437.2 L1510.6,2437.5 L1514.9,2437.6 L1519.2,2437.6 L1523.3,2437.3 L1527.3,2436.9 L1531.2,2436.2 L1535.1,2435.4 L1538.8,2434.4 L1542.4,2433.3 L1545.8,2431.9 L1549.2,2430.4 L1552.4,2428.7 L1555.5,2426.8 L1558.4,2424.7 L1561.3,2422.5 L1563.9,2420.1 L1566.5,2417.6 L1568.8,2414.9 L1571.0,2412.0 L1573.1,2409.0 L1575.0,2405.8 L1576.8,2402.5 L1578.4,2399.0 L1579.8,2395.4 L1581.0,2391.6 L1582.1,2387.8 L1583.0,2383.8 L1583.8,2379.7 L1584.4,2375.4 L1584.8,2371.1 L1585.0,2366.7 L1585.1,2362.1 L1585.0,2357.5 L1584.7,2352.8 L1584.2,2347.9 L1583.6,2343.1 L1582.8,2338.1 L1581.9,2333.1 L1580.7,2328.0 L1579.4,2322.9 L1578.0,2317.7 L1576.3,2312.5 L1574.5,2307.3 L1572.6,2302.0 L1570.5,2296.7 L1568.2,2291.4 L1565.8,2286.1 L1563.3,2280.8 L1560.6,2275.5 L1557.7,2270.2 L1554.7,2264.9 L1551.6,2259.7 L1548.3,2254.4 L1545.0,2249.3 L1541.5,2244.1 L1537.8,2239.0 L1534.1,2234.0 L1530.2,2229.0 L1526.3,2224.1 L1522.2,2219.3 L1518.1,2214.6 L1513.8,2209.9 L1509.5,2205.3 L1505.1,2200.9 L1500.6,2196.5 L1496.1,2192.2 L1491.5,2188.1 L1486.8,2184.1 L1482.1,2180.2 L1477.3,2176.4 L1472.5,2172.8 L1467.6,2169.3 L1462.8,2165.9 L1457.9,2162.7 L1452.9,2159.6 L1448.0,2156.7 L1443.1,2153.9 L1438.1,2151.3 L1433.2,2148.9 L1428.3,2146.6 L1423.4,2144.5 L1418.5,2142.6 L1413.7,2140.9 L1408.9,2139.3 L1404.1,2137.9 L1399.4,2136.7 L1394.8,2135.6 L1390.2,2134.8 L1385.6,2134.1 L1381.2,2133.6 L1376.8,2133.3 L1372.5,2133.2 L1368.2,2133.3 L1364.1,2133.5 L1360.1,2134.0 L1356.2,2134.6 L1352.3,2135.4 L1348.6,2136.4 L1345.0,2137.6 L1341.6,2138.9 L1338.2,2140.4 L1335.0,2142.2 L1331.9,2144.0 L1329.0,2146.1 L1326.1,2148.3 L1323.5,2150.7 L1320.9,2153.3Z" fill="#a26c97"/></g>
<g clip-path="url(#cp_orange)"><path d="M1320.9,2153.3 L1318.6,2156.0 L1316.4,2158.9 L1314.3,2161.9 L1312.4,2165.1 L1310.6,2168.4 L1309.0,2171.9 L1307.6,2175.5 L1306.4,2179.2 L1305.3,2183.1 L1304.4,2187.1 L1303.6,2191.2 L1303.0,2195.4 L1302.6,2199.7 L1302.4,2204.2 L1302.3,2208.7 L1302.4,2213.4 L1302.7,2218.1 L1303.2,2222.9 L1303.8,2227.8 L1304.6,2232.7 L1305.5,2237.7 L1306.7,2242.8 L1308.0,2247.9 L1309.4,2253.1 L1311.1,2258.3 L1312.9,2263.6 L1314.8,2268.8 L1316.9,2274.1 L1319.2,2279.4 L1321.6,2284.7 L1324.1,2290.1 L1326.8,2295.4 L1329.7,2300.7 L1332.7,2305.9 L1335.8,2311.2 L1339.1,2316.4 L1342.4,2321.6 L1345.9,2326.7 L1349.6,2331.8 L1353.3,2336.8 L1357.2,2341.8 L1361.1,2346.7 L1365.2,2351.5 L1369.3,2356.3 L1373.6,2360.9 L1377.9,2365.5 L1382.3,2370.0 L1386.8,2374.3 L1391.3,2378.6 L1395.9,2382.7 L1400.6,2386.8 L1405.3,2390.7 L1410.1,2394.4 L1414.9,2398.1 L1419.8,2401.6 L1424.6,2404.9 L1429.5,2408.2 L1434.5,2411.2 L1439.4,2414.1 L1444.3,2416.9 L1449.3,2419.5 L1454.2,2421.9 L1459.1,2424.2 L1464.0,2426.3 L1468.9,2428.2 L1473.7,2430.0 L1478.5,2431.5 L1483.3,2432.9 L1488.0,2434.2 L1492.6,2435.2 L1497.2,2436.1 L1501.8,2436.7 L1506.2,2437.2 L1510.6,2437.5 L1514.9,2437.6 L1519.2,2437.6 L1523.3,2437.3 L1527.3,2436.9 L1531.2,2436.2 L1535.1,2435.4 L1538.8,2434.4 L1542.4,2433.3 L1545.8,2431.9 L1549.2,2430.4 L1552.4,2428.7 L1555.5,2426.8 L1558.4,2424.7 L1561.3,2422.5 L1563.9,2420.1 L1566.5,2417.6 L1568.8,2414.9 L1571.0,2412.0 L1573.1,2409.0 L1575.0,2405.8 L1576.8,2402.5 L1578.4,2399.0 L1579.8,2395.4 L1581.0,2391.6 L1582.1,2387.8 L1583.0,2383.8 L1583.8,2379.7 L1584.4,2375.4 L1584.8,2371.1 L1585.0,2366.7 L1585.1,2362.1 L1585.0,2357.5 L1584.7,2352.8 L1584.2,2347.9 L1583.6,2343.1 L1582.8,2338.1 L1581.9,2333.1 L1580.7,2328.0 L1579.4,2322.9 L1578.0,2317.7 L1576.3,2312.5 L1574.5,2307.3 L1572.6,2302.0 L1570.5,2296.7 L1568.2,2291.4 L1565.8,2286.1 L1563.3,2280.8 L1560.6,2275.5 L1557.7,2270.2 L1554.7,2264.9 L1551.6,2259.7 L1548.3,2254.4 L1545.0,2249.3 L1541.5,2244.1 L1537.8,2239.0 L1534.1,2234.0 L1530.2,2229.0 L1526.3,2224.1 L1522.2,2219.3 L1518.1,2214.6 L1513.8,2209.9 L1509.5,2205.3 L1505.1,2200.9 L1500.6,2196.5 L1496.1,2192.2 L1491.5,2188.1 L1486.8,2184.1 L1482.1,2180.2 L1477.3,2176.4 L1472.5,2172.8 L1467.6,2169.3 L1462.8,2165.9 L1457.9,2162.7 L1452.9,2159.6 L1448.0,2156.7 L1443.1,2153.9 L1438.1,2151.3 L1433.2,2148.9 L1428.3,2146.6 L1423.4,2144.5 L1418.5,2142.6 L1413.7,2140.9 L1408.9,2139.3 L1404.1,2137.9 L1399.4,2136.7 L1394.8,2135.6 L1390.2,2134.8 L1385.6,2134.1 L1381.2,2133.6 L1376.8,2133.3 L1372.5,2133.2 L1368.2,2133.3 L1364.1,2133.5 L1360.1,2134.0 L1356.2,2134.6 L1352.3,2135.4 L1348.6,2136.4 L1345.0,2137.6 L1341.6,2138.9 L1338.2,2140.4 L1335.0,2142.2 L1331.9,2144.0 L1329.0,2146.1 L1326.1,2148.3 L1323.5,2150.7 L1320.9,2153.3Z" fill="#e07647"/></g>
<g clip-path="url(#cp_purple)"><path d="M1395.3,2099.9 L1393.6,2101.9 L1392.0,2104.1 L1390.5,2106.5 L1389.2,2109.0 L1388.1,2111.7 L1387.1,2114.5 L1386.3,2117.5 L1385.6,2120.6 L1385.1,2123.8 L1384.8,2127.2 L1384.6,2130.7 L1384.6,2134.3 L1384.7,2138.1 L1385.0,2141.9 L1385.5,2145.9 L1386.1,2150.0 L1386.9,2154.1 L1387.9,2158.4 L1389.0,2162.7 L1390.2,2167.2 L1391.7,2171.7 L1393.3,2176.3 L1395.0,2181.0 L1396.9,2185.7 L1398.9,2190.5 L1401.1,2195.3 L1403.4,2200.2 L1405.8,2205.1 L1408.4,2210.0 L1411.2,2215.0 L1414.0,2220.0 L1417.0,2225.0 L1420.1,2230.0 L1423.3,2235.0 L1426.7,2240.0 L1430.1,2245.0 L1433.7,2250.0 L1437.4,2255.0 L1441.1,2259.9 L1445.0,2264.8 L1448.9,2269.7 L1452.9,2274.5 L1457.1,2279.3 L1461.2,2284.0 L1465.5,2288.7 L1469.8,2293.2 L1474.2,2297.7 L1478.6,2302.2 L1483.1,2306.5 L1487.6,2310.7 L1492.2,2314.9 L1496.8,2318.9 L1501.4,2322.9 L1506.0,2326.7 L1510.6,2330.4 L1515.3,2334.0 L1520.0,2337.5 L1524.6,2340.9 L1529.3,2344.1 L1533.9,2347.2 L1538.5,2350.1 L1543.1,2352.9 L1547.7,2355.5 L1552.2,2358.0 L1556.7,2360.4 L1561.1,2362.5 L1565.5,2364.6 L1569.9,2366.4 L1574.1,2368.1 L1578.3,2369.7 L1582.4,2371.0 L1586.5,2372.2 L1590.4,2373.3 L1594.3,2374.1 L1598.1,2374.8 L1601.8,2375.3 L1605.4,2375.6 L1608.8,2375.8 L1612.2,2375.8 L1615.5,2375.6 L1618.6,2375.2 L1621.6,2374.7 L1624.5,2374.0 L1627.2,2373.1 L1629.9,2372.0 L1632.3,2370.8 L1634.7,2369.4 L1636.9,2367.8 L1638.9,2366.1 L1640.9,2364.2 L1642.6,2362.1 L1644.2,2359.9 L1645.7,2357.5 L1647.0,2355.0 L1648.1,2352.3 L1649.1,2349.5 L1649.9,2346.6 L1650.6,2343.4 L1651.1,2340.2 L1651.4,2336.8 L1651.6,2333.3 L1651.6,2329.7 L1651.5,2326.0 L1651.2,2322.1 L1650.7,2318.2 L1650.1,2314.1 L1649.3,2309.9 L1648.3,2305.6 L1647.2,2301.3 L1646.0,2296.9 L1644.5,2292.3 L1642.9,2287.7 L1641.2,2283.1 L1639.3,2278.4 L1637.3,2273.6 L1635.1,2268.8 L1632.8,2263.9 L1630.4,2259.0 L1627.8,2254.0 L1625.0,2249.0 L1622.2,2244.1 L1619.2,2239.0 L1616.1,2234.0 L1612.9,2229.0 L1609.5,2224.0 L1606.1,2219.0 L1602.5,2214.0 L1598.8,2209.0 L1595.1,2204.1 L1591.2,2199.2 L1587.3,2194.3 L1583.3,2189.5 L1579.1,2184.7 L1575.0,2180.0 L1570.7,2175.4 L1566.4,2170.8 L1562.0,2166.3 L1557.6,2161.9 L1553.1,2157.5 L1548.6,2153.3 L1544.0,2149.1 L1539.4,2145.1 L1534.8,2141.1 L1530.2,2137.3 L1525.6,2133.6 L1520.9,2130.0 L1516.2,2126.5 L1511.6,2123.2 L1506.9,2120.0 L1502.3,2116.9 L1497.7,2114.0 L1493.1,2111.2 L1488.5,2108.5 L1484.0,2106.0 L1479.5,2103.7 L1475.1,2101.5 L1470.7,2099.5 L1466.3,2097.6 L1462.1,2095.9 L1457.9,2094.4 L1453.8,2093.0 L1449.7,2091.8 L1445.8,2090.8 L1441.9,2089.9 L1438.1,2089.2 L1434.4,2088.7 L1430.8,2088.4 L1427.4,2088.3 L1424.0,2088.3 L1420.7,2088.5 L1417.6,2088.8 L1414.6,2089.4 L1411.7,2090.1 L1409.0,2091.0 L1406.3,2092.0 L1403.9,2093.3 L1401.5,2094.7 L1399.3,2096.2 L1397.3,2098.0 L1395.3,2099.9Z" fill="#77aad5"/></g>
<g clip-path="url(#cp_orange)"><path d="M1395.3,2099.9 L1393.6,2101.9 L1392.0,2104.1 L1390.5,2106.5 L1389.2,2109.0 L1388.1,2111.7 L1387.1,2114.5 L1386.3,2117.5 L1385.6,2120.6 L1385.1,2123.8 L1384.8,2127.2 L1384.6,2130.7 L1384.6,2134.3 L1384.7,2138.1 L1385.0,2141.9 L1385.5,2145.9 L1386.1,2150.0 L1386.9,2154.1 L1387.9,2158.4 L1389.0,2162.7 L1390.2,2167.2 L1391.7,2171.7 L1393.3,2176.3 L1395.0,2181.0 L1396.9,2185.7 L1398.9,2190.5 L1401.1,2195.3 L1403.4,2200.2 L1405.8,2205.1 L1408.4,2210.0 L1411.2,2215.0 L1414.0,2220.0 L1417.0,2225.0 L1420.1,2230.0 L1423.3,2235.0 L1426.7,2240.0 L1430.1,2245.0 L1433.7,2250.0 L1437.4,2255.0 L1441.1,2259.9 L1445.0,2264.8 L1448.9,2269.7 L1452.9,2274.5 L1457.1,2279.3 L1461.2,2284.0 L1465.5,2288.7 L1469.8,2293.2 L1474.2,2297.7 L1478.6,2302.2 L1483.1,2306.5 L1487.6,2310.7 L1492.2,2314.9 L1496.8,2318.9 L1501.4,2322.9 L1506.0,2326.7 L1510.6,2330.4 L1515.3,2334.0 L1520.0,2337.5 L1524.6,2340.9 L1529.3,2344.1 L1533.9,2347.2 L1538.5,2350.1 L1543.1,2352.9 L1547.7,2355.5 L1552.2,2358.0 L1556.7,2360.4 L1561.1,2362.5 L1565.5,2364.6 L1569.9,2366.4 L1574.1,2368.1 L1578.3,2369.7 L1582.4,2371.0 L1586.5,2372.2 L1590.4,2373.3 L1594.3,2374.1 L1598.1,2374.8 L1601.8,2375.3 L1605.4,2375.6 L1608.8,2375.8 L1612.2,2375.8 L1615.5,2375.6 L1618.6,2375.2 L1621.6,2374.7 L1624.5,2374.0 L1627.2,2373.1 L1629.9,2372.0 L1632.3,2370.8 L1634.7,2369.4 L1636.9,2367.8 L1638.9,2366.1 L1640.9,2364.2 L1642.6,2362.1 L1644.2,2359.9 L1645.7,2357.5 L1647.0,2355.0 L1648.1,2352.3 L1649.1,2349.5 L1649.9,2346.6 L1650.6,2343.4 L1651.1,2340.2 L1651.4,2336.8 L1651.6,2333.3 L1651.6,2329.7 L1651.5,2326.0 L1651.2,2322.1 L1650.7,2318.2 L1650.1,2314.1 L1649.3,2309.9 L1648.3,2305.6 L1647.2,2301.3 L1646.0,2296.9 L1644.5,2292.3 L1642.9,2287.7 L1641.2,2283.1 L1639.3,2278.4 L1637.3,2273.6 L1635.1,2268.8 L1632.8,2263.9 L1630.4,2259.0 L1627.8,2254.0 L1625.0,2249.0 L1622.2,2244.1 L1619.2,2239.0 L1616.1,2234.0 L1612.9,2229.0 L1609.5,2224.0 L1606.1,2219.0 L1602.5,2214.0 L1598.8,2209.0 L1595.1,2204.1 L1591.2,2199.2 L1587.3,2194.3 L1583.3,2189.5 L1579.1,2184.7 L1575.0,2180.0 L1570.7,2175.4 L1566.4,2170.8 L1562.0,2166.3 L1557.6,2161.9 L1553.1,2157.5 L1548.6,2153.3 L1544.0,2149.1 L1539.4,2145.1 L1534.8,2141.1 L1530.2,2137.3 L1525.6,2133.6 L1520.9,2130.0 L1516.2,2126.5 L1511.6,2123.2 L1506.9,2120.0 L1502.3,2116.9 L1497.7,2114.0 L1493.1,2111.2 L1488.5,2108.5 L1484.0,2106.0 L1479.5,2103.7 L1475.1,2101.5 L1470.7,2099.5 L1466.3,2097.6 L1462.1,2095.9 L1457.9,2094.4 L1453.8,2093.0 L1449.7,2091.8 L1445.8,2090.8 L1441.9,2089.9 L1438.1,2089.2 L1434.4,2088.7 L1430.8,2088.4 L1427.4,2088.3 L1424.0,2088.3 L1420.7,2088.5 L1417.6,2088.8 L1414.6,2089.4 L1411.7,2090.1 L1409.0,2091.0 L1406.3,2092.0 L1403.9,2093.3 L1401.5,2094.7 L1399.3,2096.2 L1397.3,2098.0 L1395.3,2099.9Z" fill="#b3b7b3"/></g>
<g clip-path="url(#cp_orange)"><path d="M1633.8,2107.4 L1631.9,2105.5 L1629.9,2103.8 L1627.7,2102.2 L1625.4,2100.7 L1622.9,2099.5 L1620.4,2098.4 L1617.7,2097.4 L1614.9,2096.6 L1611.9,2096.0 L1608.9,2095.6 L1605.7,2095.3 L1602.4,2095.1 L1599.1,2095.2 L1595.6,2095.4 L1592.0,2095.8 L1588.4,2096.3 L1584.6,2097.0 L1580.8,2097.9 L1576.9,2099.0 L1572.9,2100.2 L1568.9,2101.5 L1564.8,2103.0 L1560.7,2104.7 L1556.4,2106.6 L1552.2,2108.5 L1547.9,2110.7 L1543.6,2113.0 L1539.2,2115.4 L1534.8,2118.0 L1530.4,2120.7 L1526.0,2123.5 L1521.6,2126.5 L1517.1,2129.6 L1512.7,2132.8 L1508.2,2136.2 L1503.8,2139.6 L1499.4,2143.2 L1495.1,2146.9 L1490.7,2150.7 L1486.4,2154.6 L1482.1,2158.6 L1477.9,2162.7 L1473.7,2166.8 L1469.6,2171.1 L1465.5,2175.4 L1461.5,2179.8 L1457.5,2184.2 L1453.7,2188.7 L1449.9,2193.3 L1446.2,2197.9 L1442.6,2202.5 L1439.1,2207.2 L1435.6,2211.9 L1432.3,2216.7 L1429.1,2221.4 L1426.0,2226.2 L1423.0,2231.0 L1420.1,2235.7 L1417.3,2240.5 L1414.7,2245.3 L1412.2,2250.0 L1409.8,2254.7 L1407.5,2259.4 L1405.4,2264.1 L1403.4,2268.7 L1401.6,2273.3 L1399.9,2277.8 L1398.3,2282.3 L1396.9,2286.7 L1395.6,2291.1 L1394.5,2295.3 L1393.5,2299.5 L1392.7,2303.7 L1392.1,2307.7 L1391.6,2311.6 L1391.2,2315.5 L1391.0,2319.2 L1391.0,2322.8 L1391.1,2326.3 L1391.3,2329.7 L1391.8,2333.0 L1392.3,2336.2 L1393.1,2339.2 L1394.0,2342.1 L1395.0,2344.9 L1396.2,2347.5 L1397.5,2350.0 L1399.0,2352.4 L1400.6,2354.6 L1402.4,2356.6 L1404.3,2358.5 L1406.3,2360.3 L1408.5,2361.9 L1410.8,2363.3 L1413.3,2364.6 L1415.8,2365.7 L1418.5,2366.6 L1421.3,2367.4 L1424.3,2368.0 L1427.3,2368.5 L1430.5,2368.8 L1433.8,2368.9 L1437.1,2368.8 L1440.6,2368.6 L1444.2,2368.3 L1447.8,2367.7 L1451.6,2367.0 L1455.4,2366.1 L1459.3,2365.1 L1463.3,2363.9 L1467.3,2362.5 L1471.4,2361.0 L1475.5,2359.3 L1479.8,2357.5 L1484.0,2355.5 L1488.3,2353.4 L1492.6,2351.1 L1497.0,2348.7 L1501.4,2346.1 L1505.8,2343.4 L1510.2,2340.5 L1514.6,2337.6 L1519.1,2334.4 L1523.5,2331.2 L1528.0,2327.9 L1532.4,2324.4 L1536.8,2320.8 L1541.1,2317.1 L1545.5,2313.3 L1549.8,2309.4 L1554.1,2305.4 L1558.3,2301.4 L1562.5,2297.2 L1566.6,2293.0 L1570.7,2288.7 L1574.7,2284.3 L1578.7,2279.8 L1582.5,2275.3 L1586.3,2270.8 L1590.0,2266.2 L1593.6,2261.5 L1597.1,2256.8 L1600.6,2252.1 L1603.9,2247.4 L1607.1,2242.6 L1610.2,2237.9 L1613.2,2233.1 L1616.1,2228.3 L1618.9,2223.5 L1621.5,2218.8 L1624.0,2214.0 L1626.4,2209.3 L1628.7,2204.6 L1630.8,2199.9 L1632.8,2195.3 L1634.6,2190.7 L1636.3,2186.2 L1637.9,2181.7 L1639.3,2177.3 L1640.6,2173.0 L1641.7,2168.7 L1642.7,2164.5 L1643.5,2160.4 L1644.1,2156.4 L1644.6,2152.4 L1645.0,2148.6 L1645.2,2144.9 L1645.2,2141.2 L1645.1,2137.7 L1644.9,2134.3 L1644.4,2131.0 L1643.9,2127.9 L1643.1,2124.8 L1642.2,2121.9 L1641.2,2119.1 L1640.0,2116.5 L1638.7,2114.0 L1637.2,2111.7 L1635.6,2109.5 L1633.8,2107.4Z" fill="#a8768c"/></g>
<g clip-path="url(#cp_purple)"><g clip-path="url(#cp_blue)"><path d="M1320.9,2153.3 L1318.6,2156.0 L1316.4,2158.9 L1314.3,2161.9 L1312.4,2165.1 L1310.6,2168.4 L1309.0,2171.9 L1307.6,2175.5 L1306.4,2179.2 L1305.3,2183.1 L1304.4,2187.1 L1303.6,2191.2 L1303.0,2195.4 L1302.6,2199.7 L1302.4,2204.2 L1302.3,2208.7 L1302.4,2213.4 L1302.7,2218.1 L1303.2,2222.9 L1303.8,2227.8 L1304.6,2232.7 L1305.5,2237.7 L1306.7,2242.8 L1308.0,2247.9 L1309.4,2253.1 L1311.1,2258.3 L1312.9,2263.6 L1314.8,2268.8 L1316.9,2274.1 L1319.2,2279.4 L1321.6,2284.7 L1324.1,2290.1 L1326.8,2295.4 L1329.7,2300.7 L1332.7,2305.9 L1335.8,2311.2 L1339.1,2316.4 L1342.4,2321.6 L1345.9,2326.7 L1349.6,2331.8 L1353.3,2336.8 L1357.2,2341.8 L1361.1,2346.7 L1365.2,2351.5 L1369.3,2356.3 L1373.6,2360.9 L1377.9,2365.5 L1382.3,2370.0 L1386.8,2374.3 L1391.3,2378.6 L1395.9,2382.7 L1400.6,2386.8 L1405.3,2390.7 L1410.1,2394.4 L1414.9,2398.1 L1419.8,2401.6 L1424.6,2404.9 L1429.5,2408.2 L1434.5,2411.2 L1439.4,2414.1 L1444.3,2416.9 L1449.3,2419.5 L1454.2,2421.9 L1459.1,2424.2 L1464.0,2426.3 L1468.9,2428.2 L1473.7,2430.0 L1478.5,2431.5 L1483.3,2432.9 L1488.0,2434.2 L1492.6,2435.2 L1497.2,2436.1 L1501.8,2436.7 L1506.2,2437.2 L1510.6,2437.5 L1514.9,2437.6 L1519.2,2437.6 L1523.3,2437.3 L1527.3,2436.9 L1531.2,2436.2 L1535.1,2435.4 L1538.8,2434.4 L1542.4,2433.3 L1545.8,2431.9 L1549.2,2430.4 L1552.4,2428.7 L1555.5,2426.8 L1558.4,2424.7 L1561.3,2422.5 L1563.9,2420.1 L1566.5,2417.6 L1568.8,2414.9 L1571.0,2412.0 L1573.1,2409.0 L1575.0,2405.8 L1576.8,2402.5 L1578.4,2399.0 L1579.8,2395.4 L1581.0,2391.6 L1582.1,2387.8 L1583.0,2383.8 L1583.8,2379.7 L1584.4,2375.4 L1584.8,2371.1 L1585.0,2366.7 L1585.1,2362.1 L1585.0,2357.5 L1584.7,2352.8 L1584.2,2347.9 L1583.6,2343.1 L1582.8,2338.1 L1581.9,2333.1 L1580.7,2328.0 L1579.4,2322.9 L1578.0,2317.7 L1576.3,2312.5 L1574.5,2307.3 L1572.6,2302.0 L1570.5,2296.7 L1568.2,2291.4 L1565.8,2286.1 L1563.3,2280.8 L1560.6,2275.5 L1557.7,2270.2 L1554.7,2264.9 L1551.6,2259.7 L1548.3,2254.4 L1545.0,2249.3 L1541.5,2244.1 L1537.8,2239.0 L1534.1,2234.0 L1530.2,2229.0 L1526.3,2224.1 L1522.2,2219.3 L1518.1,2214.6 L1513.8,2209.9 L1509.5,2205.3 L1505.1,2200.9 L1500.6,2196.5 L1496.1,2192.2 L1491.5,2188.1 L1486.8,2184.1 L1482.1,2180.2 L1477.3,2176.4 L1472.5,2172.8 L1467.6,2169.3 L1462.8,2165.9 L1457.9,2162.7 L1452.9,2159.6 L1448.0,2156.7 L1443.1,2153.9 L1438.1,2151.3 L1433.2,2148.9 L1428.3,2146.6 L1423.4,2144.5 L1418.5,2142.6 L1413.7,2140.9 L1408.9,2139.3 L1404.1,2137.9 L1399.4,2136.7 L1394.8,2135.6 L1390.2,2134.8 L1385.6,2134.1 L1381.2,2133.6 L1376.8,2133.3 L1372.5,2133.2 L1368.2,2133.3 L1364.1,2133.5 L1360.1,2134.0 L1356.2,2134.6 L1352.3,2135.4 L1348.6,2136.4 L1345.0,2137.6 L1341.6,2138.9 L1338.2,2140.4 L1335.0,2142.2 L1331.9,2144.0 L1329.0,2146.1 L1326.1,2148.3 L1323.5,2150.7 L1320.9,2153.3Z" fill="#7f93ba"/></g></g>
<g clip-path="url(#cp_orange)"><g clip-path="url(#cp_blue)"><path d="M1320.9,2153.3 L1318.6,2156.0 L1316.4,2158.9 L1314.3,2161.9 L1312.4,2165.1 L1310.6,2168.4 L1309.0,2171.9 L1307.6,2175.5 L1306.4,2179.2 L1305.3,2183.1 L1304.4,2187.1 L1303.6,2191.2 L1303.0,2195.4 L1302.6,2199.7 L1302.4,2204.2 L1302.3,2208.7 L1302.4,2213.4 L1302.7,2218.1 L1303.2,2222.9 L1303.8,2227.8 L1304.6,2232.7 L1305.5,2237.7 L1306.7,2242.8 L1308.0,2247.9 L1309.4,2253.1 L1311.1,2258.3 L1312.9,2263.6 L1314.8,2268.8 L1316.9,2274.1 L1319.2,2279.4 L1321.6,2284.7 L1324.1,2290.1 L1326.8,2295.4 L1329.7,2300.7 L1332.7,2305.9 L1335.8,2311.2 L1339.1,2316.4 L1342.4,2321.6 L1345.9,2326.7 L1349.6,2331.8 L1353.3,2336.8 L1357.2,2341.8 L1361.1,2346.7 L1365.2,2351.5 L1369.3,2356.3 L1373.6,2360.9 L1377.9,2365.5 L1382.3,2370.0 L1386.8,2374.3 L1391.3,2378.6 L1395.9,2382.7 L1400.6,2386.8 L1405.3,2390.7 L1410.1,2394.4 L1414.9,2398.1 L1419.8,2401.6 L1424.6,2404.9 L1429.5,2408.2 L1434.5,2411.2 L1439.4,2414.1 L1444.3,2416.9 L1449.3,2419.5 L1454.2,2421.9 L1459.1,2424.2 L1464.0,2426.3 L1468.9,2428.2 L1473.7,2430.0 L1478.5,2431.5 L1483.3,2432.9 L1488.0,2434.2 L1492.6,2435.2 L1497.2,2436.1 L1501.8,2436.7 L1506.2,2437.2 L1510.6,2437.5 L1514.9,2437.6 L1519.2,2437.6 L1523.3,2437.3 L1527.3,2436.9 L1531.2,2436.2 L1535.1,2435.4 L1538.8,2434.4 L1542.4,2433.3 L1545.8,2431.9 L1549.2,2430.4 L1552.4,2428.7 L1555.5,2426.8 L1558.4,2424.7 L1561.3,2422.5 L1563.9,2420.1 L1566.5,2417.6 L1568.8,2414.9 L1571.0,2412.0 L1573.1,2409.0 L1575.0,2405.8 L1576.8,2402.5 L1578.4,2399.0 L1579.8,2395.4 L1581.0,2391.6 L1582.1,2387.8 L1583.0,2383.8 L1583.8,2379.7 L1584.4,2375.4 L1584.8,2371.1 L1585.0,2366.7 L1585.1,2362.1 L1585.0,2357.5 L1584.7,2352.8 L1584.2,2347.9 L1583.6,2343.1 L1582.8,2338.1 L1581.9,2333.1 L1580.7,2328.0 L1579.4,2322.9 L1578.0,2317.7 L1576.3,2312.5 L1574.5,2307.3 L1572.6,2302.0 L1570.5,2296.7 L1568.2,2291.4 L1565.8,2286.1 L1563.3,2280.8 L1560.6,2275.5 L1557.7,2270.2 L1554.7,2264.9 L1551.6,2259.7 L1548.3,2254.4 L1545.0,2249.3 L1541.5,2244.1 L1537.8,2239.0 L1534.1,2234.0 L1530.2,2229.0 L1526.3,2224.1 L1522.2,2219.3 L1518.1,2214.6 L1513.8,2209.9 L1509.5,2205.3 L1505.1,2200.9 L1500.6,2196.5 L1496.1,2192.2 L1491.5,2188.1 L1486.8,2184.1 L1482.1,2180.2 L1477.3,2176.4 L1472.5,2172.8 L1467.6,2169.3 L1462.8,2165.9 L1457.9,2162.7 L1452.9,2159.6 L1448.0,2156.7 L1443.1,2153.9 L1438.1,2151.3 L1433.2,2148.9 L1428.3,2146.6 L1423.4,2144.5 L1418.5,2142.6 L1413.7,2140.9 L1408.9,2139.3 L1404.1,2137.9 L1399.4,2136.7 L1394.8,2135.6 L1390.2,2134.8 L1385.6,2134.1 L1381.2,2133.6 L1376.8,2133.3 L1372.5,2133.2 L1368.2,2133.3 L1364.1,2133.5 L1360.1,2134.0 L1356.2,2134.6 L1352.3,2135.4 L1348.6,2136.4 L1345.0,2137.6 L1341.6,2138.9 L1338.2,2140.4 L1335.0,2142.2 L1331.9,2144.0 L1329.0,2146.1 L1326.1,2148.3 L1323.5,2150.7 L1320.9,2153.3Z" fill="#ab9d96"/></g></g>
<g clip-path="url(#cp_orange)"><g clip-path="url(#cp_purple)"><path d="M1320.9,2153.3 L1318.6,2156.0 L1316.4,2158.9 L1314.3,2161.9 L1312.4,2165.1 L1310.6,2168.4 L1309.0,2171.9 L1307.6,2175.5 L1306.4,2179.2 L1305.3,2183.1 L1304.4,2187.1 L1303.6,2191.2 L1303.0,2195.4 L1302.6,2199.7 L1302.4,2204.2 L1302.3,2208.7 L1302.4,2213.4 L1302.7,2218.1 L1303.2,2222.9 L1303.8,2227.8 L1304.6,2232.7 L1305.5,2237.7 L1306.7,2242.8 L1308.0,2247.9 L1309.4,2253.1 L1311.1,2258.3 L1312.9,2263.6 L1314.8,2268.8 L1316.9,2274.1 L1319.2,2279.4 L1321.6,2284.7 L1324.1,2290.1 L1326.8,2295.4 L1329.7,2300.7 L1332.7,2305.9 L1335.8,2311.2 L1339.1,2316.4 L1342.4,2321.6 L1345.9,2326.7 L1349.6,2331.8 L1353.3,2336.8 L1357.2,2341.8 L1361.1,2346.7 L1365.2,2351.5 L1369.3,2356.3 L1373.6,2360.9 L1377.9,2365.5 L1382.3,2370.0 L1386.8,2374.3 L1391.3,2378.6 L1395.9,2382.7 L1400.6,2386.8 L1405.3,2390.7 L1410.1,2394.4 L1414.9,2398.1 L1419.8,2401.6 L1424.6,2404.9 L1429.5,2408.2 L1434.5,2411.2 L1439.4,2414.1 L1444.3,2416.9 L1449.3,2419.5 L1454.2,2421.9 L1459.1,2424.2 L1464.0,2426.3 L1468.9,2428.2 L1473.7,2430.0 L1478.5,2431.5 L1483.3,2432.9 L1488.0,2434.2 L1492.6,2435.2 L1497.2,2436.1 L1501.8,2436.7 L1506.2,2437.2 L1510.6,2437.5 L1514.9,2437.6 L1519.2,2437.6 L1523.3,2437.3 L1527.3,2436.9 L1531.2,2436.2 L1535.1,2435.4 L1538.8,2434.4 L1542.4,2433.3 L1545.8,2431.9 L1549.2,2430.4 L1552.4,2428.7 L1555.5,2426.8 L1558.4,2424.7 L1561.3,2422.5 L1563.9,2420.1 L1566.5,2417.6 L1568.8,2414.9 L1571.0,2412.0 L1573.1,2409.0 L1575.0,2405.8 L1576.8,2402.5 L1578.4,2399.0 L1579.8,2395.4 L1581.0,2391.6 L1582.1,2387.8 L1583.0,2383.8 L1583.8,2379.7 L1584.4,2375.4 L1584.8,2371.1 L1585.0,2366.7 L1585.1,2362.1 L1585.0,2357.5 L1584.7,2352.8 L1584.2,2347.9 L1583.6,2343.1 L1582.8,2338.1 L1581.9,2333.1 L1580.7,2328.0 L1579.4,2322.9 L1578.0,2317.7 L1576.3,2312.5 L1574.5,2307.3 L1572.6,2302.0 L1570.5,2296.7 L1568.2,2291.4 L1565.8,2286.1 L1563.3,2280.8 L1560.6,2275.5 L1557.7,2270.2 L1554.7,2264.9 L1551.6,2259.7 L1548.3,2254.4 L1545.0,2249.3 L1541.5,2244.1 L1537.8,2239.0 L1534.1,2234.0 L1530.2,2229.0 L1526.3,2224.1 L1522.2,2219.3 L1518.1,2214.6 L1513.8,2209.9 L1509.5,2205.3 L1505.1,2200.9 L1500.6,2196.5 L1496.1,2192.2 L1491.5,2188.1 L1486.8,2184.1 L1482.1,2180.2 L1477.3,2176.4 L1472.5,2172.8 L1467.6,2169.3 L1462.8,2165.9 L1457.9,2162.7 L1452.9,2159.6 L1448.0,2156.7 L1443.1,2153.9 L1438.1,2151.3 L1433.2,2148.9 L1428.3,2146.6 L1423.4,2144.5 L1418.5,2142.6 L1413.7,2140.9 L1408.9,2139.3 L1404.1,2137.9 L1399.4,2136.7 L1394.8,2135.6 L1390.2,2134.8 L1385.6,2134.1 L1381.2,2133.6 L1376.8,2133.3 L1372.5,2133.2 L1368.2,2133.3 L1364.1,2133.5 L1360.1,2134.0 L1356.2,2134.6 L1352.3,2135.4 L1348.6,2136.4 L1345.0,2137.6 L1341.6,2138.9 L1338.2,2140.4 L1335.0,2142.2 L1331.9,2144.0 L1329.0,2146.1 L1326.1,2148.3 L1323.5,2150.7 L1320.9,2153.3Z" fill="#a45a73"/></g></g>
<g clip-path="url(#cp_orange)"><g clip-path="url(#cp_purple)"><path d="M1395.3,2099.9 L1393.6,2101.9 L1392.0,2104.1 L1390.5,2106.5 L1389.2,2109.0 L1388.1,2111.7 L1387.1,2114.5 L1386.3,2117.5 L1385.6,2120.6 L1385.1,2123.8 L1384.8,2127.2 L1384.6,2130.7 L1384.6,2134.3 L1384.7,2138.1 L1385.0,2141.9 L1385.5,2145.9 L1386.1,2150.0 L1386.9,2154.1 L1387.9,2158.4 L1389.0,2162.7 L1390.2,2167.2 L1391.7,2171.7 L1393.3,2176.3 L1395.0,2181.0 L1396.9,2185.7 L1398.9,2190.5 L1401.1,2195.3 L1403.4,2200.2 L1405.8,2205.1 L1408.4,2210.0 L1411.2,2215.0 L1414.0,2220.0 L1417.0,2225.0 L1420.1,2230.0 L1423.3,2235.0 L1426.7,2240.0 L1430.1,2245.0 L1433.7,2250.0 L1437.4,2255.0 L1441.1,2259.9 L1445.0,2264.8 L1448.9,2269.7 L1452.9,2274.5 L1457.1,2279.3 L1461.2,2284.0 L1465.5,2288.7 L1469.8,2293.2 L1474.2,2297.7 L1478.6,2302.2 L1483.1,2306.5 L1487.6,2310.7 L1492.2,2314.9 L1496.8,2318.9 L1501.4,2322.9 L1506.0,2326.7 L1510.6,2330.4 L1515.3,2334.0 L1520.0,2337.5 L1524.6,2340.9 L1529.3,2344.1 L1533.9,2347.2 L1538.5,2350.1 L1543.1,2352.9 L1547.7,2355.5 L1552.2,2358.0 L1556.7,2360.4 L1561.1,2362.5 L1565.5,2364.6 L1569.9,2366.4 L1574.1,2368.1 L1578.3,2369.7 L1582.4,2371.0 L1586.5,2372.2 L1590.4,2373.3 L1594.3,2374.1 L1598.1,2374.8 L1601.8,2375.3 L1605.4,2375.6 L1608.8,2375.8 L1612.2,2375.8 L1615.5,2375.6 L1618.6,2375.2 L1621.6,2374.7 L1624.5,2374.0 L1627.2,2373.1 L1629.9,2372.0 L1632.3,2370.8 L1634.7,2369.4 L1636.9,2367.8 L1638.9,2366.1 L1640.9,2364.2 L1642.6,2362.1 L1644.2,2359.9 L1645.7,2357.5 L1647.0,2355.0 L1648.1,2352.3 L1649.1,2349.5 L1649.9,2346.6 L1650.6,2343.4 L1651.1,2340.2 L1651.4,2336.8 L1651.6,2333.3 L1651.6,2329.7 L1651.5,2326.0 L1651.2,2322.1 L1650.7,2318.2 L1650.1,2314.1 L1649.3,2309.9 L1648.3,2305.6 L1647.2,2301.3 L1646.0,2296.9 L1644.5,2292.3 L1642.9,2287.7 L1641.2,2283.1 L1639.3,2278.4 L1637.3,2273.6 L1635.1,2268.8 L1632.8,2263.9 L1630.4,2259.0 L1627.8,2254.0 L1625.0,2249.0 L1622.2,2244.1 L1619.2,2239.0 L1616.1,2234.0 L1612.9,2229.0 L1609.5,2224.0 L1606.1,2219.0 L1602.5,2214.0 L1598.8,2209.0 L1595.1,2204.1 L1591.2,2199.2 L1587.3,2194.3 L1583.3,2189.5 L1579.1,2184.7 L1575.0,2180.0 L1570.7,2175.4 L1566.4,2170.8 L1562.0,2166.3 L1557.6,2161.9 L1553.1,2157.5 L1548.6,2153.3 L1544.0,2149.1 L1539.4,2145.1 L1534.8,2141.1 L1530.2,2137.3 L1525.6,2133.6 L1520.9,2130.0 L1516.2,2126.5 L1511.6,2123.2 L1506.9,2120.0 L1502.3,2116.9 L1497.7,2114.0 L1493.1,2111.2 L1488.5,2108.5 L1484.0,2106.0 L1479.5,2103.7 L1475.1,2101.5 L1470.7,2099.5 L1466.3,2097.6 L1462.1,2095.9 L1457.9,2094.4 L1453.8,2093.0 L1449.7,2091.8 L1445.8,2090.8 L1441.9,2089.9 L1438.1,2089.2 L1434.4,2088.7 L1430.8,2088.4 L1427.4,2088.3 L1424.0,2088.3 L1420.7,2088.5 L1417.6,2088.8 L1414.6,2089.4 L1411.7,2090.1 L1409.0,2091.0 L1406.3,2092.0 L1403.9,2093.3 L1401.5,2094.7 L1399.3,2096.2 L1397.3,2098.0 L1395.3,2099.9Z" fill="#8499b9"/></g></g>
<g clip-path="url(#cp_orange)"><g clip-path="url(#cp_purple)"><g clip-path="url(#cp_blue)"><path d="M1320.9,2153.3 L1318.6,2156.0 L1316.4,2158.9 L1314.3,2161.9 L1312.4,2165.1 L1310.6,2168.4 L1309.0,2171.9 L1307.6,2175.5 L1306.4,2179.2 L1305.3,2183.1 L1304.4,2187.1 L1303.6,2191.2 L1303.0,2195.4 L1302.6,2199.7 L1302.4,2204.2 L1302.3,2208.7 L1302.4,2213.4 L1302.7,2218.1 L1303.2,2222.9 L1303.8,2227.8 L1304.6,2232.7 L1305.5,2237.7 L1306.7,2242.8 L1308.0,2247.9 L1309.4,2253.1 L1311.1,2258.3 L1312.9,2263.6 L1314.8,2268.8 L1316.9,2274.1 L1319.2,2279.4 L1321.6,2284.7 L1324.1,2290.1 L1326.8,2295.4 L1329.7,2300.7 L1332.7,2305.9 L1335.8,2311.2 L1339.1,2316.4 L1342.4,2321.6 L1345.9,2326.7 L1349.6,2331.8 L1353.3,2336.8 L1357.2,2341.8 L1361.1,2346.7 L1365.2,2351.5 L1369.3,2356.3 L1373.6,2360.9 L1377.9,2365.5 L1382.3,2370.0 L1386.8,2374.3 L1391.3,2378.6 L1395.9,2382.7 L1400.6,2386.8 L1405.3,2390.7 L1410.1,2394.4 L1414.9,2398.1 L1419.8,2401.6 L1424.6,2404.9 L1429.5,2408.2 L1434.5,2411.2 L1439.4,2414.1 L1444.3,2416.9 L1449.3,2419.5 L1454.2,2421.9 L1459.1,2424.2 L1464.0,2426.3 L1468.9,2428.2 L1473.7,2430.0 L1478.5,2431.5 L1483.3,2432.9 L1488.0,2434.2 L1492.6,2435.2 L1497.2,2436.1 L1501.8,2436.7 L1506.2,2437.2 L1510.6,2437.5 L1514.9,2437.6 L1519.2,2437.6 L1523.3,2437.3 L1527.3,2436.9 L1531.2,2436.2 L1535.1,2435.4 L1538.8,2434.4 L1542.4,2433.3 L1545.8,2431.9 L1549.2,2430.4 L1552.4,2428.7 L1555.5,2426.8 L1558.4,2424.7 L1561.3,2422.5 L1563.9,2420.1 L1566.5,2417.6 L1568.8,2414.9 L1571.0,2412.0 L1573.1,2409.0 L1575.0,2405.8 L1576.8,2402.5 L1578.4,2399.0 L1579.8,2395.4 L1581.0,2391.6 L1582.1,2387.8 L1583.0,2383.8 L1583.8,2379.7 L1584.4,2375.4 L1584.8,2371.1 L1585.0,2366.7 L1585.1,2362.1 L1585.0,2357.5 L1584.7,2352.8 L1584.2,2347.9 L1583.6,2343.1 L1582.8,2338.1 L1581.9,2333.1 L1580.7,2328.0 L1579.4,2322.9 L1578.0,2317.7 L1576.3,2312.5 L1574.5,2307.3 L1572.6,2302.0 L1570.5,2296.7 L1568.2,2291.4 L1565.8,2286.1 L1563.3,2280.8 L1560.6,2275.5 L1557.7,2270.2 L1554.7,2264.9 L1551.6,2259.7 L1548.3,2254.4 L1545.0,2249.3 L1541.5,2244.1 L1537.8,2239.0 L1534.1,2234.0 L1530.2,2229.0 L1526.3,2224.1 L1522.2,2219.3 L1518.1,2214.6 L1513.8,2209.9 L1509.5,2205.3 L1505.1,2200.9 L1500.6,2196.5 L1496.1,2192.2 L1491.5,2188.1 L1486.8,2184.1 L1482.1,2180.2 L1477.3,2176.4 L1472.5,2172.8 L1467.6,2169.3 L1462.8,2165.9 L1457.9,2162.7 L1452.9,2159.6 L1448.0,2156.7 L1443.1,2153.9 L1438.1,2151.3 L1433.2,2148.9 L1428.3,2146.6 L1423.4,2144.5 L1418.5,2142.6 L1413.7,2140.9 L1408.9,2139.3 L1404.1,2137.9 L1399.4,2136.7 L1394.8,2135.6 L1390.2,2134.8 L1385.6,2134.1 L1381.2,2133.6 L1376.8,2133.3 L1372.5,2133.2 L1368.2,2133.3 L1364.1,2133.5 L1360.1,2134.0 L1356.2,2134.6 L1352.3,2135.4 L1348.6,2136.4 L1345.0,2137.6 L1341.6,2138.9 L1338.2,2140.4 L1335.0,2142.2 L1331.9,2144.0 L1329.0,2146.1 L1326.1,2148.3 L1323.5,2150.7 L1320.9,2153.3Z" fill="#7f89ab"/></g></g></g>
<path d="M1715.3,2153.3 L1712.7,2150.7 L1710.1,2148.3 L1707.2,2146.1 L1704.3,2144.0 L1701.2,2142.2 L1698.0,2140.4 L1694.6,2138.9 L1691.2,2137.6 L1687.6,2136.4 L1683.9,2135.4 L1680.0,2134.6 L1676.1,2134.0 L1672.1,2133.5 L1668.0,2133.3 L1663.7,2133.2 L1659.4,2133.3 L1655.0,2133.6 L1650.6,2134.1 L1646.0,2134.8 L1641.4,2135.6 L1636.8,2136.7 L1632.1,2137.9 L1627.3,2139.3 L1622.5,2140.9 L1617.7,2142.6 L1612.8,2144.5 L1607.9,2146.6 L1603.0,2148.9 L1598.1,2151.3 L1593.1,2153.9 L1588.2,2156.7 L1583.3,2159.6 L1578.3,2162.7 L1573.4,2165.9 L1568.6,2169.3 L1563.7,2172.8 L1558.9,2176.4 L1554.1,2180.2 L1549.4,2184.1 L1544.7,2188.1 L1540.1,2192.2 L1535.6,2196.5 L1531.1,2200.9 L1526.7,2205.3 L1522.4,2209.9 L1518.1,2214.6 L1514.0,2219.3 L1509.9,2224.1 L1506.0,2229.0 L1502.1,2234.0 L1498.4,2239.0 L1494.7,2244.1 L1491.2,2249.3 L1487.9,2254.4 L1484.6,2259.7 L1481.5,2264.9 L1478.5,2270.2 L1475.6,2275.5 L1472.9,2280.8 L1470.4,2286.1 L1468.0,2291.4 L1465.7,2296.7 L1463.6,2302.0 L1461.7,2307.3 L1459.9,2312.5 L1458.2,2317.7 L1456.8,2322.9 L1455.5,2328.0 L1454.3,2333.1 L1453.4,2338.1 L1452.6,2343.1 L1452.0,2347.9 L1451.5,2352.8 L1451.2,2357.5 L1451.1,2362.1 L1451.2,2366.7 L1451.4,2371.1 L1451.8,2375.4 L1452.4,2379.7 L1453.2,2383.8 L1454.1,2387.8 L1455.2,2391.6 L1456.4,2395.4 L1457.8,2399.0 L1459.4,2402.5 L1461.2,2405.8 L1463.1,2409.0 L1465.2,2412.0 L1467.4,2414.9 L1469.7,2417.6 L1472.3,2420.1 L1474.9,2422.5 L1477.8,2424.7 L1480.7,2426.8 L1483.8,2428.7 L1487.0,2430.4 L1490.4,2431.9 L1493.8,2433.3 L1497.4,2434.4 L1501.1,2435.4 L1505.0,2436.2 L1508.9,2436.9 L1512.9,2437.3 L1517.0,2437.6 L1521.3,2437.6 L1525.6,2437.5 L1530.0,2437.2 L1534.4,2436.7 L1539.0,2436.1 L1543.6,2435.2 L1548.2,2434.2 L1552.9,2432.9 L1557.7,2431.5 L1562.5,2430.0 L1567.3,2428.2 L1572.2,2426.3 L1577.1,2424.2 L1582.0,2421.9 L1586.9,2419.5 L1591.9,2416.9 L1596.8,2414.1 L1601.7,2411.2 L1606.7,2408.2 L1611.6,2404.9 L1616.4,2401.6 L1621.3,2398.1 L1626.1,2394.4 L1630.9,2390.7 L1635.6,2386.8 L1640.3,2382.7 L1644.9,2378.6 L1649.4,2374.3 L1653.9,2370.0 L1658.3,2365.5 L1662.6,2360.9 L1666.9,2356.3 L1671.0,2351.5 L1675.1,2346.7 L1679.0,2341.8 L1682.9,2336.8 L1686.6,2331.8 L1690.3,2326.7 L1693.8,2321.6 L1697.1,2316.4 L1700.4,2311.2 L1703.5,2305.9 L1706.5,2300.7 L1709.4,2295.4 L1712.1,2290.1 L1714.6,2284.7 L1717.0,2279.4 L1719.3,2274.1 L1721.4,2268.8 L1723.3,2263.6 L1725.1,2258.3 L1726.8,2253.1 L1728.2,2247.9 L1729.5,2242.8 L1730.7,2237.7 L1731.6,2232.7 L1732.4,2227.8 L1733.0,2222.9 L1733.5,2218.1 L1733.8,2213.4 L1733.9,2208.7 L1733.8,2204.2 L1733.6,2199.7 L1733.2,2195.4 L1732.6,2191.2 L1731.8,2187.1 L1730.9,2183.1 L1729.8,2179.2 L1728.6,2175.5 L1727.2,2171.9 L1725.6,2168.4 L1723.8,2165.1 L1721.9,2161.9 L1719.8,2158.9 L1717.6,2156.0 L1715.3,2153.3Z" fill="none" stroke="#000" stroke-width="3.8"/>
<path d="M1320.9,2153.3 L1318.6,2156.0 L1316.4,2158.9 L1314.3,2161.9 L1312.4,2165.1 L1310.6,2168.4 L1309.0,2171.9 L1307.6,2175.5 L1306.4,2179.2 L1305.3,2183.1 L1304.4,2187.1 L1303.6,2191.2 L1303.0,2195.4 L1302.6,2199.7 L1302.4,2204.2 L1302.3,2208.7 L1302.4,2213.4 L1302.7,2218.1 L1303.2,2222.9 L1303.8,2227.8 L1304.6,2232.7 L1305.5,2237.7 L1306.7,2242.8 L1308.0,2247.9 L1309.4,2253.1 L1311.1,2258.3 L1312.9,2263.6 L1314.8,2268.8 L1316.9,2274.1 L1319.2,2279.4 L1321.6,2284.7 L1324.1,2290.1 L1326.8,2295.4 L1329.7,2300.7 L1332.7,2305.9 L1335.8,2311.2 L1339.1,2316.4 L1342.4,2321.6 L1345.9,2326.7 L1349.6,2331.8 L1353.3,2336.8 L1357.2,2341.8 L1361.1,2346.7 L1365.2,2351.5 L1369.3,2356.3 L1373.6,2360.9 L1377.9,2365.5 L1382.3,2370.0 L1386.8,2374.3 L1391.3,2378.6 L1395.9,2382.7 L1400.6,2386.8 L1405.3,2390.7 L1410.1,2394.4 L1414.9,2398.1 L1419.8,2401.6 L1424.6,2404.9 L1429.5,2408.2 L1434.5,2411.2 L1439.4,2414.1 L1444.3,2416.9 L1449.3,2419.5 L1454.2,2421.9 L1459.1,2424.2 L1464.0,2426.3 L1468.9,2428.2 L1473.7,2430.0 L1478.5,2431.5 L1483.3,2432.9 L1488.0,2434.2 L1492.6,2435.2 L1497.2,2436.1 L1501.8,2436.7 L1506.2,2437.2 L1510.6,2437.5 L1514.9,2437.6 L1519.2,2437.6 L1523.3,2437.3 L1527.3,2436.9 L1531.2,2436.2 L1535.1,2435.4 L1538.8,2434.4 L1542.4,2433.3 L1545.8,2431.9 L1549.2,2430.4 L1552.4,2428.7 L1555.5,2426.8 L1558.4,2424.7 L1561.3,2422.5 L1563.9,2420.1 L1566.5,2417.6 L1568.8,2414.9 L1571.0,2412.0 L1573.1,2409.0 L1575.0,2405.8 L1576.8,2402.5 L1578.4,2399.0 L1579.8,2395.4 L1581.0,2391.6 L1582.1,2387.8 L1583.0,2383.8 L1583.8,2379.7 L1584.4,2375.4 L1584.8,2371.1 L1585.0,2366.7 L1585.1,2362.1 L1585.0,2357.5 L1584.7,2352.8 L1584.2,2347.9 L1583.6,2343.1 L1582.8,2338.1 L1581.9,2333.1 L1580.7,2328.0 L1579.4,2322.9 L1578.0,2317.7 L1576.3,2312.5 L1574.5,2307.3 L1572.6,2302.0 L1570.5,2296.7 L1568.2,2291.4 L1565.8,2286.1 L1563.3,2280.8 L1560.6,2275.5 L1557.7,2270.2 L1554.7,2264.9 L1551.6,2259.7 L1548.3,2254.4 L1545.0,2249.3 L1541.5,2244.1 L1537.8,2239.0 L1534.1,2234.0 L1530.2,2229.0 L1526.3,2224.1 L1522.2,2219.3 L1518.1,2214.6 L1513.8,2209.9 L1509.5,2205.3 L1505.1,2200.9 L1500.6,2196.5 L1496.1,2192.2 L1491.5,2188.1 L1486.8,2184.1 L1482.1,2180.2 L1477.3,2176.4 L1472.5,2172.8 L1467.6,2169.3 L1462.8,2165.9 L1457.9,2162.7 L1452.9,2159.6 L1448.0,2156.7 L1443.1,2153.9 L1438.1,2151.3 L1433.2,2148.9 L1428.3,2146.6 L1423.4,2144.5 L1418.5,2142.6 L1413.7,2140.9 L1408.9,2139.3 L1404.1,2137.9 L1399.4,2136.7 L1394.8,2135.6 L1390.2,2134.8 L1385.6,2134.1 L1381.2,2133.6 L1376.8,2133.3 L1372.5,2133.2 L1368.2,2133.3 L1364.1,2133.5 L1360.1,2134.0 L1356.2,2134.6 L1352.3,2135.4 L1348.6,2136.4 L1345.0,2137.6 L1341.6,2138.9 L1338.2,2140.4 L1335.0,2142.2 L1331.9,2144.0 L1329.0,2146.1 L1326.1,2148.3 L1323.5,2150.7 L1320.9,2153.3Z" fill="none" stroke="#000" stroke-width="3.8"/>
<path d="M1633.8,2107.4 L1631.9,2105.5 L1629.9,2103.8 L1627.7,2102.2 L1625.4,2100.7 L1622.9,2099.5 L1620.4,2098.4 L1617.7,2097.4 L1614.9,2096.6 L1611.9,2096.0 L1608.9,2095.6 L1605.7,2095.3 L1602.4,2095.1 L1599.1,2095.2 L1595.6,2095.4 L1592.0,2095.8 L1588.4,2096.3 L1584.6,2097.0 L1580.8,2097.9 L1576.9,2099.0 L1572.9,2100.2 L1568.9,2101.5 L1564.8,2103.0 L1560.7,2104.7 L1556.4,2106.6 L1552.2,2108.5 L1547.9,2110.7 L1543.6,2113.0 L1539.2,2115.4 L1534.8,2118.0 L1530.4,2120.7 L1526.0,2123.5 L1521.6,2126.5 L1517.1,2129.6 L1512.7,2132.8 L1508.2,2136.2 L1503.8,2139.6 L1499.4,2143.2 L1495.1,2146.9 L1490.7,2150.7 L1486.4,2154.6 L1482.1,2158.6 L1477.9,2162.7 L1473.7,2166.8 L1469.6,2171.1 L1465.5,2175.4 L1461.5,2179.8 L1457.5,2184.2 L1453.7,2188.7 L1449.9,2193.3 L1446.2,2197.9 L1442.6,2202.5 L1439.1,2207.2 L1435.6,2211.9 L1432.3,2216.7 L1429.1,2221.4 L1426.0,2226.2 L1423.0,2231.0 L1420.1,2235.7 L1417.3,2240.5 L1414.7,2245.3 L1412.2,2250.0 L1409.8,2254.7 L1407.5,2259.4 L1405.4,2264.1 L1403.4,2268.7 L1401.6,2273.3 L1399.9,2277.8 L1398.3,2282.3 L1396.9,2286.7 L1395.6,2291.1 L1394.5,2295.3 L1393.5,2299.5 L1392.7,2303.7 L1392.1,2307.7 L1391.6,2311.6 L1391.2,2315.5 L1391.0,2319.2 L1391.0,2322.8 L1391.1,2326.3 L1391.3,2329.7 L1391.8,2333.0 L1392.3,2336.2 L1393.1,2339.2 L1394.0,2342.1 L1395.0,2344.9 L1396.2,2347.5 L1397.5,2350.0 L1399.0,2352.4 L1400.6,2354.6 L1402.4,2356.6 L1404.3,2358.5 L1406.3,2360.3 L1408.5,2361.9 L1410.8,2363.3 L1413.3,2364.6 L1415.8,2365.7 L1418.5,2366.6 L1421.3,2367.4 L1424.3,2368.0 L1427.3,2368.5 L1430.5,2368.8 L1433.8,2368.9 L1437.1,2368.8 L1440.6,2368.6 L1444.2,2368.3 L1447.8,2367.7 L1451.6,2367.0 L1455.4,2366.1 L1459.3,2365.1 L1463.3,2363.9 L1467.3,2362.5 L1471.4,2361.0 L1475.5,2359.3 L1479.8,2357.5 L1484.0,2355.5 L1488.3,2353.4 L1492.6,2351.1 L1497.0,2348.7 L1501.4,2346.1 L1505.8,2343.4 L1510.2,2340.5 L1514.6,2337.6 L1519.1,2334.4 L1523.5,2331.2 L1528.0,2327.9 L1532.4,2324.4 L1536.8,2320.8 L1541.1,2317.1 L1545.5,2313.3 L1549.8,2309.4 L1554.1,2305.4 L1558.3,2301.4 L1562.5,2297.2 L1566.6,2293.0 L1570.7,2288.7 L1574.7,2284.3 L1578.7,2279.8 L1582.5,2275.3 L1586.3,2270.8 L1590.0,2266.2 L1593.6,2261.5 L1597.1,2256.8 L1600.6,2252.1 L1603.9,2247.4 L1607.1,2242.6 L1610.2,2237.9 L1613.2,2233.1 L1616.1,2228.3 L1618.9,2223.5 L1621.5,2218.8 L1624.0,2214.0 L1626.4,2209.3 L1628.7,2204.6 L1630.8,2199.9 L1632.8,2195.3 L1634.6,2190.7 L1636.3,2186.2 L1637.9,2181.7 L1639.3,2177.3 L1640.6,2173.0 L1641.7,2168.7 L1642.7,2164.5 L1643.5,2160.4 L1644.1,2156.4 L1644.6,2152.4 L1645.0,2148.6 L1645.2,2144.9 L1645.2,2141.2 L1645.1,2137.7 L1644.9,2134.3 L1644.4,2131.0 L1643.9,2127.9 L1643.1,2124.8 L1642.2,2121.9 L1641.2,2119.1 L1640.0,2116.5 L1638.7,2114.0 L1637.2,2111.7 L1635.6,2109.5 L1633.8,2107.4Z" fill="none" stroke="#000" stroke-width="3.8"/>
<path d="M1395.3,2099.9 L1393.6,2101.9 L1392.0,2104.1 L1390.5,2106.5 L1389.2,2109.0 L1388.1,2111.7 L1387.1,2114.5 L1386.3,2117.5 L1385.6,2120.6 L1385.1,2123.8 L1384.8,2127.2 L1384.6,2130.7 L1384.6,2134.3 L1384.7,2138.1 L1385.0,2141.9 L1385.5,2145.9 L1386.1,2150.0 L1386.9,2154.1 L1387.9,2158.4 L1389.0,2162.7 L1390.2,2167.2 L1391.7,2171.7 L1393.3,2176.3 L1395.0,2181.0 L1396.9,2185.7 L1398.9,2190.5 L1401.1,2195.3 L1403.4,2200.2 L1405.8,2205.1 L1408.4,2210.0 L1411.2,2215.0 L1414.0,2220.0 L1417.0,2225.0 L1420.1,2230.0 L1423.3,2235.0 L1426.7,2240.0 L1430.1,2245.0 L1433.7,2250.0 L1437.4,2255.0 L1441.1,2259.9 L1445.0,2264.8 L1448.9,2269.7 L1452.9,2274.5 L1457.1,2279.3 L1461.2,2284.0 L1465.5,2288.7 L1469.8,2293.2 L1474.2,2297.7 L1478.6,2302.2 L1483.1,2306.5 L1487.6,2310.7 L1492.2,2314.9 L1496.8,2318.9 L1501.4,2322.9 L1506.0,2326.7 L1510.6,2330.4 L1515.3,2334.0 L1520.0,2337.5 L1524.6,2340.9 L1529.3,2344.1 L1533.9,2347.2 L1538.5,2350.1 L1543.1,2352.9 L1547.7,2355.5 L1552.2,2358.0 L1556.7,2360.4 L1561.1,2362.5 L1565.5,2364.6 L1569.9,2366.4 L1574.1,2368.1 L1578.3,2369.7 L1582.4,2371.0 L1586.5,2372.2 L1590.4,2373.3 L1594.3,2374.1 L1598.1,2374.8 L1601.8,2375.3 L1605.4,2375.6 L1608.8,2375.8 L1612.2,2375.8 L1615.5,2375.6 L1618.6,2375.2 L1621.6,2374.7 L1624.5,2374.0 L1627.2,2373.1 L1629.9,2372.0 L1632.3,2370.8 L1634.7,2369.4 L1636.9,2367.8 L1638.9,2366.1 L1640.9,2364.2 L1642.6,2362.1 L1644.2,2359.9 L1645.7,2357.5 L1647.0,2355.0 L1648.1,2352.3 L1649.1,2349.5 L1649.9,2346.6 L1650.6,2343.4 L1651.1,2340.2 L1651.4,2336.8 L1651.6,2333.3 L1651.6,2329.7 L1651.5,2326.0 L1651.2,2322.1 L1650.7,2318.2 L1650.1,2314.1 L1649.3,2309.9 L1648.3,2305.6 L1647.2,2301.3 L1646.0,2296.9 L1644.5,2292.3 L1642.9,2287.7 L1641.2,2283.1 L1639.3,2278.4 L1637.3,2273.6 L1635.1,2268.8 L1632.8,2263.9 L1630.4,2259.0 L1627.8,2254.0 L1625.0,2249.0 L1622.2,2244.1 L1619.2,2239.0 L1616.1,2234.0 L1612.9,2229.0 L1609.5,2224.0 L1606.1,2219.0 L1602.5,2214.0 L1598.8,2209.0 L1595.1,2204.1 L1591.2,2199.2 L1587.3,2194.3 L1583.3,2189.5 L1579.1,2184.7 L1575.0,2180.0 L1570.7,2175.4 L1566.4,2170.8 L1562.0,2166.3 L1557.6,2161.9 L1553.1,2157.5 L1548.6,2153.3 L1544.0,2149.1 L1539.4,2145.1 L1534.8,2141.1 L1530.2,2137.3 L1525.6,2133.6 L1520.9,2130.0 L1516.2,2126.5 L1511.6,2123.2 L1506.9,2120.0 L1502.3,2116.9 L1497.7,2114.0 L1493.1,2111.2 L1488.5,2108.5 L1484.0,2106.0 L1479.5,2103.7 L1475.1,2101.5 L1470.7,2099.5 L1466.3,2097.6 L1462.1,2095.9 L1457.9,2094.4 L1453.8,2093.0 L1449.7,2091.8 L1445.8,2090.8 L1441.9,2089.9 L1438.1,2089.2 L1434.4,2088.7 L1430.8,2088.4 L1427.4,2088.3 L1424.0,2088.3 L1420.7,2088.5 L1417.6,2088.8 L1414.6,2089.4 L1411.7,2090.1 L1409.0,2091.0 L1406.3,2092.0 L1403.9,2093.3 L1401.5,2094.7 L1399.3,2096.2 L1397.3,2098.0 L1395.3,2099.9Z" fill="none" stroke="#000" stroke-width="3.8"/>
<text x="1440.1" y="2134.6" font-size="25" text-anchor="middle">4</text>
<text x="1582.9" y="2134.6" font-size="25" text-anchor="middle">2</text>
<text x="1426.0" y="2186.1" font-size="25" text-anchor="middle">0</text>
<text x="1521.0" y="2175.8" font-size="25" text-anchor="middle">0</text>
<text x="1615.2" y="2186.1" font-size="25" text-anchor="middle">0</text>
<text x="1368.9" y="2233.2" font-size="25" text-anchor="middle">982</text>
<text x="1682.9" y="2218.5" font-size="25" text-anchor="middle">8</text>
<text x="1471.9" y="2233.2" font-size="25" text-anchor="middle">0</text>
<text x="1570.5" y="2233.2" font-size="25" text-anchor="middle">0</text>
<text x="1521.0" y="2292.1" font-size="25" text-anchor="middle">0</text>
<text x="1428.3" y="2318.6" font-size="25" text-anchor="middle">0</text>
<text x="1609.4" y="2318.6" font-size="25" text-anchor="middle">0</text>
<text x="1478.4" y="2345.1" font-size="25" text-anchor="middle">0</text>
<text x="1557.3" y="2345.1" font-size="25" text-anchor="middle">0</text>
<text x="1522.5" y="2401.0" font-size="25" text-anchor="middle">1</text>
<line x1="1522.7" y1="2413.0" x2="1522.7" y2="2460.0" stroke="#000" stroke-width="2.6"/>
<polygon points="1516.3,2457.9 1529.8,2457.9 1523,2468.6" fill="#000"/>
<text x="1526.0" y="2498.0" font-size="24" text-anchor="middle">YTHDF1</text>
<text x="1353.7" y="2076.8" font-size="24" fill="#4bb0e0">m<tspan dy="-8" font-size="15">6</tspan><tspan dy="8">A Writers</tspan></text>
<text x="1563.4" y="2072.0" font-size="24" fill="#e09aa5">m<tspan dy="-8" font-size="15">6</tspan><tspan dy="8">A Erasers</tspan></text>
<text x="1342.0" y="2358.0" font-size="24" text-anchor="middle" fill="#e48a95" transform="rotate(46 1342.0 2358.0)">T24 in MFM vs NM</text>
<text x="1318.0" y="2381.0" font-size="24" text-anchor="middle" fill="#e48a95" transform="rotate(46 1318.0 2381.0)">Different genes</text>
<text x="1695.4" y="2374.6" font-size="24" text-anchor="middle" fill="#e8b040" transform="rotate(-45.5 1695.4 2374.6)">m<tspan dy="-8" font-size="15">6</tspan><tspan dy="8">A Readers</tspan></text>
</svg></body></html>
